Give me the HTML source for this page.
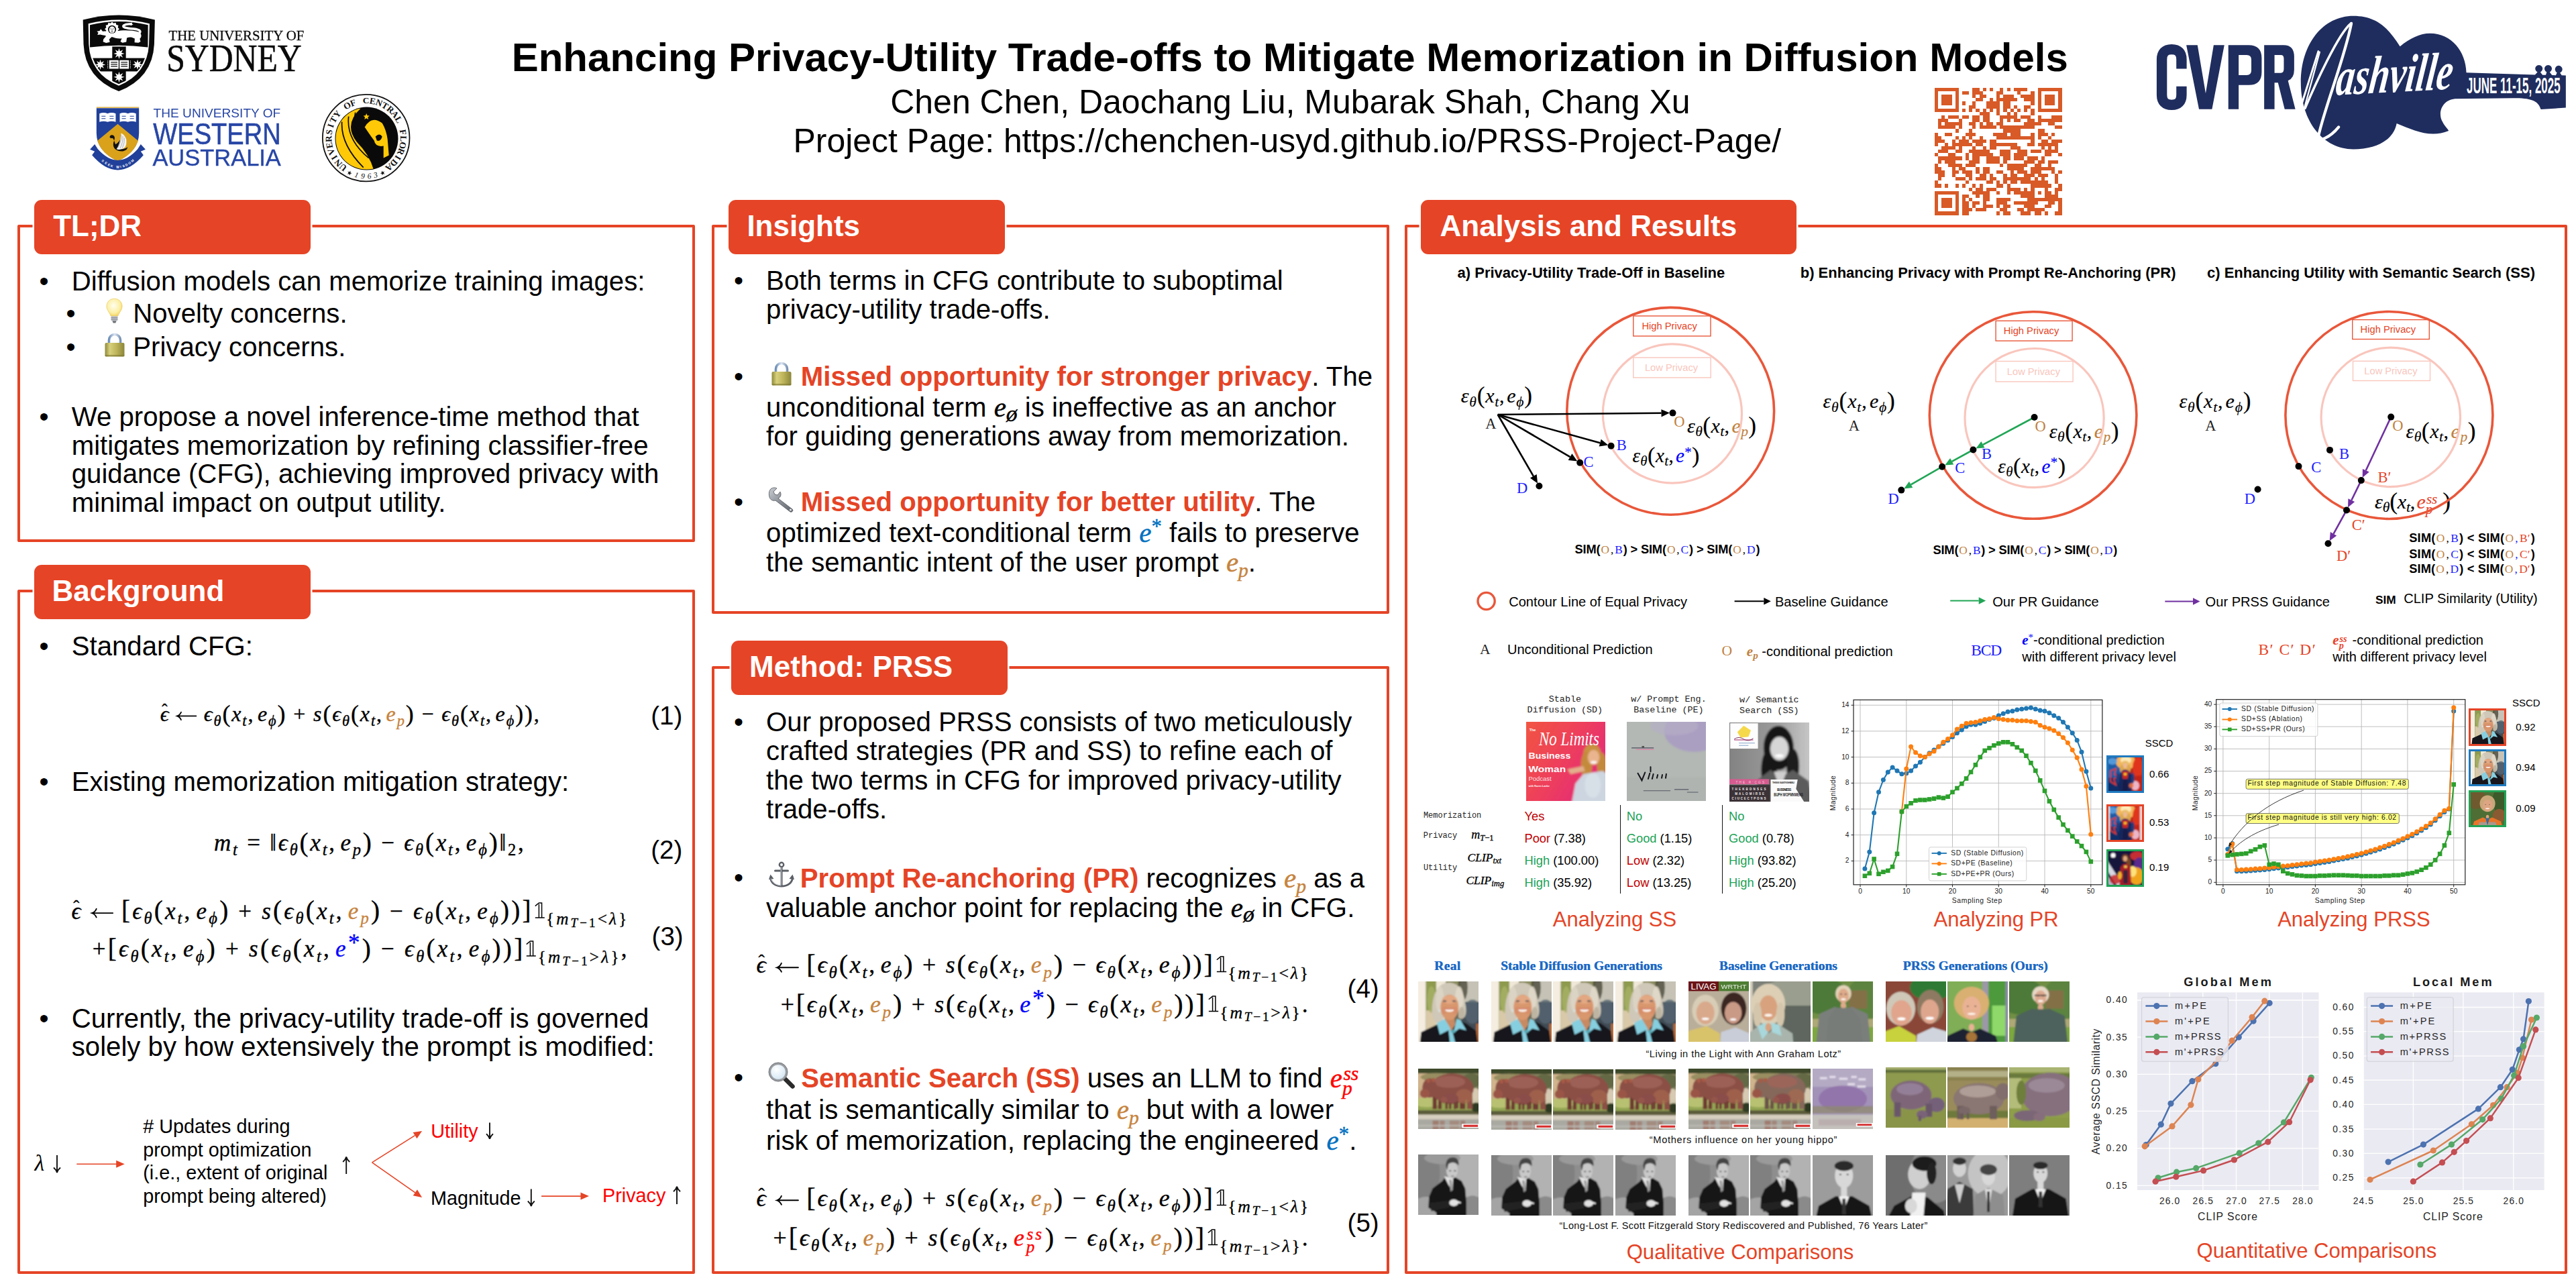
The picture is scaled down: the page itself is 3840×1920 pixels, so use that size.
<!DOCTYPE html>
<html><head><meta charset="utf-8"><title>PRSS Poster</title>
<style>
html,body{margin:0;padding:0;background:#fff;font-family:"Liberation Sans",sans-serif;}
body{width:3840px;height:1920px;position:relative;overflow:hidden;font-family:"Liberation Sans",sans-serif;color:#000;}
.t{position:absolute;white-space:nowrap;line-height:1;}
.box{position:absolute;border:4px solid #E54426;box-sizing:border-box;border-radius:2px;}
.pill{position:absolute;background:#E54426;border-radius:11px;box-shadow:0 0 0 2.5px #fff;}
.abs{position:absolute;}
svg{position:absolute;overflow:visible;}
sub,sup{line-height:0;}
</style></head>
<body>
<!-- header -->
<div class="t" style="left:762.7px;top:56.0px;font-size:60.0px;font-weight:bold;">Enhancing Privacy-Utility Trade-offs to Mitigate Memorization in Diffusion Models</div>
<div class="t" style="left:1327.2px;top:126.7px;font-size:50.0px;">Chen Chen, Daochang Liu, Mubarak Shah, Chang Xu</div>
<div class="t" style="left:1182.5px;top:186.3px;font-size:49.9px;">Project Page: https://chenchen-usyd.github.io/PRSS-Project-Page/</div>
<svg style="left:2883.9px;top:131.1px" width="189.5" height="189.5" viewBox="0 0 37 37" shape-rendering="crispEdges"><path d="M0 0h7v1h-7zM11 0h2v1h-2zM14 0h1v1h-1zM16 0h1v1h-1zM19 0h1v1h-1zM21 0h1v1h-1zM23 0h4v1h-4zM30 0h7v1h-7zM0 1h1v1h-1zM6 1h1v1h-1zM8 1h2v1h-2zM11 1h3v1h-3zM18 1h2v1h-2zM24 1h1v1h-1zM28 1h1v1h-1zM30 1h1v1h-1zM36 1h1v1h-1zM0 2h1v1h-1zM2 2h3v1h-3zM6 2h1v1h-1zM11 2h1v1h-1zM13 2h2v1h-2zM18 2h1v1h-1zM20 2h3v1h-3zM25 2h4v1h-4zM30 2h1v1h-1zM32 2h3v1h-3zM36 2h1v1h-1zM0 3h1v1h-1zM2 3h3v1h-3zM6 3h1v1h-1zM12 3h2v1h-2zM16 3h1v1h-1zM18 3h6v1h-6zM26 3h3v1h-3zM30 3h1v1h-1zM32 3h3v1h-3zM36 3h1v1h-1zM0 4h1v1h-1zM2 4h3v1h-3zM6 4h1v1h-1zM8 4h1v1h-1zM11 4h1v1h-1zM15 4h4v1h-4zM20 4h2v1h-2zM28 4h1v1h-1zM30 4h1v1h-1zM32 4h3v1h-3zM36 4h1v1h-1zM0 5h1v1h-1zM6 5h1v1h-1zM10 5h2v1h-2zM15 5h4v1h-4zM20 5h2v1h-2zM23 5h1v1h-1zM26 5h2v1h-2zM30 5h1v1h-1zM36 5h1v1h-1zM0 6h7v1h-7zM8 6h1v1h-1zM10 6h1v1h-1zM12 6h1v1h-1zM14 6h1v1h-1zM16 6h1v1h-1zM18 6h1v1h-1zM20 6h1v1h-1zM22 6h1v1h-1zM24 6h1v1h-1zM26 6h1v1h-1zM28 6h1v1h-1zM30 6h7v1h-7zM13 7h3v1h-3zM18 7h1v1h-1zM21 7h1v1h-1zM23 7h1v1h-1zM28 7h1v1h-1zM2 8h1v1h-1zM4 8h3v1h-3zM8 8h2v1h-2zM11 8h2v1h-2zM14 8h2v1h-2zM19 8h5v1h-5zM25 8h3v1h-3zM30 8h1v1h-1zM34 8h3v1h-3zM1 9h3v1h-3zM7 9h1v1h-1zM11 9h2v1h-2zM14 9h2v1h-2zM19 9h1v1h-1zM21 9h1v1h-1zM23 9h2v1h-2zM27 9h2v1h-2zM30 9h7v1h-7zM1 10h1v1h-1zM3 10h5v1h-5zM10 10h2v1h-2zM13 10h1v1h-1zM15 10h2v1h-2zM18 10h2v1h-2zM26 10h5v1h-5zM33 10h2v1h-2zM1 11h5v1h-5zM7 11h1v1h-1zM11 11h1v1h-1zM13 11h5v1h-5zM19 11h10v1h-10zM35 11h2v1h-2zM6 12h1v1h-1zM10 12h1v1h-1zM20 12h5v1h-5zM30 12h2v1h-2zM0 13h1v1h-1zM3 13h2v1h-2zM9 13h3v1h-3zM17 13h4v1h-4zM22 13h3v1h-3zM28 13h1v1h-1zM30 13h3v1h-3zM34 13h1v1h-1zM0 14h2v1h-2zM6 14h1v1h-1zM8 14h1v1h-1zM10 14h1v1h-1zM13 14h1v1h-1zM18 14h11v1h-11zM30 14h1v1h-1zM33 14h1v1h-1zM0 15h3v1h-3zM5 15h1v1h-1zM7 15h3v1h-3zM11 15h4v1h-4zM16 15h2v1h-2zM28 15h1v1h-1zM31 15h2v1h-2zM34 15h3v1h-3zM0 16h1v1h-1zM3 16h1v1h-1zM5 16h6v1h-6zM12 16h2v1h-2zM16 16h8v1h-8zM27 16h2v1h-2zM30 16h6v1h-6zM2 17h4v1h-4zM7 17h1v1h-1zM11 17h1v1h-1zM14 17h1v1h-1zM16 17h2v1h-2zM22 17h3v1h-3zM31 17h1v1h-1zM33 17h1v1h-1zM35 17h1v1h-1zM1 18h3v1h-3zM6 18h2v1h-2zM10 18h6v1h-6zM19 18h3v1h-3zM24 18h3v1h-3zM28 18h3v1h-3zM32 18h4v1h-4zM0 19h1v1h-1zM4 19h2v1h-2zM9 19h1v1h-1zM11 19h6v1h-6zM19 19h3v1h-3zM23 19h4v1h-4zM32 19h2v1h-2zM36 19h1v1h-1zM1 20h7v1h-7zM9 20h1v1h-1zM11 20h2v1h-2zM15 20h4v1h-4zM20 20h2v1h-2zM23 20h3v1h-3zM27 20h3v1h-3zM31 20h1v1h-1zM1 21h1v1h-1zM3 21h3v1h-3zM10 21h3v1h-3zM15 21h4v1h-4zM20 21h1v1h-1zM26 21h3v1h-3zM30 21h2v1h-2zM33 21h3v1h-3zM0 22h1v1h-1zM4 22h4v1h-4zM9 22h3v1h-3zM19 22h1v1h-1zM21 22h6v1h-6zM29 22h2v1h-2zM33 22h1v1h-1zM0 23h2v1h-2zM5 23h1v1h-1zM7 23h2v1h-2zM12 23h1v1h-1zM14 23h2v1h-2zM21 23h5v1h-5zM28 23h7v1h-7zM0 24h3v1h-3zM5 24h2v1h-2zM8 24h3v1h-3zM12 24h1v1h-1zM14 24h2v1h-2zM18 24h2v1h-2zM22 24h1v1h-1zM24 24h3v1h-3zM28 24h3v1h-3zM34 24h1v1h-1zM36 24h1v1h-1zM1 25h2v1h-2zM5 25h1v1h-1zM9 25h2v1h-2zM13 25h2v1h-2zM16 25h1v1h-1zM20 25h1v1h-1zM22 25h2v1h-2zM26 25h3v1h-3zM30 25h3v1h-3zM35 25h1v1h-1zM1 26h1v1h-1zM6 26h3v1h-3zM10 26h1v1h-1zM12 26h3v1h-3zM16 26h2v1h-2zM20 26h8v1h-8zM29 26h1v1h-1zM31 26h1v1h-1zM35 26h1v1h-1zM0 27h1v1h-1zM9 27h1v1h-1zM15 27h2v1h-2zM18 27h1v1h-1zM20 27h1v1h-1zM22 27h2v1h-2zM25 27h8v1h-8zM35 27h1v1h-1zM0 28h2v1h-2zM3 28h1v1h-1zM6 28h1v1h-1zM8 28h1v1h-1zM11 28h1v1h-1zM13 28h1v1h-1zM18 28h2v1h-2zM21 28h1v1h-1zM28 28h6v1h-6zM36 28h1v1h-1zM10 29h1v1h-1zM12 29h2v1h-2zM15 29h3v1h-3zM21 29h4v1h-4zM26 29h1v1h-1zM28 29h1v1h-1zM32 29h1v1h-1zM35 29h2v1h-2zM0 30h7v1h-7zM11 30h5v1h-5zM18 30h1v1h-1zM21 30h1v1h-1zM23 30h6v1h-6zM30 30h1v1h-1zM32 30h2v1h-2zM35 30h1v1h-1zM0 31h1v1h-1zM6 31h1v1h-1zM8 31h2v1h-2zM12 31h1v1h-1zM14 31h2v1h-2zM25 31h4v1h-4zM32 31h4v1h-4zM0 32h1v1h-1zM2 32h3v1h-3zM6 32h1v1h-1zM8 32h1v1h-1zM10 32h1v1h-1zM14 32h2v1h-2zM18 32h4v1h-4zM27 32h10v1h-10zM0 33h1v1h-1zM2 33h3v1h-3zM6 33h1v1h-1zM8 33h2v1h-2zM11 33h2v1h-2zM14 33h1v1h-1zM18 33h3v1h-3zM23 33h7v1h-7zM33 33h2v1h-2zM36 33h1v1h-1zM0 34h1v1h-1zM2 34h3v1h-3zM6 34h1v1h-1zM8 34h2v1h-2zM11 34h1v1h-1zM14 34h3v1h-3zM18 34h1v1h-1zM20 34h2v1h-2zM26 34h3v1h-3zM32 34h2v1h-2zM36 34h1v1h-1zM0 35h1v1h-1zM6 35h1v1h-1zM8 35h3v1h-3zM12 35h3v1h-3zM19 35h2v1h-2zM24 35h2v1h-2zM27 35h5v1h-5zM36 35h1v1h-1zM0 36h7v1h-7zM8 36h2v1h-2zM18 36h1v1h-1zM20 36h2v1h-2zM25 36h3v1h-3zM29 36h2v1h-2zM32 36h1v1h-1zM35 36h2v1h-2z" fill="#D85A27"/></svg>
<svg style="left:110px;top:10px" width="140" height="139.800" viewBox="0 0 1001.800 1000"><path d="M98 140 Q480 40 865 140 L858 400 Q840 760 480 902 Q120 760 104 400 Z" fill="#0A0A0A"/><path d="M155 180 Q480 100 808 180 L802 400 Q785 715 480 842 Q175 715 160 400 Z" fill="#fff"/><path d="M172 195 Q480 120 792 195 L790 432 Q480 395 172 432 Z" fill="#0A0A0A"/><clipPath id="sydc"><path d="M172 195 Q480 120 792 195 L786 400 Q770 705 480 825 Q190 705 176 400 Z"/></clipPath><g clip-path="url(#sydc)"><rect x="410" y="425" width="146" height="420" fill="#0A0A0A"/><rect x="150" y="548" width="660" height="142" fill="#0A0A0A"/></g><polygon points="483.0,442.0 492.9,476.0 524.0,459.0 507.0,490.1 541.0,500.0 507.0,509.9 524.0,541.0 492.9,524.0 483.0,558.0 473.1,524.0 442.0,541.0 459.0,509.9 425.0,500.0 459.0,490.1 442.0,459.0 473.1,476.0" fill="#fff"/><polygon points="283.0,563.0 292.6,594.9 321.9,579.1 306.1,608.4 338.0,618.0 306.1,627.6 321.9,656.9 292.6,641.1 283.0,673.0 273.4,641.1 244.1,656.9 259.9,627.6 228.0,618.0 259.9,608.4 244.1,579.1 273.4,594.9" fill="#fff"/><polygon points="680.0,563.0 689.6,594.9 718.9,579.1 703.1,608.4 735.0,618.0 703.1,627.6 718.9,656.9 689.6,641.1 680.0,673.0 670.4,641.1 641.1,656.9 656.9,627.6 625.0,618.0 656.9,608.4 641.1,579.1 670.4,594.9" fill="#fff"/><polygon points="483.0,692.0 492.9,726.0 524.0,709.0 507.0,740.1 541.0,750.0 507.0,759.9 524.0,791.0 492.9,774.0 483.0,808.0 473.1,774.0 442.0,791.0 459.0,759.9 425.0,750.0 459.0,740.1 442.0,709.0 473.1,726.0" fill="#fff"/><path d="M378 570 H478 V662 H378 Z M488 570 H588 V662 H488 Z" fill="#fff"/><path d="M395 592 H465 M395 614 H465 M395 636 H465 M503 592 H573 M503 614 H573 M503 636 H573" stroke="#0A0A0A" stroke-width="9"/><path d="M362 575 v90 M604 575 v90" stroke="#fff" stroke-width="8" stroke-dasharray="10 8"/><path d="M455 262 C520 246 620 250 690 268 C728 285 726 325 704 342 L712 372 L690 384 L648 380 L650 340 C620 322 590 322 566 332 L560 376 L520 384 L498 372 L512 338 C480 346 432 332 405 322 L378 346 L384 378 L345 386 L312 374 L316 346 L344 312 C328 300 300 304 282 296 L252 300 L262 278 L246 262 L276 258 L288 238 L308 262 C352 260 402 262 455 262 Z" fill="#fff"/><path d="M690 290 Q744 250 640 236 Q505 226 532 200 Q560 180 612 186" fill="none" stroke="#fff" stroke-width="24" stroke-linecap="round"/><path d="M596 176 l30 -10 l-12 18 l22 4 l-26 12 z" fill="#fff"/><polygon points="486.0,238.0 469.8,254.6 475.5,277.0 453.3,283.3 447.0,305.5 424.6,299.8 408.0,316.0 391.4,299.8 369.0,305.5 362.7,283.3 340.5,277.0 346.2,254.6 330.0,238.0 346.2,221.4 340.5,199.0 362.7,192.7 369.0,170.5 391.4,176.2 408.0,160.0 424.6,176.2 447.0,170.5 453.3,192.7 475.5,199.0 469.8,221.4" fill="#fff"/><circle cx="408" cy="242" r="44" fill="#0A0A0A"/><ellipse cx="408" cy="246" rx="31" ry="37" fill="#fff"/><path d="M390 236 h12 M414 236 h12 M408 244 v14 M398 266 q10 8 20 0" stroke="#0A0A0A" stroke-width="6" fill="none"/></svg>
<div class="t" style="left:251.4px;top:43.1px;font-size:20.86px;font-family:'Liberation Serif',serif;color:#0A0A0A;transform:scaleY(1.025);transform-origin:0 17.5px;-webkit-text-stroke:0.25px;">THE UNIVERSITY OF</div>
<div class="t" style="left:248.2px;top:64.8px;font-size:49.68px;font-family:'Liberation Serif',serif;color:#0A0A0A;transform:scaleY(1.137);transform-origin:0 41.6px;-webkit-text-stroke:0.5px;">SYDNEY</div>
<svg style="left:120px;top:140px" width="105" height="125" viewBox="0 0 520.200 619.300"><path d="M118 97 H432 V103 H118 Z" fill="#DAA21B"/><path d="M118 105 H432 V290 Q432 420 275 497 Q118 420 118 290 Z" fill="#21409A"/><path d="M275 222 L425 345 Q395 440 275 497 Q155 440 125 345 Z" fill="#DAA21B"/><g fill="#fff"><path d="M140 145 q30 -12 60 0 q30 -12 60 0 v62 q-30 -10 -60 0 q-30 -10 -60 0 z"/><path d="M290 145 q30 -12 60 0 q30 -12 60 0 v62 q-30 -10 -60 0 q-30 -10 -60 0 z"/></g><g stroke="#21409A" stroke-width="5"><path d="M155 165 h30 M155 182 h30 M215 165 h30 M215 182 h30 M305 165 h30 M305 182 h30 M365 165 h30 M365 182 h30"/></g><path d="M215 320 q5 -22 25 -15 q20 10 8 40 q-15 35 5 60 q20 20 60 18 q30 -4 35 -30 q-30 25 -70 5 q15 -30 20 -70 q-15 30 -40 45 q-5 -20 -15 -40 q-8 -10 -18 -5 z" fill="#111"/><path d="M300 290 q25 10 38 45 q5 40 -10 60 q-30 25 -62 12 q25 -30 34 -117 z" fill="#F4F4F4"/><path d="M300 300 q5 50 -25 100 M312 310 q5 45 -20 92 M324 325 q3 35 -15 75" stroke="#888" stroke-width="3" fill="none"/><path d="M105 372 L70 410 L105 425 L85 452 Q275 672 465 452 L445 425 L480 410 L445 372 L422 408 Q275 572 128 408 Z" fill="#21409A"/><text transform="translate(160.3,500.5) rotate(39.6)" text-anchor="middle" font-family="'Liberation Sans',sans-serif" font-size="24" font-weight="bold" fill="#fff">S</text><text transform="translate(183.3,517.6) rotate(33.5)" text-anchor="middle" font-family="'Liberation Sans',sans-serif" font-size="24" font-weight="bold" fill="#fff">E</text><text transform="translate(206.2,530.9) rotate(26.4)" text-anchor="middle" font-family="'Liberation Sans',sans-serif" font-size="24" font-weight="bold" fill="#fff">E</text><text transform="translate(229.1,540.4) rotate(18.3)" text-anchor="middle" font-family="'Liberation Sans',sans-serif" font-size="24" font-weight="bold" fill="#fff">K</text><text transform="translate(275.0,548.0) rotate(0.0)" text-anchor="middle" font-family="'Liberation Sans',sans-serif" font-size="24" font-weight="bold" fill="#fff">W</text><text transform="translate(297.9,546.1) rotate(-9.4)" text-anchor="middle" font-family="'Liberation Sans',sans-serif" font-size="24" font-weight="bold" fill="#fff">I</text><text transform="translate(320.9,540.4) rotate(-18.3)" text-anchor="middle" font-family="'Liberation Sans',sans-serif" font-size="24" font-weight="bold" fill="#fff">S</text><text transform="translate(343.8,530.9) rotate(-26.4)" text-anchor="middle" font-family="'Liberation Sans',sans-serif" font-size="24" font-weight="bold" fill="#fff">D</text><text transform="translate(366.7,517.6) rotate(-33.5)" text-anchor="middle" font-family="'Liberation Sans',sans-serif" font-size="24" font-weight="bold" fill="#fff">O</text><text transform="translate(389.7,500.5) rotate(-39.6)" text-anchor="middle" font-family="'Liberation Sans',sans-serif" font-size="24" font-weight="bold" fill="#fff">M</text></svg>
<div class="t" style="left:228.6px;top:159.1px;font-size:19.11px;color:#2746A6;transform:scaleY(0.996);transform-origin:0 16.2px;">THE UNIVERSITY OF</div>
<div class="t" style="left:228.3px;top:182.9px;font-size:38.08px;color:#2746A6;transform:scaleY(1.187);transform-origin:0 32.2px;-webkit-text-stroke:0.5px #2746A6;">WESTERN</div>
<div class="t" style="left:227.4px;top:217.8px;font-size:34.46px;color:#2746A6;transform:scaleY(1.038);transform-origin:0 29.2px;-webkit-text-stroke:0.4px #2746A6;">AUSTRALIA</div>
<svg style="left:0;top:0" width="700" height="300"><circle cx="545.7" cy="205.6" r="64.800" fill="#fff" stroke="#111" stroke-width="1.800"/><circle cx="546.5" cy="206.6" r="47" fill="#0A0A0A"/><clipPath id="ucfc"><circle cx="546.5" cy="206.6" r="46"/></clipPath><g clip-path="url(#ucfc)"><path d="M499.70000000000005 197.6 Q505.70000000000005 163.6 537.7 161.6 Q511.70000000000005 185.6 531.7 211.6 Q551.7 231.6 557.7 255.6 L525.7 257.6 Q495.70000000000005 235.6 499.70000000000005 197.6 Z" fill="#FFC907"/><path d="M543.7 189.6 Q553.7 171.6 569.7 183.6 Q575.7 193.6 577.7 207.6 L579.7 231.6 L571.7 235.6 L571.7 217.6 Q559.7 219.6 557.7 209.6 Q551.7 201.6 543.7 189.6 Z" fill="#FFC907"/><path d="M509.70000000000005 181.6 Q507.70000000000005 215.6 541.7 249.6 M519.7 173.6 Q515.7 207.6 549.7 235.6 M529.7 167.6 Q523.7 199.6 553.7 221.6" fill="none" stroke="#0A0A0A" stroke-width="1.700"/><path d="M559.7 203.6 q6 -6 10 0 q-2 8 -8 6 z" fill="#0A0A0A"/></g><path d="M546.2 169.1 l1.300 3.200 l3.300 0.300 l-2.500 2.200 l0.800 3.300 l-2.900 -1.800 l-2.900 1.800 l0.800 -3.300 l-2.500 -2.200 l3.300 -0.300 z" fill="#FFC907"/><text transform="translate(514.1,246.0) rotate(-142.0)" text-anchor="middle" font-family="'Liberation Serif',serif" font-size="13.400" font-weight="bold" fill="#111">U</text><text transform="translate(507.5,239.8) rotate(-131.9)" text-anchor="middle" font-family="'Liberation Serif',serif" font-size="13.400" font-weight="bold" fill="#111">N</text><text transform="translate(502.1,232.6) rotate(-121.7)" text-anchor="middle" font-family="'Liberation Serif',serif" font-size="13.400" font-weight="bold" fill="#111">I</text><text transform="translate(498.0,224.5) rotate(-111.6)" text-anchor="middle" font-family="'Liberation Serif',serif" font-size="13.400" font-weight="bold" fill="#111">V</text><text transform="translate(495.4,215.8) rotate(-101.4)" text-anchor="middle" font-family="'Liberation Serif',serif" font-size="13.400" font-weight="bold" fill="#111">E</text><text transform="translate(494.4,206.8) rotate(-91.3)" text-anchor="middle" font-family="'Liberation Serif',serif" font-size="13.400" font-weight="bold" fill="#111">R</text><text transform="translate(495.0,197.7) rotate(-81.1)" text-anchor="middle" font-family="'Liberation Serif',serif" font-size="13.400" font-weight="bold" fill="#111">S</text><text transform="translate(497.2,188.9) rotate(-71.0)" text-anchor="middle" font-family="'Liberation Serif',serif" font-size="13.400" font-weight="bold" fill="#111">I</text><text transform="translate(500.9,180.6) rotate(-60.9)" text-anchor="middle" font-family="'Liberation Serif',serif" font-size="13.400" font-weight="bold" fill="#111">T</text><text transform="translate(506.0,173.1) rotate(-50.7)" text-anchor="middle" font-family="'Liberation Serif',serif" font-size="13.400" font-weight="bold" fill="#111">Y</text><text transform="translate(519.7,161.4) rotate(-30.4)" text-anchor="middle" font-family="'Liberation Serif',serif" font-size="13.400" font-weight="bold" fill="#111">O</text><text transform="translate(527.9,157.5) rotate(-20.3)" text-anchor="middle" font-family="'Liberation Serif',serif" font-size="13.400" font-weight="bold" fill="#111">F</text><text transform="translate(545.7,154.3) rotate(0.0)" text-anchor="middle" font-family="'Liberation Serif',serif" font-size="13.400" font-weight="bold" fill="#111">C</text><text transform="translate(554.7,155.1) rotate(10.1)" text-anchor="middle" font-family="'Liberation Serif',serif" font-size="13.400" font-weight="bold" fill="#111">E</text><text transform="translate(563.5,157.5) rotate(20.3)" text-anchor="middle" font-family="'Liberation Serif',serif" font-size="13.400" font-weight="bold" fill="#111">N</text><text transform="translate(571.7,161.4) rotate(30.4)" text-anchor="middle" font-family="'Liberation Serif',serif" font-size="13.400" font-weight="bold" fill="#111">T</text><text transform="translate(579.1,166.6) rotate(40.6)" text-anchor="middle" font-family="'Liberation Serif',serif" font-size="13.400" font-weight="bold" fill="#111">R</text><text transform="translate(585.4,173.1) rotate(50.7)" text-anchor="middle" font-family="'Liberation Serif',serif" font-size="13.400" font-weight="bold" fill="#111">A</text><text transform="translate(590.5,180.6) rotate(60.9)" text-anchor="middle" font-family="'Liberation Serif',serif" font-size="13.400" font-weight="bold" fill="#111">L</text><text transform="translate(596.4,197.7) rotate(81.1)" text-anchor="middle" font-family="'Liberation Serif',serif" font-size="13.400" font-weight="bold" fill="#111">F</text><text transform="translate(597.0,206.8) rotate(91.3)" text-anchor="middle" font-family="'Liberation Serif',serif" font-size="13.400" font-weight="bold" fill="#111">L</text><text transform="translate(596.0,215.8) rotate(101.4)" text-anchor="middle" font-family="'Liberation Serif',serif" font-size="13.400" font-weight="bold" fill="#111">O</text><text transform="translate(593.4,224.5) rotate(111.6)" text-anchor="middle" font-family="'Liberation Serif',serif" font-size="13.400" font-weight="bold" fill="#111">R</text><text transform="translate(589.3,232.6) rotate(121.7)" text-anchor="middle" font-family="'Liberation Serif',serif" font-size="13.400" font-weight="bold" fill="#111">I</text><text transform="translate(583.9,239.8) rotate(131.9)" text-anchor="middle" font-family="'Liberation Serif',serif" font-size="13.400" font-weight="bold" fill="#111">D</text><text transform="translate(577.3,246.0) rotate(142.0)" text-anchor="middle" font-family="'Liberation Serif',serif" font-size="13.400" font-weight="bold" fill="#111">A</text><polygon transform="translate(521.0,257.9) rotate(24.0)" points="0.00,-3.60 0.88,-1.21 3.42,-1.11 1.43,0.46 2.12,2.91 0.00,1.50 -2.12,2.91 -1.43,0.46 -3.42,-1.11 -0.88,-1.21" fill="#111"/><text transform="translate(530.6,264.5) rotate(14.4)" text-anchor="middle" font-family="'Liberation Serif',serif" font-size="11.500" font-style="italic" fill="#111">1</text><text transform="translate(540.6,266.2) rotate(4.8)" text-anchor="middle" font-family="'Liberation Serif',serif" font-size="11.500" font-style="italic" fill="#111">9</text><text transform="translate(550.8,266.2) rotate(-4.8)" text-anchor="middle" font-family="'Liberation Serif',serif" font-size="11.500" font-style="italic" fill="#111">6</text><text transform="translate(560.8,264.5) rotate(-14.4)" text-anchor="middle" font-family="'Liberation Serif',serif" font-size="11.500" font-style="italic" fill="#111">3</text><polygon transform="translate(570.4,257.9) rotate(-24.0)" points="0.00,-3.60 0.88,-1.21 3.42,-1.11 1.43,0.46 2.12,2.91 0.00,1.50 -2.12,2.91 -1.43,0.46 -3.42,-1.11 -0.88,-1.21" fill="#111"/></svg>
<svg style="left:3200px;top:10px" width="640" height="230.100" viewBox="0 0 2576 926"><path d="M209 372 V316 Q209 256 150 256 Q91 256 91 316 V529 Q91 589 150 589 Q209 589 209 529 V478" fill="none" stroke="#1F2D5E" stroke-width="62"/><path d="M238 230 H305 L354 520 L402 230 H466 L392 615 H314 Z" fill="#1F2D5E"/><path fill-rule="evenodd" d="M490 230 H612 Q690 230 690 308 V392 Q690 470 612 470 H552 V615 H490 Z M552 290 H600 Q628 290 628 318 V382 Q628 410 600 410 H552 Z" fill="#1F2D5E"/><path fill-rule="evenodd" d="M705 230 H822 Q885 230 885 300 V378 Q885 428 848 444 L892 615 H828 L788 456 H767 V615 H705 Z M767 290 H805 Q823 290 823 312 V372 Q823 397 805 397 H767 Z" fill="#1F2D5E"/><path d="M1240 55 C1400 55 1460 150 1520 238 C1580 190 1640 160 1700 160 C1830 160 1915 270 1918 395 L2330 408 L2345 392 A22 22 0 1 1 2362 392 L2375 409 L2395 409 L2400 392 A22 22 0 1 1 2418 392 L2432 410 L2455 411 L2462 395 A22 22 0 1 1 2480 396 L2490 411 L2515 412 L2515 606 L2365 616 C2350 560 2300 548 2200 548 L1850 552 C1770 560 1745 640 1775 690 C1790 720 1810 735 1812 745 C1700 790 1600 740 1500 700 C1480 800 1380 855 1240 855 C1060 855 925 690 925 455 C925 220 1060 55 1240 55 Z" fill="#1F2D5E"/><g fill="none" stroke="#fff" stroke-linecap="round"><path d="M925 600 L1030 268" stroke-width="12"/><path d="M1038 272 L945 612" stroke-width="9"/><path d="M950 610 C1010 470 1150 160 1226 100" stroke-width="14"/><path d="M1228 100 C1190 300 1070 600 1032 770 C1022 822 1100 785 1152 722" stroke-width="17"/></g><text transform="translate(1128,530) rotate(-3) skewX(-10) scale(1,1.22)" font-family="'Liberation Serif',serif" font-style="italic" font-weight="bold" font-size="262" fill="#fff" textLength="700" lengthAdjust="spacingAndGlyphs">ashville</text><text x="1920" y="521" font-family="'Liberation Sans',sans-serif" font-weight="bold" font-size="132" fill="#fff" textLength="562" lengthAdjust="spacingAndGlyphs">JUNE 11-15, 2025</text></svg>
<!-- left column -->
<div class="box" style="left:26px;top:335px;width:1010px;height:473px"></div>
<div class="pill" style="left:51px;top:298px;width:412px;height:81px"></div>
<div class="t" style="left:79.2px;top:315.0px;font-size:44px;font-weight:bold;color:#fff;">TL;DR</div>
<div class="box" style="left:26px;top:879px;width:1010px;height:1020px"></div>
<div class="pill" style="left:51px;top:842px;width:412px;height:81px"></div>
<div class="t" style="left:77.6px;top:858.8px;font-size:44px;font-weight:bold;color:#fff;">Background</div>
<div class="t" style="left:58.6px;top:400.0px;font-size:40.2px;">&bull;</div>
<div class="t" style="left:106.7px;top:400.0px;font-size:40.2px;">Diffusion models can memorize training images:</div>
<div class="t" style="left:98.6px;top:448.2px;font-size:40.2px;">&bull;</div>
<div class="t" style="left:198.2px;top:448.2px;font-size:40.2px;">Novelty concerns.</div>
<div class="t" style="left:98.6px;top:498.2px;font-size:40.2px;">&bull;</div>
<div class="t" style="left:198.2px;top:498.2px;font-size:40.2px;">Privacy concerns.</div>
<div class="t" style="left:58.6px;top:601.7px;font-size:40.2px;">&bull;</div>
<div class="t" style="left:106.7px;top:601.7px;font-size:40.2px;">We propose a novel inference-time method that</div>
<div class="t" style="left:106.7px;top:644.5px;font-size:40.2px;">mitigates memorization by refining classifier-free</div>
<div class="t" style="left:106.7px;top:687.3px;font-size:40.2px;">guidance (CFG), achieving improved privacy with</div>
<div class="t" style="left:106.7px;top:730.1px;font-size:40.2px;">minimal impact on output utility.</div>
<div class="t" style="left:58.6px;top:943.8px;font-size:40.2px;">&bull;</div>
<div class="t" style="left:106.7px;top:943.8px;font-size:40.2px;">Standard CFG:</div>
<div class="t" style="left:58.6px;top:1146.0px;font-size:40.2px;">&bull;</div>
<div class="t" style="left:106.7px;top:1146.0px;font-size:40.2px;">Existing memorization mitigation strategy:</div>
<div class="t" style="left:58.6px;top:1498.7px;font-size:40.2px;">&bull;</div>
<div class="t" style="left:106.7px;top:1498.7px;font-size:40.2px;">Currently, the privacy-utility trade-off is governed</div>
<div class="t" style="left:106.7px;top:1541.2px;font-size:40.2px;">solely by how extensively the prompt is modified:</div>
<div class="t" style="left:238.7px;top:1048.1px;font-size:32px;font-family:'Liberation Serif',serif;letter-spacing:1.896px;-webkit-text-stroke:0.35px;"><span style="position:relative"><i>ϵ</i><span style="position:absolute;left:0.1em;top:0.02em;font-size:0.78em;letter-spacing:0">ˆ</span></span>&#8197;<svg style="position:static;display:inline-block;vertical-align:baseline;overflow:visible" width="0.95em" height="0.5em" viewBox="0 0 95 50"><path d="M4 26 H92 M22 8 Q16 22 3 26 Q16 30 22 44" fill="none" stroke="currentColor" stroke-width="5.4" stroke-linecap="round"/></svg>&#8197;<i>ϵ</i><span style="font-size:0.7em;position:relative;top:0.31em"><i>θ</i></span><span style="font-size:1.12em;position:relative;top:0.02em;line-height:0">(</span><i>x</i><span style="font-size:0.7em;position:relative;top:0.31em"><i>t</i></span>,&#8202;<i>e</i><span style="font-size:0.7em;position:relative;top:0.31em"><i>ϕ</i></span><span style="font-size:1.12em;position:relative;top:0.02em;line-height:0">)</span>&#8197;+&#8197;<i>s</i><span style="font-size:1.12em;position:relative;top:0.02em;line-height:0">(</span><i>ϵ</i><span style="font-size:0.7em;position:relative;top:0.31em"><i>θ</i></span><span style="font-size:1.12em;position:relative;top:0.02em;line-height:0">(</span><i>x</i><span style="font-size:0.7em;position:relative;top:0.31em"><i>t</i></span>,&#8202;<span style="color:#C6833D"><i>e</i><span style="font-size:0.7em;position:relative;top:0.31em"><i>p</i></span></span><span style="font-size:1.12em;position:relative;top:0.02em;line-height:0">)</span>&#8197;−&#8197;<i>ϵ</i><span style="font-size:0.7em;position:relative;top:0.31em"><i>θ</i></span><span style="font-size:1.12em;position:relative;top:0.02em;line-height:0">(</span><i>x</i><span style="font-size:0.7em;position:relative;top:0.31em"><i>t</i></span>,&#8202;<i>e</i><span style="font-size:0.7em;position:relative;top:0.31em"><i>ϕ</i></span><span style="font-size:1.12em;position:relative;top:0.02em;line-height:0">)</span><span style="font-size:1.12em;position:relative;top:0.02em;line-height:0">)</span>,</div>
<div class="t" style="left:970.2px;top:1048.3px;font-size:38.5px;">(1)</div>
<div class="t" style="left:319.0px;top:1238.9px;font-size:35px;font-family:'Liberation Serif',serif;letter-spacing:2.773px;-webkit-text-stroke:0.35px;"><i>m</i><span style="font-size:0.7em;position:relative;top:0.31em"><i>t</i></span>&#8197;=&#8197;‖<i>ϵ</i><span style="font-size:0.7em;position:relative;top:0.31em"><i>θ</i></span><span style="font-size:1.12em;position:relative;top:0.02em;line-height:0">(</span><i>x</i><span style="font-size:0.7em;position:relative;top:0.31em"><i>t</i></span>,&#8202;<i>e</i><span style="font-size:0.7em;position:relative;top:0.31em"><i>p</i></span><span style="font-size:1.12em;position:relative;top:0.02em;line-height:0">)</span>&#8197;−&#8197;<i>ϵ</i><span style="font-size:0.7em;position:relative;top:0.31em"><i>θ</i></span><span style="font-size:1.12em;position:relative;top:0.02em;line-height:0">(</span><i>x</i><span style="font-size:0.7em;position:relative;top:0.31em"><i>t</i></span>,&#8202;<i>e</i><span style="font-size:0.7em;position:relative;top:0.31em"><i>ϕ</i></span><span style="font-size:1.12em;position:relative;top:0.02em;line-height:0">)</span>‖<span style="font-size:0.7em;position:relative;top:0.31em">2</span>,</div>
<div class="t" style="left:970.2px;top:1248.4px;font-size:38.5px;">(2)</div>
<div class="t" style="left:106.5px;top:1340.5px;font-size:35px;font-family:'Liberation Serif',serif;letter-spacing:3.177px;-webkit-text-stroke:0.35px;"><span style="position:relative"><i>ϵ</i><span style="position:absolute;left:0.1em;top:0.02em;font-size:0.78em;letter-spacing:0">ˆ</span></span>&#8197;<svg style="position:static;display:inline-block;vertical-align:baseline;overflow:visible" width="0.95em" height="0.5em" viewBox="0 0 95 50"><path d="M4 26 H92 M22 8 Q16 22 3 26 Q16 30 22 44" fill="none" stroke="currentColor" stroke-width="5.4" stroke-linecap="round"/></svg>&#8197;<span style="font-size:1.12em;position:relative;top:0.02em;line-height:0">[</span><i>ϵ</i><span style="font-size:0.7em;position:relative;top:0.31em"><i>θ</i></span><span style="font-size:1.12em;position:relative;top:0.02em;line-height:0">(</span><i>x</i><span style="font-size:0.7em;position:relative;top:0.31em"><i>t</i></span>,&#8202;<i>e</i><span style="font-size:0.7em;position:relative;top:0.31em"><i>ϕ</i></span><span style="font-size:1.12em;position:relative;top:0.02em;line-height:0">)</span>&#8197;+&#8197;<i>s</i><span style="font-size:1.12em;position:relative;top:0.02em;line-height:0">(</span><i>ϵ</i><span style="font-size:0.7em;position:relative;top:0.31em"><i>θ</i></span><span style="font-size:1.12em;position:relative;top:0.02em;line-height:0">(</span><i>x</i><span style="font-size:0.7em;position:relative;top:0.31em"><i>t</i></span>,&#8202;<span style="color:#C6833D"><i>e</i><span style="font-size:0.7em;position:relative;top:0.31em"><i>p</i></span></span><span style="font-size:1.12em;position:relative;top:0.02em;line-height:0">)</span>&#8197;−&#8197;<i>ϵ</i><span style="font-size:0.7em;position:relative;top:0.31em"><i>θ</i></span><span style="font-size:1.12em;position:relative;top:0.02em;line-height:0">(</span><i>x</i><span style="font-size:0.7em;position:relative;top:0.31em"><i>t</i></span>,&#8202;<i>e</i><span style="font-size:0.7em;position:relative;top:0.31em"><i>ϕ</i></span><span style="font-size:1.12em;position:relative;top:0.02em;line-height:0">)</span><span style="font-size:1.12em;position:relative;top:0.02em;line-height:0">)</span><span style="font-size:1.12em;position:relative;top:0.02em;line-height:0">]</span><svg style="position:static;display:inline-block;vertical-align:baseline;overflow:visible" width="0.55em" height="0.7em" viewBox="0 0 55 70"><path d="M8 16 L24 3 L36 3 L36 66 L48 66 M8 66 L36 66 M24 66 L24 8" fill="none" stroke="currentColor" stroke-width="4.2"/></svg><span style="font-size:0.72em;position:relative;top:0.35em">{<i>m</i><span style="font-size:0.75em;position:relative;top:0.20em"><i>T</i>−1</span>&lt;<i>λ</i>}</span></div>
<div class="t" style="left:137.8px;top:1397.2px;font-size:35px;font-family:'Liberation Serif',serif;letter-spacing:3.243px;-webkit-text-stroke:0.35px;">+<span style="font-size:1.12em;position:relative;top:0.02em;line-height:0">[</span><i>ϵ</i><span style="font-size:0.7em;position:relative;top:0.31em"><i>θ</i></span><span style="font-size:1.12em;position:relative;top:0.02em;line-height:0">(</span><i>x</i><span style="font-size:0.7em;position:relative;top:0.31em"><i>t</i></span>,&#8202;<i>e</i><span style="font-size:0.7em;position:relative;top:0.31em"><i>ϕ</i></span><span style="font-size:1.12em;position:relative;top:0.02em;line-height:0">)</span>&#8197;+&#8197;<i>s</i><span style="font-size:1.12em;position:relative;top:0.02em;line-height:0">(</span><i>ϵ</i><span style="font-size:0.7em;position:relative;top:0.31em"><i>θ</i></span><span style="font-size:1.12em;position:relative;top:0.02em;line-height:0">(</span><i>x</i><span style="font-size:0.7em;position:relative;top:0.31em"><i>t</i></span>,&#8202;<span style="color:#0000FF"><i>e</i><span style="font-size:1.0em;position:relative;top:-0.25em">*</span></span><span style="font-size:1.12em;position:relative;top:0.02em;line-height:0">)</span>&#8197;−&#8197;<i>ϵ</i><span style="font-size:0.7em;position:relative;top:0.31em"><i>θ</i></span><span style="font-size:1.12em;position:relative;top:0.02em;line-height:0">(</span><i>x</i><span style="font-size:0.7em;position:relative;top:0.31em"><i>t</i></span>,&#8202;<i>e</i><span style="font-size:0.7em;position:relative;top:0.31em"><i>ϕ</i></span><span style="font-size:1.12em;position:relative;top:0.02em;line-height:0">)</span><span style="font-size:1.12em;position:relative;top:0.02em;line-height:0">)</span><span style="font-size:1.12em;position:relative;top:0.02em;line-height:0">]</span><svg style="position:static;display:inline-block;vertical-align:baseline;overflow:visible" width="0.55em" height="0.7em" viewBox="0 0 55 70"><path d="M8 16 L24 3 L36 3 L36 66 L48 66 M8 66 L36 66 M24 66 L24 8" fill="none" stroke="currentColor" stroke-width="4.2"/></svg><span style="font-size:0.72em;position:relative;top:0.35em">{<i>m</i><span style="font-size:0.75em;position:relative;top:0.20em"><i>T</i>−1</span>&gt;<i>λ</i>}</span>,</div>
<div class="t" style="left:971.6px;top:1377.2px;font-size:38.5px;">(3)</div>
<div class="t" style="left:51.6px;top:1717.4px;font-size:34px;font-family:'Liberation Serif',serif;"><i>λ</i></div>
<svg style="left:0;top:0" width="1060" height="1920"><path d="M85 1722 V1748 M80 1740.5 Q84 1744 85 1748 Q86 1744 90 1740.5" fill="none" stroke="#111" stroke-width="1.9"/><path d="M114.3 1735.3 H175.7" stroke="#E54426" stroke-width="1.6" fill="none"/><path d="M185.7 1735.3 L173.2 1729.8 L173.2 1740.8 Z" fill="#E54426"/><path d="M516.2 1724.5 V1750 M511.20000000000005 1732.0 Q515.2 1728.5 516.2 1724.5 Q517.2 1728.5 521.2 1732.0" fill="none" stroke="#111" stroke-width="1.9"/><path d="M554.6 1732.9 L618.5 1692.6" stroke="#E54426" stroke-width="1.6" fill="none"/><path d="M629.1 1685.9 L621.5 1697.2 L615.6 1687.9 Z" fill="#E54426"/><path d="M554.6 1732.9 L618.9 1777.8" stroke="#E54426" stroke-width="1.6" fill="none"/><path d="M629.1 1785 L615.7 1782.3 L622.0 1773.3 Z" fill="#E54426"/><path d="M730 1673.5 V1697.8 M725 1690.3 Q729 1693.8 730 1697.8 Q731 1693.8 735 1690.3" fill="none" stroke="#111" stroke-width="1.9"/><path d="M791.8 1772.5 V1798 M786.8 1790.5 Q790.8 1794 791.8 1798 Q792.8 1794 796.8 1790.5" fill="none" stroke="#111" stroke-width="1.9"/><path d="M807.1 1783.1 H868" stroke="#E54426" stroke-width="1.6" fill="none"/><path d="M878 1783.1 L865.5 1777.6 L865.5 1788.6 Z" fill="#E54426"/><path d="M1009 1768.8 V1795 M1004 1776.3 Q1008 1772.8 1009 1768.8 Q1010 1772.8 1014 1776.3" fill="none" stroke="#111" stroke-width="1.9"/></svg>
<div class="t" style="left:213.2px;top:1665.4px;font-size:28.8px;"># Updates during</div>
<div class="t" style="left:213.2px;top:1699.8px;font-size:28.8px;">prompt optimization</div>
<div class="t" style="left:213.2px;top:1734.2px;font-size:28.8px;">(i.e., extent of original</div>
<div class="t" style="left:213.2px;top:1768.6px;font-size:28.8px;">prompt being altered)</div>
<div class="t" style="left:642.2px;top:1671.6px;font-size:28.8px;color:#FF0000;">Utility</div>
<div class="t" style="left:642.0px;top:1771.6px;font-size:28.8px;">Magnitude</div>
<div class="t" style="left:898.0px;top:1767.7px;font-size:28.8px;color:#FF0000;">Privacy</div>
<svg style="left:157.5px;top:443.5px" width="25" height="40" viewBox="0 0 28 44"><defs><radialGradient id="blg" cx="0.45" cy="0.4" r="0.6"><stop offset="0" stop-color="#FFFEF0"/><stop offset="0.7" stop-color="#FCEFA4"/><stop offset="1" stop-color="#F3D565"/></radialGradient></defs><path d="M14 1 C5 1 1 8 1 13.5 C1 20 6 24 8 30 L20 30 C22 24 27 20 27 13.5 C27 8 23 1 14 1 Z" fill="url(#blg)" stroke="#EBCB62" stroke-width="0.8"/><rect x="8.5" y="30" width="11" height="8" rx="1.5" fill="#B9BCC2"/><rect x="8.5" y="32.2" width="11" height="1.2" fill="#8E9298"/><rect x="8.5" y="35" width="11" height="1.2" fill="#8E9298"/><path d="M10.5 38 h7 l-1.5 3.5 h-4 z" fill="#6E7278"/></svg>
<svg style="left:155.5px;top:496px" width="30" height="36" viewBox="0 0 30 36"><defs><linearGradient id="lkg" x1="0" x2="1"><stop offset="0" stop-color="#8E8A3A"/><stop offset="0.25" stop-color="#D8D07C"/><stop offset="0.6" stop-color="#BDB35A"/><stop offset="1" stop-color="#8C863A"/></linearGradient><linearGradient id="lks" x1="0" x2="1"><stop offset="0" stop-color="#6F8FB8"/><stop offset="0.5" stop-color="#DCE6F2"/><stop offset="1" stop-color="#7A93B5"/></linearGradient></defs><path d="M6.5 17 V11 A8.5 8.5 0 0 1 23.5 11 V17" fill="none" stroke="url(#lks)" stroke-width="3.6"/><rect x="0.5" y="15" width="29" height="20.5" rx="2" fill="url(#lkg)"/><rect x="0.5" y="33" width="29" height="2.5" rx="1" fill="#7C7630" opacity="0.6"/></svg>
<!-- middle column -->
<div class="box" style="left:1061px;top:335px;width:1010px;height:580px"></div>
<div class="pill" style="left:1086px;top:298px;width:412px;height:81px"></div>
<div class="t" style="left:1113.4px;top:315.0px;font-size:44px;font-weight:bold;color:#fff;">Insights</div>
<div class="box" style="left:1061px;top:993px;width:1010px;height:906px"></div>
<div class="pill" style="left:1090px;top:955px;width:412px;height:81px"></div>
<div class="t" style="left:1117.1px;top:972.4px;font-size:44px;font-weight:bold;color:#fff;">Method: PRSS</div>
<div class="t" style="left:1093.9px;top:399.4px;font-size:40.2px;">&bull;</div>
<div class="t" style="left:1142.1px;top:399.4px;font-size:40.2px;">Both terms in CFG contribute to suboptimal</div>
<div class="t" style="left:1142.1px;top:442.2px;font-size:40.2px;">privacy-utility trade-offs.</div>
<div class="t" style="left:1093.9px;top:541.6px;font-size:40.2px;">&bull;</div>
<svg style="left:1149.5px;top:538.5px" width="30" height="36" viewBox="0 0 30 36"><defs><linearGradient id="lkg" x1="0" x2="1"><stop offset="0" stop-color="#8E8A3A"/><stop offset="0.25" stop-color="#D8D07C"/><stop offset="0.6" stop-color="#BDB35A"/><stop offset="1" stop-color="#8C863A"/></linearGradient><linearGradient id="lks" x1="0" x2="1"><stop offset="0" stop-color="#6F8FB8"/><stop offset="0.5" stop-color="#DCE6F2"/><stop offset="1" stop-color="#7A93B5"/></linearGradient></defs><path d="M6.5 17 V11 A8.5 8.5 0 0 1 23.5 11 V17" fill="none" stroke="url(#lks)" stroke-width="3.6"/><rect x="0.5" y="15" width="29" height="20.5" rx="2" fill="url(#lkg)"/><rect x="0.5" y="33" width="29" height="2.5" rx="1" fill="#7C7630" opacity="0.6"/></svg>
<div class="t" style="left:1193.8px;top:541.6px;font-size:40.2px;"><b style="color:#E54426">Missed opportunity for stronger privacy</b>. The</div>
<div class="t" style="left:1142.1px;top:586.6px;font-size:40.2px;">unconditional term <span style="font-family:'Liberation Serif',serif;font-size:41px;letter-spacing:0;-webkit-text-stroke:0.45px"><i>e</i><span style="font-size:0.82em;position:relative;top:0.21em"><i>ø</i></span></span> is ineffective as an anchor</div>
<div class="t" style="left:1142.1px;top:631.1px;font-size:40.2px;">for guiding generations away from memorization.</div>
<div class="t" style="left:1093.9px;top:729.1px;font-size:40.2px;">&bull;</div>
<svg style="left:1144px;top:726px" width="42" height="38" viewBox="0 0 40 38"><defs><linearGradient id="wrg" x1="0" y1="0" x2="1" y2="1"><stop offset="0" stop-color="#C9CDD3"/><stop offset="0.5" stop-color="#8D9299"/><stop offset="1" stop-color="#5E636A"/></linearGradient></defs><path d="M3 4 C5 1 10 0 13 2 L8 7 L10 11 L14 12 L18 7 C20 11 19 15 15 17 L36 33 C38 35 36 38 33 37 L11 20 C7 21 3 19 2 15 C1 11 1 7 3 4 Z" fill="url(#wrg)" stroke="#50545A" stroke-width="0.8"/><circle cx="33.5" cy="34" r="1.6" fill="#E8EAED"/></svg>
<div class="t" style="left:1193.8px;top:729.1px;font-size:40.2px;"><b style="color:#E54426">Missed opportunity for better utility</b>. The</div>
<div class="t" style="left:1142.1px;top:773.7px;font-size:40.2px;">optimized text-conditional term <span style="font-family:'Liberation Serif',serif;font-size:41px;letter-spacing:0;-webkit-text-stroke:0.45px"><span style="color:#0070C0"><i>e</i><span style="font-size:0.75em;position:relative;top:-0.40em">*</span></span></span> fails to preserve</div>
<div class="t" style="left:1142.1px;top:817.6px;font-size:40.2px;">the semantic intent of the user prompt <span style="font-family:'Liberation Serif',serif;font-size:41px;letter-spacing:0;-webkit-text-stroke:0.45px"><span style="color:#C6833D"><i>e</i><span style="font-size:0.72em;position:relative;top:0.28em"><i>p</i></span></span></span>.</div>
<div class="t" style="left:1093.9px;top:1057.3px;font-size:40.2px;">&bull;</div>
<div class="t" style="left:1142.1px;top:1057.3px;font-size:40.2px;">Our proposed PRSS consists of two meticulously</div>
<div class="t" style="left:1142.1px;top:1100.4px;font-size:40.2px;">crafted strategies (PR and SS) to refine each of</div>
<div class="t" style="left:1142.1px;top:1143.5px;font-size:40.2px;">the two terms in CFG for improved privacy-utility</div>
<div class="t" style="left:1142.1px;top:1186.6px;font-size:40.2px;">trade-offs.</div>
<div class="t" style="left:1093.9px;top:1288.6px;font-size:40.2px;">&bull;</div>
<svg style="left:1145.5px;top:1283.5px" width="38" height="40" viewBox="0 0 38 40"><g fill="none" stroke="#5B5F66" stroke-width="3" stroke-linecap="round"><circle cx="19" cy="5" r="3.2" stroke-width="2.4"/><path d="M19 8.5 V36"/><path d="M9.5 14 H28.5"/><path d="M2.5 24 C3 33 11 37 19 37 C27 37 35 33 35.500 24"/></g><path d="M0 27 L2.5 19.500 L7.5 26 Z M38 27 L35.500 19.500 L30.500 26 Z" fill="#5B5F66"/><g fill="none" stroke="#C9CCD1" stroke-width="1" stroke-linecap="round"><path d="M18.300 9 V35"/><path d="M3.500 26 C5 32 11 35.500 18 36"/></g></svg>
<div class="t" style="left:1192.8px;top:1288.6px;font-size:40.2px;"><b style="color:#E54426">Prompt Re-anchoring (PR)</b> recognizes <span style="font-family:'Liberation Serif',serif;font-size:41px;letter-spacing:0;-webkit-text-stroke:0.45px"><span style="color:#C6833D"><i>e</i><span style="font-size:0.72em;position:relative;top:0.28em"><i>p</i></span></span></span> as a</div>
<div class="t" style="left:1142.1px;top:1332.9px;font-size:40.2px;">valuable anchor point for replacing the <span style="font-family:'Liberation Serif',serif;font-size:41px;letter-spacing:0;-webkit-text-stroke:0.45px"><i>e</i><span style="font-size:0.82em;position:relative;top:0.21em"><i>ø</i></span></span> in CFG.</div>
<div class="t" style="left:1093.9px;top:1587.0px;font-size:40.2px;">&bull;</div>
<svg style="left:1145px;top:1583px" width="40" height="40" viewBox="0 0 40 40"><defs><radialGradient id="mgg" cx="0.4" cy="0.35" r="0.7"><stop offset="0" stop-color="#FFFFFF"/><stop offset="1" stop-color="#CFE3F2"/></radialGradient></defs><path d="M24 24 L36.500 36.500" stroke="#2B2B2B" stroke-width="6.5" stroke-linecap="round"/><circle cx="15" cy="15" r="12.500" fill="url(#mgg)" stroke="#9A9DA2" stroke-width="3.4"/><circle cx="15" cy="15" r="14" fill="none" stroke="#6B6E73" stroke-width="0.8"/></svg>
<div class="t" style="left:1194.2px;top:1587.0px;font-size:40.2px;"><b style="color:#E54426">Semantic Search (SS)</b> uses an LLM to find <span style="font-family:'Liberation Serif',serif;font-size:41px;letter-spacing:0;-webkit-text-stroke:0.45px"><span style="color:#FF0000"><i>e</i><span style="display:inline-block;position:relative;width:0.92em;height:0.1em"><span style="position:absolute;left:0.05em;top:-1.05em;font-size:0.72em"><i>ss</i></span><span style="position:absolute;left:0;top:-0.3em;font-size:0.72em"><i>p</i></span></span></span></span></div>
<div class="t" style="left:1142.1px;top:1633.5px;font-size:40.2px;">that is semantically similar to <span style="font-family:'Liberation Serif',serif;font-size:41px;letter-spacing:0;-webkit-text-stroke:0.45px"><span style="color:#C6833D"><i>e</i><span style="font-size:0.72em;position:relative;top:0.28em"><i>p</i></span></span></span> but with a lower</div>
<div class="t" style="left:1142.1px;top:1679.6px;font-size:40.2px;">risk of memorization, replacing the engineered <span style="font-family:'Liberation Serif',serif;font-size:41px;letter-spacing:0;-webkit-text-stroke:0.45px"><span style="color:#0070C0"><i>e</i><span style="font-size:0.75em;position:relative;top:-0.40em">*</span></span></span>.</div>
<div class="t" style="left:1127.6px;top:1421.4px;font-size:35.8px;font-family:'Liberation Serif',serif;letter-spacing:2.775px;-webkit-text-stroke:0.35px;"><span style="position:relative"><i>ϵ</i><span style="position:absolute;left:0.1em;top:0.02em;font-size:0.78em;letter-spacing:0">ˆ</span></span>&#8197;<svg style="position:static;display:inline-block;vertical-align:baseline;overflow:visible" width="0.95em" height="0.5em" viewBox="0 0 95 50"><path d="M4 26 H92 M22 8 Q16 22 3 26 Q16 30 22 44" fill="none" stroke="currentColor" stroke-width="5.4" stroke-linecap="round"/></svg>&#8197;<span style="font-size:1.12em;position:relative;top:0.02em;line-height:0">[</span><i>ϵ</i><span style="font-size:0.7em;position:relative;top:0.31em"><i>θ</i></span><span style="font-size:1.12em;position:relative;top:0.02em;line-height:0">(</span><i>x</i><span style="font-size:0.7em;position:relative;top:0.31em"><i>t</i></span>,&#8202;<i>e</i><span style="font-size:0.7em;position:relative;top:0.31em"><i>ϕ</i></span><span style="font-size:1.12em;position:relative;top:0.02em;line-height:0">)</span>&#8197;+&#8197;<i>s</i><span style="font-size:1.12em;position:relative;top:0.02em;line-height:0">(</span><i>ϵ</i><span style="font-size:0.7em;position:relative;top:0.31em"><i>θ</i></span><span style="font-size:1.12em;position:relative;top:0.02em;line-height:0">(</span><i>x</i><span style="font-size:0.7em;position:relative;top:0.31em"><i>t</i></span>,&#8202;<span style="color:#C6833D"><i>e</i><span style="font-size:0.7em;position:relative;top:0.31em"><i>p</i></span></span><span style="font-size:1.12em;position:relative;top:0.02em;line-height:0">)</span>&#8197;−&#8197;<i>ϵ</i><span style="font-size:0.7em;position:relative;top:0.31em"><i>θ</i></span><span style="font-size:1.12em;position:relative;top:0.02em;line-height:0">(</span><i>x</i><span style="font-size:0.7em;position:relative;top:0.31em"><i>t</i></span>,&#8202;<i>e</i><span style="font-size:0.7em;position:relative;top:0.31em"><i>ϕ</i></span><span style="font-size:1.12em;position:relative;top:0.02em;line-height:0">)</span><span style="font-size:1.12em;position:relative;top:0.02em;line-height:0">)</span><span style="font-size:1.12em;position:relative;top:0.02em;line-height:0">]</span><svg style="position:static;display:inline-block;vertical-align:baseline;overflow:visible" width="0.55em" height="0.7em" viewBox="0 0 55 70"><path d="M8 16 L24 3 L36 3 L36 66 L48 66 M8 66 L36 66 M24 66 L24 8" fill="none" stroke="currentColor" stroke-width="4.2"/></svg><span style="font-size:0.72em;position:relative;top:0.35em">{<i>m</i><span style="font-size:0.75em;position:relative;top:0.20em"><i>T</i>−1</span>&lt;<i>λ</i>}</span></div>
<div class="t" style="left:1163.7px;top:1480.3px;font-size:35.8px;font-family:'Liberation Serif',serif;letter-spacing:2.754px;-webkit-text-stroke:0.35px;">+<span style="font-size:1.12em;position:relative;top:0.02em;line-height:0">[</span><i>ϵ</i><span style="font-size:0.7em;position:relative;top:0.31em"><i>θ</i></span><span style="font-size:1.12em;position:relative;top:0.02em;line-height:0">(</span><i>x</i><span style="font-size:0.7em;position:relative;top:0.31em"><i>t</i></span>,&#8202;<span style="color:#C6833D"><i>e</i><span style="font-size:0.7em;position:relative;top:0.31em"><i>p</i></span></span><span style="font-size:1.12em;position:relative;top:0.02em;line-height:0">)</span>&#8197;+&#8197;<i>s</i><span style="font-size:1.12em;position:relative;top:0.02em;line-height:0">(</span><i>ϵ</i><span style="font-size:0.7em;position:relative;top:0.31em"><i>θ</i></span><span style="font-size:1.12em;position:relative;top:0.02em;line-height:0">(</span><i>x</i><span style="font-size:0.7em;position:relative;top:0.31em"><i>t</i></span>,&#8202;<span style="color:#0000FF"><i>e</i><span style="font-size:1.0em;position:relative;top:-0.25em">*</span></span><span style="font-size:1.12em;position:relative;top:0.02em;line-height:0">)</span>&#8197;−&#8197;<i>ϵ</i><span style="font-size:0.7em;position:relative;top:0.31em"><i>θ</i></span><span style="font-size:1.12em;position:relative;top:0.02em;line-height:0">(</span><i>x</i><span style="font-size:0.7em;position:relative;top:0.31em"><i>t</i></span>,&#8202;<span style="color:#C6833D"><i>e</i><span style="font-size:0.7em;position:relative;top:0.31em"><i>p</i></span></span><span style="font-size:1.12em;position:relative;top:0.02em;line-height:0">)</span><span style="font-size:1.12em;position:relative;top:0.02em;line-height:0">)</span><span style="font-size:1.12em;position:relative;top:0.02em;line-height:0">]</span><svg style="position:static;display:inline-block;vertical-align:baseline;overflow:visible" width="0.55em" height="0.7em" viewBox="0 0 55 70"><path d="M8 16 L24 3 L36 3 L36 66 L48 66 M8 66 L36 66 M24 66 L24 8" fill="none" stroke="currentColor" stroke-width="4.2"/></svg><span style="font-size:0.72em;position:relative;top:0.35em">{<i>m</i><span style="font-size:0.75em;position:relative;top:0.20em"><i>T</i>−1</span>&gt;<i>λ</i>}</span>.</div>
<div class="t" style="left:2008.6px;top:1454.6px;font-size:38.5px;">(4)</div>
<div class="t" style="left:1127.6px;top:1769.1px;font-size:35.8px;font-family:'Liberation Serif',serif;letter-spacing:2.775px;-webkit-text-stroke:0.35px;"><span style="position:relative"><i>ϵ</i><span style="position:absolute;left:0.1em;top:0.02em;font-size:0.78em;letter-spacing:0">ˆ</span></span>&#8197;<svg style="position:static;display:inline-block;vertical-align:baseline;overflow:visible" width="0.95em" height="0.5em" viewBox="0 0 95 50"><path d="M4 26 H92 M22 8 Q16 22 3 26 Q16 30 22 44" fill="none" stroke="currentColor" stroke-width="5.4" stroke-linecap="round"/></svg>&#8197;<span style="font-size:1.12em;position:relative;top:0.02em;line-height:0">[</span><i>ϵ</i><span style="font-size:0.7em;position:relative;top:0.31em"><i>θ</i></span><span style="font-size:1.12em;position:relative;top:0.02em;line-height:0">(</span><i>x</i><span style="font-size:0.7em;position:relative;top:0.31em"><i>t</i></span>,&#8202;<i>e</i><span style="font-size:0.7em;position:relative;top:0.31em"><i>ϕ</i></span><span style="font-size:1.12em;position:relative;top:0.02em;line-height:0">)</span>&#8197;+&#8197;<i>s</i><span style="font-size:1.12em;position:relative;top:0.02em;line-height:0">(</span><i>ϵ</i><span style="font-size:0.7em;position:relative;top:0.31em"><i>θ</i></span><span style="font-size:1.12em;position:relative;top:0.02em;line-height:0">(</span><i>x</i><span style="font-size:0.7em;position:relative;top:0.31em"><i>t</i></span>,&#8202;<span style="color:#C6833D"><i>e</i><span style="font-size:0.7em;position:relative;top:0.31em"><i>p</i></span></span><span style="font-size:1.12em;position:relative;top:0.02em;line-height:0">)</span>&#8197;−&#8197;<i>ϵ</i><span style="font-size:0.7em;position:relative;top:0.31em"><i>θ</i></span><span style="font-size:1.12em;position:relative;top:0.02em;line-height:0">(</span><i>x</i><span style="font-size:0.7em;position:relative;top:0.31em"><i>t</i></span>,&#8202;<i>e</i><span style="font-size:0.7em;position:relative;top:0.31em"><i>ϕ</i></span><span style="font-size:1.12em;position:relative;top:0.02em;line-height:0">)</span><span style="font-size:1.12em;position:relative;top:0.02em;line-height:0">)</span><span style="font-size:1.12em;position:relative;top:0.02em;line-height:0">]</span><svg style="position:static;display:inline-block;vertical-align:baseline;overflow:visible" width="0.55em" height="0.7em" viewBox="0 0 55 70"><path d="M8 16 L24 3 L36 3 L36 66 L48 66 M8 66 L36 66 M24 66 L24 8" fill="none" stroke="currentColor" stroke-width="4.2"/></svg><span style="font-size:0.72em;position:relative;top:0.35em">{<i>m</i><span style="font-size:0.75em;position:relative;top:0.20em"><i>T</i>−1</span>&lt;<i>λ</i>}</span></div>
<div class="t" style="left:1152.6px;top:1828.0px;font-size:35.8px;font-family:'Liberation Serif',serif;letter-spacing:2.831px;-webkit-text-stroke:0.35px;">+<span style="font-size:1.12em;position:relative;top:0.02em;line-height:0">[</span><i>ϵ</i><span style="font-size:0.7em;position:relative;top:0.31em"><i>θ</i></span><span style="font-size:1.12em;position:relative;top:0.02em;line-height:0">(</span><i>x</i><span style="font-size:0.7em;position:relative;top:0.31em"><i>t</i></span>,&#8202;<span style="color:#C6833D"><i>e</i><span style="font-size:0.7em;position:relative;top:0.31em"><i>p</i></span></span><span style="font-size:1.12em;position:relative;top:0.02em;line-height:0">)</span>&#8197;+&#8197;<i>s</i><span style="font-size:1.12em;position:relative;top:0.02em;line-height:0">(</span><i>ϵ</i><span style="font-size:0.7em;position:relative;top:0.31em"><i>θ</i></span><span style="font-size:1.12em;position:relative;top:0.02em;line-height:0">(</span><i>x</i><span style="font-size:0.7em;position:relative;top:0.31em"><i>t</i></span>,&#8202;<span style="color:#FF0000"><i>e</i><span style="display:inline-block;position:relative;width:0.78em;height:0.1em"><span style="position:absolute;left:0.03em;top:-1.05em;font-size:0.7em"><i>ss</i></span><span style="position:absolute;left:0;top:-0.28em;font-size:0.7em"><i>p</i></span></span></span><span style="font-size:1.12em;position:relative;top:0.02em;line-height:0">)</span>&#8197;−&#8197;<i>ϵ</i><span style="font-size:0.7em;position:relative;top:0.31em"><i>θ</i></span><span style="font-size:1.12em;position:relative;top:0.02em;line-height:0">(</span><i>x</i><span style="font-size:0.7em;position:relative;top:0.31em"><i>t</i></span>,&#8202;<span style="color:#C6833D"><i>e</i><span style="font-size:0.7em;position:relative;top:0.31em"><i>p</i></span></span><span style="font-size:1.12em;position:relative;top:0.02em;line-height:0">)</span><span style="font-size:1.12em;position:relative;top:0.02em;line-height:0">)</span><span style="font-size:1.12em;position:relative;top:0.02em;line-height:0">]</span><svg style="position:static;display:inline-block;vertical-align:baseline;overflow:visible" width="0.55em" height="0.7em" viewBox="0 0 55 70"><path d="M8 16 L24 3 L36 3 L36 66 L48 66 M8 66 L36 66 M24 66 L24 8" fill="none" stroke="currentColor" stroke-width="4.2"/></svg><span style="font-size:0.72em;position:relative;top:0.35em">{<i>m</i><span style="font-size:0.75em;position:relative;top:0.20em"><i>T</i>−1</span>&gt;<i>λ</i>}</span>.</div>
<div class="t" style="left:2008.6px;top:1803.6px;font-size:38.5px;">(5)</div>
<!-- right column -->
<div class="box" style="left:2094px;top:335px;width:1733px;height:1564px"></div>
<div class="pill" style="left:2118px;top:298px;width:560px;height:81px"></div>
<div class="t" style="left:2146.5px;top:315.0px;font-size:44px;font-weight:bold;color:#fff;">Analysis and Results</div>
<div class="t" style="left:2172.6px;top:395.6px;font-size:22px;font-weight:bold;">a) Privacy-Utility Trade-Off in Baseline</div>
<div class="t" style="left:2447.5px;top:478.5px;font-size:14.7px;color:#E54426;">High Privacy</div>
<div class="t" style="left:2451.9px;top:540.6px;font-size:14.7px;color:#F9C6BD;">Low Privacy</div>
<div class="t" style="left:2177.8px;top:571.3px;font-size:30px;font-family:'Liberation Serif',serif;letter-spacing:0.705px;-webkit-text-stroke:0.15px;"><i>ε</i><span style="font-size:0.72em;position:relative;top:0.25em"><i>θ</i></span><span style="font-size:1.18em;position:relative;top:0.03em">(</span><i>x</i><span style="font-size:0.72em;position:relative;top:0.25em"><i>t</i></span>,&#8202;<i>e</i><span style="font-size:0.72em;position:relative;top:0.25em"><i>ϕ</i></span><span style="font-size:1.18em;position:relative;top:0.03em">)</span></div>
<div class="t" style="left:2214.3px;top:620.6px;font-size:22.5px;font-family:'Liberation Serif',serif;color:#222;">A</div>
<div class="t" style="left:2495.3px;top:618.0px;font-size:22.5px;font-family:'Liberation Serif',serif;color:#C0813F;">O</div>
<div class="t" style="left:2409.7px;top:653.3px;font-size:22.5px;font-family:'Liberation Serif',serif;color:#1B1BFF;">B</div>
<div class="t" style="left:2360.6px;top:678.0px;font-size:22.5px;font-family:'Liberation Serif',serif;color:#1B1BFF;">C</div>
<div class="t" style="left:2260.9px;top:717.0px;font-size:22.5px;font-family:'Liberation Serif',serif;color:#1B1BFF;">D</div>
<div class="t" style="left:2514.9px;top:615.8px;font-size:30px;font-family:'Liberation Serif',serif;letter-spacing:0.418px;-webkit-text-stroke:0.15px;"><i>ε</i><span style="font-size:0.72em;position:relative;top:0.25em"><i>θ</i></span><span style="font-size:1.18em;position:relative;top:0.03em">(</span><i>x</i><span style="font-size:0.72em;position:relative;top:0.25em"><i>t</i></span>,&#8202;<span style="color:#C0813F"><i>e</i><span style="font-size:0.72em;position:relative;top:0.25em"><i>p</i></span></span><span style="font-size:1.18em;position:relative;top:0.03em">)</span></div>
<div class="t" style="left:2433.5px;top:661.0px;font-size:29px;font-family:'Liberation Serif',serif;letter-spacing:0.419px;-webkit-text-stroke:0.15px;"><i>ε</i><span style="font-size:0.72em;position:relative;top:0.25em"><i>θ</i></span><span style="font-size:1.18em;position:relative;top:0.03em">(</span><i>x</i><span style="font-size:0.72em;position:relative;top:0.25em"><i>t</i></span>,&#8202;<span style="color:#0000FF"><i>e</i><span style="font-size:0.72em;position:relative;top:-0.39em">*</span></span><span style="font-size:1.18em;position:relative;top:0.03em">)</span></div>
<div class="t" style="left:2347.5px;top:810.3px;font-size:18.3px;font-weight:bold;letter-spacing:-0.164px;">SIM(<span style="font-family:'Liberation Serif',serif;font-weight:normal;color:#C0813F;font-size:0.95em;padding:0 0.06em">O</span><span style="font-family:'Liberation Serif',serif;font-weight:normal;color:#000;font-size:0.95em;padding:0 0.06em">,</span><span style="font-family:'Liberation Serif',serif;font-weight:normal;color:#1B1BFF;font-size:0.95em;padding:0 0.06em">B</span>) &gt; SIM(<span style="font-family:'Liberation Serif',serif;font-weight:normal;color:#C0813F;font-size:0.95em;padding:0 0.06em">O</span><span style="font-family:'Liberation Serif',serif;font-weight:normal;color:#000;font-size:0.95em;padding:0 0.06em">,</span><span style="font-family:'Liberation Serif',serif;font-weight:normal;color:#1B1BFF;font-size:0.95em;padding:0 0.06em">C</span>) &gt; SIM(<span style="font-family:'Liberation Serif',serif;font-weight:normal;color:#C0813F;font-size:0.95em;padding:0 0.06em">O</span><span style="font-family:'Liberation Serif',serif;font-weight:normal;color:#000;font-size:0.95em;padding:0 0.06em">,</span><span style="font-family:'Liberation Serif',serif;font-weight:normal;color:#1B1BFF;font-size:0.95em;padding:0 0.06em">D</span>)</div>
<div class="t" style="left:2683.7px;top:395.6px;font-size:22px;font-weight:bold;">b) Enhancing Privacy with Prompt Re-Anchoring (PR)</div>
<div class="t" style="left:2986.8px;top:486.2px;font-size:14.7px;color:#E54426;">High Privacy</div>
<div class="t" style="left:2991.8px;top:546.7px;font-size:14.7px;color:#F9C6BD;">Low Privacy</div>
<div class="t" style="left:2717.4px;top:579.4px;font-size:30px;font-family:'Liberation Serif',serif;letter-spacing:0.848px;-webkit-text-stroke:0.15px;"><i>ε</i><span style="font-size:0.72em;position:relative;top:0.25em"><i>θ</i></span><span style="font-size:1.18em;position:relative;top:0.03em">(</span><i>x</i><span style="font-size:0.72em;position:relative;top:0.25em"><i>t</i></span>,&#8202;<i>e</i><span style="font-size:0.72em;position:relative;top:0.25em"><i>ϕ</i></span><span style="font-size:1.18em;position:relative;top:0.03em">)</span></div>
<div class="t" style="left:2755.8px;top:623.7px;font-size:22.5px;font-family:'Liberation Serif',serif;color:#222;">A</div>
<div class="t" style="left:3033.6px;top:624.5px;font-size:22.5px;font-family:'Liberation Serif',serif;color:#C0813F;">O</div>
<div class="t" style="left:2954.1px;top:666.4px;font-size:22.5px;font-family:'Liberation Serif',serif;color:#1B1BFF;">B</div>
<div class="t" style="left:2914.3px;top:686.6px;font-size:22.5px;font-family:'Liberation Serif',serif;color:#1B1BFF;">C</div>
<div class="t" style="left:2814.4px;top:733.2px;font-size:22.5px;font-family:'Liberation Serif',serif;color:#1B1BFF;">D</div>
<div class="t" style="left:3054.7px;top:624.0px;font-size:30px;font-family:'Liberation Serif',serif;letter-spacing:0.495px;-webkit-text-stroke:0.15px;"><i>ε</i><span style="font-size:0.72em;position:relative;top:0.25em"><i>θ</i></span><span style="font-size:1.18em;position:relative;top:0.03em">(</span><i>x</i><span style="font-size:0.72em;position:relative;top:0.25em"><i>t</i></span>,&#8202;<span style="color:#C0813F"><i>e</i><span style="font-size:0.72em;position:relative;top:0.25em"><i>p</i></span></span><span style="font-size:1.18em;position:relative;top:0.03em">)</span></div>
<div class="t" style="left:2978.2px;top:676.5px;font-size:29px;font-family:'Liberation Serif',serif;letter-spacing:0.529px;-webkit-text-stroke:0.15px;"><i>ε</i><span style="font-size:0.72em;position:relative;top:0.25em"><i>θ</i></span><span style="font-size:1.18em;position:relative;top:0.03em">(</span><i>x</i><span style="font-size:0.72em;position:relative;top:0.25em"><i>t</i></span>,&#8202;<span style="color:#0000FF"><i>e</i><span style="font-size:0.72em;position:relative;top:-0.39em">*</span></span><span style="font-size:1.18em;position:relative;top:0.03em">)</span></div>
<div class="t" style="left:2881.5px;top:811.4px;font-size:18.3px;font-weight:bold;letter-spacing:-0.205px;">SIM(<span style="font-family:'Liberation Serif',serif;font-weight:normal;color:#C0813F;font-size:0.95em;padding:0 0.06em">O</span><span style="font-family:'Liberation Serif',serif;font-weight:normal;color:#000;font-size:0.95em;padding:0 0.06em">,</span><span style="font-family:'Liberation Serif',serif;font-weight:normal;color:#1B1BFF;font-size:0.95em;padding:0 0.06em">B</span>) &gt; SIM(<span style="font-family:'Liberation Serif',serif;font-weight:normal;color:#C0813F;font-size:0.95em;padding:0 0.06em">O</span><span style="font-family:'Liberation Serif',serif;font-weight:normal;color:#000;font-size:0.95em;padding:0 0.06em">,</span><span style="font-family:'Liberation Serif',serif;font-weight:normal;color:#1B1BFF;font-size:0.95em;padding:0 0.06em">C</span>) &gt; SIM(<span style="font-family:'Liberation Serif',serif;font-weight:normal;color:#C0813F;font-size:0.95em;padding:0 0.06em">O</span><span style="font-family:'Liberation Serif',serif;font-weight:normal;color:#000;font-size:0.95em;padding:0 0.06em">,</span><span style="font-family:'Liberation Serif',serif;font-weight:normal;color:#1B1BFF;font-size:0.95em;padding:0 0.06em">D</span>)</div>
<div class="t" style="left:3290.0px;top:395.6px;font-size:22px;font-weight:bold;">c) Enhancing Utility with Semantic Search (SS)</div>
<div class="t" style="left:3518.6px;top:483.6px;font-size:14.7px;color:#E54426;">High Privacy</div>
<div class="t" style="left:3524.3px;top:545.5px;font-size:14.7px;color:#F9C6BD;">Low Privacy</div>
<div class="t" style="left:3248.5px;top:579.2px;font-size:30px;font-family:'Liberation Serif',serif;letter-spacing:0.782px;-webkit-text-stroke:0.15px;"><i>ε</i><span style="font-size:0.72em;position:relative;top:0.25em"><i>θ</i></span><span style="font-size:1.18em;position:relative;top:0.03em">(</span><i>x</i><span style="font-size:0.72em;position:relative;top:0.25em"><i>t</i></span>,&#8202;<i>e</i><span style="font-size:0.72em;position:relative;top:0.25em"><i>ϕ</i></span><span style="font-size:1.18em;position:relative;top:0.03em">)</span></div>
<div class="t" style="left:3287.3px;top:623.8px;font-size:22.5px;font-family:'Liberation Serif',serif;color:#222;">A</div>
<div class="t" style="left:3566.3px;top:623.8px;font-size:22.5px;font-family:'Liberation Serif',serif;color:#C0813F;">O</div>
<div class="t" style="left:3487.1px;top:666.2px;font-size:22.5px;font-family:'Liberation Serif',serif;color:#1B1BFF;">B</div>
<div class="t" style="left:3445.2px;top:686.4px;font-size:22.5px;font-family:'Liberation Serif',serif;color:#1B1BFF;">C</div>
<div class="t" style="left:3345.8px;top:732.9px;font-size:22.5px;font-family:'Liberation Serif',serif;color:#1B1BFF;">D</div>
<div class="t" style="left:3544.4px;top:700.6px;font-size:22.5px;font-family:'Liberation Serif',serif;color:#E54426;">B′</div>
<div class="t" style="left:3505.8px;top:772.4px;font-size:22.5px;font-family:'Liberation Serif',serif;color:#E54426;">C′</div>
<div class="t" style="left:3483.1px;top:817.7px;font-size:22.5px;font-family:'Liberation Serif',serif;color:#E54426;">D′</div>
<div class="t" style="left:3586.4px;top:623.6px;font-size:30px;font-family:'Liberation Serif',serif;letter-spacing:0.517px;-webkit-text-stroke:0.15px;"><i>ε</i><span style="font-size:0.72em;position:relative;top:0.25em"><i>θ</i></span><span style="font-size:1.18em;position:relative;top:0.03em">(</span><i>x</i><span style="font-size:0.72em;position:relative;top:0.25em"><i>t</i></span>,&#8202;<span style="color:#C0813F"><i>e</i><span style="font-size:0.72em;position:relative;top:0.25em"><i>p</i></span></span><span style="font-size:1.18em;position:relative;top:0.03em">)</span></div>
<div class="t" style="left:3540.0px;top:728.6px;font-size:30px;font-family:'Liberation Serif',serif;letter-spacing:-0.149px;-webkit-text-stroke:0.15px;"><i>ε</i><span style="font-size:0.72em;position:relative;top:0.25em"><i>θ</i></span><span style="font-size:1.18em;position:relative;top:0.03em">(</span><i>x</i><span style="font-size:0.72em;position:relative;top:0.25em"><i>t</i></span>,&#8202;<span style="color:#E8432A"><i>e</i><span style="display:inline-block;position:relative;width:0.85em;height:0.1em"><span style="position:absolute;left:0.06em;top:-1.0em;font-size:0.7em"><i>ss</i></span><span style="position:absolute;left:0;top:-0.25em;font-size:0.7em"><i>p</i></span></span></span><span style="font-size:1.18em;position:relative;top:0.03em">)</span></div>
<div class="t" style="left:3591.2px;top:792.7px;font-size:18.3px;font-weight:bold;letter-spacing:0.227px;">SIM(<span style="font-family:'Liberation Serif',serif;font-weight:normal;color:#C0813F;font-size:0.95em;padding:0 0.06em">O</span><span style="font-family:'Liberation Serif',serif;font-weight:normal;color:#000;font-size:0.95em;padding:0 0.06em">,</span><span style="font-family:'Liberation Serif',serif;font-weight:normal;color:#1B1BFF;font-size:0.95em;padding:0 0.06em">B</span>) &lt; SIM(<span style="font-family:'Liberation Serif',serif;font-weight:normal;color:#C0813F;font-size:0.95em;padding:0 0.06em">O</span><span style="font-family:'Liberation Serif',serif;font-weight:normal;color:#1B1BFF;font-size:0.95em;padding:0 0.06em">,</span><span style="font-family:'Liberation Serif',serif;font-weight:normal;color:#E54426;font-size:0.95em;padding:0 0.06em">B′</span>)</div>
<div class="t" style="left:3591.2px;top:816.9px;font-size:18.3px;font-weight:bold;letter-spacing:0.227px;">SIM(<span style="font-family:'Liberation Serif',serif;font-weight:normal;color:#C0813F;font-size:0.95em;padding:0 0.06em">O</span><span style="font-family:'Liberation Serif',serif;font-weight:normal;color:#000;font-size:0.95em;padding:0 0.06em">,</span><span style="font-family:'Liberation Serif',serif;font-weight:normal;color:#1B1BFF;font-size:0.95em;padding:0 0.06em">C</span>) &lt; SIM(<span style="font-family:'Liberation Serif',serif;font-weight:normal;color:#C0813F;font-size:0.95em;padding:0 0.06em">O</span><span style="font-family:'Liberation Serif',serif;font-weight:normal;color:#1B1BFF;font-size:0.95em;padding:0 0.06em">,</span><span style="font-family:'Liberation Serif',serif;font-weight:normal;color:#E54426;font-size:0.95em;padding:0 0.06em">C′</span>)</div>
<div class="t" style="left:3591.2px;top:839.1px;font-size:18.3px;font-weight:bold;letter-spacing:0.125px;">SIM(<span style="font-family:'Liberation Serif',serif;font-weight:normal;color:#C0813F;font-size:0.95em;padding:0 0.06em">O</span><span style="font-family:'Liberation Serif',serif;font-weight:normal;color:#000;font-size:0.95em;padding:0 0.06em">,</span><span style="font-family:'Liberation Serif',serif;font-weight:normal;color:#1B1BFF;font-size:0.95em;padding:0 0.06em">D</span>) &lt; SIM(<span style="font-family:'Liberation Serif',serif;font-weight:normal;color:#C0813F;font-size:0.95em;padding:0 0.06em">O</span><span style="font-family:'Liberation Serif',serif;font-weight:normal;color:#1B1BFF;font-size:0.95em;padding:0 0.06em">,</span><span style="font-family:'Liberation Serif',serif;font-weight:normal;color:#E54426;font-size:0.95em;padding:0 0.06em">D′</span>)</div>
<div class="t" style="left:2249.2px;top:887.4px;font-size:20.1px;">Contour Line of Equal Privacy</div>
<div class="t" style="left:2645.9px;top:886.8px;font-size:20.1px;">Baseline Guidance</div>
<div class="t" style="left:2970.2px;top:886.8px;font-size:20.1px;">Our PR Guidance</div>
<div class="t" style="left:3287.6px;top:886.8px;font-size:20.1px;">Our PRSS Guidance</div>
<div class="t" style="left:3541.0px;top:885.6px;font-size:17.3px;font-weight:bold;">SIM</div>
<div class="t" style="left:3583.2px;top:882.2px;font-size:20.1px;">CLIP Similarity (Utility)</div>
<div class="t" style="left:2206.0px;top:957.9px;font-size:21.6px;font-family:'Liberation Serif',serif;color:#222;">A</div>
<div class="t" style="left:2246.9px;top:958.3px;font-size:20.1px;">Unconditional Prediction</div>
<div class="t" style="left:2566.6px;top:959.6px;font-size:21.6px;font-family:'Liberation Serif',serif;color:#C0813F;">O</div>
<div class="t" style="left:2603.8px;top:960.5px;font-size:20.1px;"><span style="font-family:'Liberation Serif',serif;font-size:21px"><span style="color:#C0813F"><b><i>e</i><span style="font-size:0.72em;position:relative;top:0.28em"><i>p</i></span></b></span></span>&nbsp;-conditional prediction</div>
<div class="t" style="left:2938.3px;top:957.8px;font-size:23.5px;font-family:'Liberation Serif',serif;color:#1B1BFF;letter-spacing:-1.168px;">BCD</div>
<div class="t" style="left:3014.2px;top:944.4px;font-size:20.1px;"><span style="font-family:'Liberation Serif',serif;font-size:21px"><span style="color:#0000FF"><b><i>e</i></b><span style="font-size:0.72em;position:relative;top:-0.42em">*</span></span></span>-conditional prediction</div>
<div class="t" style="left:3014.2px;top:968.9px;font-size:20.1px;">with different privacy level</div>
<div class="t" style="left:3366.4px;top:957.1px;font-size:23.5px;font-family:'Liberation Serif',serif;color:#E54426;letter-spacing:1.434px;">B′ C′ D′</div>
<div class="t" style="left:3477.3px;top:944.4px;font-size:20.1px;"><span style="font-family:'Liberation Serif',serif;font-size:21px"><span style="color:#E8432A"><b><i>e</i></b><span style="display:inline-block;position:relative;width:0.95em;height:0.1em"><span style="position:absolute;left:0.06em;top:-1.02em;font-size:0.68em"><b><i>ss</i></b></span><span style="position:absolute;left:0;top:-0.3em;font-size:0.68em"><b><i>p</i></b></span></span></span></span>-conditional prediction</div>
<div class="t" style="left:3477.3px;top:968.9px;font-size:20.1px;">with different privacy level</div>
<svg style="left:0;top:0" width="3840" height="1920"><circle cx="2490.2" cy="612.8" r="154.4" fill="none" stroke="#E9573A" stroke-width="3.6"/><circle cx="2492.9" cy="616.5" r="103.6" fill="none" stroke="#F9C6BD" stroke-width="3.2"/><rect x="2434.8" y="471" width="115.2" height="30" fill="none" stroke="#E9573A" stroke-width="1.4"/><rect x="2434.8" y="533.1" width="115.4" height="29.8" fill="none" stroke="#F9C6BD" stroke-width="1.4"/><path d="M2232.7 618.0 L2476.5 615.8" stroke="#000" stroke-width="2.6" fill="none"/><path d="M2489.0 615.6 L2476.6 621.4 L2476.4 610.2 Z" fill="#000"/><circle cx="2493.5" cy="615.6" r="5" fill="#000"/><path d="M2232.7 618.0 L2385.2 660.2" stroke="#000" stroke-width="2.6" fill="none"/><path d="M2397.3 663.5 L2383.7 665.6 L2386.7 654.8 Z" fill="#000"/><circle cx="2401.6" cy="664.7" r="5" fill="#000"/><path d="M2232.7 618.0 L2340.5 681.1" stroke="#000" stroke-width="2.6" fill="none"/><path d="M2351.3 687.4 L2337.7 685.9 L2343.4 676.3 Z" fill="#000"/><circle cx="2355.2" cy="689.7" r="5" fill="#000"/><path d="M2232.7 618.0 L2285.9 709.8" stroke="#000" stroke-width="2.6" fill="none"/><path d="M2292.1 720.6 L2281.0 712.6 L2290.7 707.0 Z" fill="#000"/><circle cx="2294.4" cy="724.5" r="5" fill="#000"/><circle cx="3030.6" cy="619" r="154.3" fill="none" stroke="#E9573A" stroke-width="3.6"/><circle cx="3032.6" cy="623.1" r="103.6" fill="none" stroke="#F9C6BD" stroke-width="3.2"/><rect x="2975.1" y="478.3" width="114" height="29.8" fill="none" stroke="#E9573A" stroke-width="1.4"/><rect x="2975.1" y="538.5" width="115" height="30.4" fill="none" stroke="#F9C6BD" stroke-width="1.4"/><path d="M3032.6 622.0 L2956.0 662.8" stroke="#21A556" stroke-width="2.6" fill="none"/><path d="M2945.4 668.4 L2953.4 658.0 L2958.5 667.5 Z" fill="#21A556"/><path d="M2941.4 670.5 L2909.7 687.8" stroke="#21A556" stroke-width="2.6" fill="none"/><path d="M2899.2 693.5 L2907.1 683.1 L2912.3 692.5 Z" fill="#21A556"/><path d="M2895.2 695.7 L2848.6 722.4" stroke="#21A556" stroke-width="2.6" fill="none"/><path d="M2838.2 728.4 L2845.9 717.7 L2851.3 727.1 Z" fill="#21A556"/><circle cx="3032.6" cy="622" r="5" fill="#000"/><circle cx="2941.4" cy="670.5" r="5" fill="#000"/><circle cx="2895.2" cy="695.7" r="5" fill="#000"/><circle cx="2834.3" cy="730.6" r="5" fill="#000"/><circle cx="3561.4" cy="619" r="154.5" fill="none" stroke="#E9573A" stroke-width="3.6"/><circle cx="3563.8" cy="621.9" r="103.7" fill="none" stroke="#F9C6BD" stroke-width="3.2"/><rect x="3506.7" y="476.6" width="114.6" height="29" fill="none" stroke="#E9573A" stroke-width="1.4"/><rect x="3507.5" y="538.3" width="115" height="29.2" fill="none" stroke="#F9C6BD" stroke-width="1.4"/><path d="M3564.2 621.6 L3526.8 701.2" stroke="#7030A0" stroke-width="2.6" fill="none"/><path d="M3521.7 712.0 L3521.9 698.9 L3531.7 703.5 Z" fill="#7030A0"/><path d="M3519.8 716.1 L3505.3 745.7" stroke="#7030A0" stroke-width="2.6" fill="none"/><path d="M3500.0 756.5 L3500.4 743.3 L3510.1 748.1 Z" fill="#7030A0"/><path d="M3498.0 760.5 L3478.5 795.8" stroke="#7030A0" stroke-width="2.6" fill="none"/><path d="M3472.7 806.3 L3473.8 793.1 L3483.2 798.4 Z" fill="#7030A0"/><circle cx="3564.2" cy="621.6" r="5" fill="#000"/><circle cx="3519.8" cy="716.1" r="5" fill="#000"/><circle cx="3498" cy="760.5" r="5" fill="#000"/><circle cx="3470.5" cy="810.2" r="5" fill="#000"/><circle cx="3473" cy="670.9" r="5" fill="#000"/><circle cx="3426.5" cy="695.1" r="5" fill="#000"/><circle cx="3365.6" cy="729.5" r="5" fill="#000"/><circle cx="2215.6" cy="896" r="12.6" fill="none" stroke="#E9573A" stroke-width="3.4"/><path d="M2585.6 896.3 L2629.3 896.3" stroke="#000" stroke-width="2.0" fill="none"/><path d="M2639.8 896.3 L2629.3 901.5 L2629.3 891.1 Z" fill="#000"/><path d="M2907.2 895.5 L2949.7 895.5" stroke="#21A556" stroke-width="1.8" fill="none"/><path d="M2960.2 895.5 L2949.7 900.7 L2949.7 890.3 Z" fill="#21A556"/><path d="M3227.3 896.5 L3269.0 896.5" stroke="#7030A0" stroke-width="1.8" fill="none"/><path d="M3279.5 896.5 L3269.0 901.7 L3269.0 891.3 Z" fill="#7030A0"/></svg>
<div class="t" style="left:2308.8px;top:1036.1px;font-size:13.4px;font-family:'Liberation Mono',monospace;color:#222;">Stable</div>
<div class="t" style="left:2276.6px;top:1052.3px;font-size:13.4px;font-family:'Liberation Mono',monospace;color:#222;">Diffusion (SD)</div>
<div class="t" style="left:2431.2px;top:1036.1px;font-size:13.4px;font-family:'Liberation Mono',monospace;color:#222;">w/ Prompt Eng.</div>
<div class="t" style="left:2435.2px;top:1052.3px;font-size:13.4px;font-family:'Liberation Mono',monospace;color:#222;">Baseline (PE)</div>
<div class="t" style="left:2593.1px;top:1036.5px;font-size:13.4px;font-family:'Liberation Mono',monospace;color:#222;">w/ Semantic</div>
<div class="t" style="left:2593.1px;top:1052.7px;font-size:13.4px;font-family:'Liberation Mono',monospace;color:#222;">Search (SS)</div>
<svg style="left:2274.5px;top:1075.9px;overflow:hidden;" width="118.4" height="118.0" viewBox="0 0 100 100" preserveAspectRatio="none"><g filter="url(#pb)"><defs><linearGradient id="pc1" x1="0" y1="0" x2="1" y2="0.6"><stop offset="0" stop-color="#F25A3C"/><stop offset="0.55" stop-color="#EE3F5C"/><stop offset="1" stop-color="#E0267E"/></linearGradient></defs><rect x="-10" y="-10" width="120" height="120" fill="url(#pc1)"/><ellipse cx="83" cy="40" rx="11" ry="12" fill="#C8913F"/><ellipse cx="76" cy="55" rx="7" ry="18" fill="#C48A3A"/><ellipse cx="95" cy="55" rx="6" ry="16" fill="#C48A3A"/><ellipse cx="85" cy="45" rx="7.5" ry="9.5" fill="#E9B48E"/><ellipse cx="85" cy="51" rx="4" ry="1.5" fill="#FFF"/><path d="M56 110 L62 78 L72 66 L96 62 L110 70 L110 110 Z" fill="#CDD5E0"/><path d="M52 60 L72 56 L74 62 L56 66 Z" fill="#E2B08C"/><ellipse cx="84" cy="80" rx="10" ry="16" fill="#DCE2EA" opacity="0.7"/></g><g fill="#fff" font-family="'Liberation Serif',serif" font-style="italic"><text x="16" y="30" font-size="25" textLength="76" lengthAdjust="spacingAndGlyphs">No Limits</text></g><g fill="#fff" font-family="'Liberation Sans',sans-serif"><text x="4" y="12" font-size="4.500" font-weight="bold">The</text><text x="3" y="47" font-size="11.500" font-weight="bold" textLength="53" lengthAdjust="spacingAndGlyphs">Business</text><text x="3" y="63.500" font-size="11.500" font-weight="bold" textLength="47" lengthAdjust="spacingAndGlyphs">Woman</text><text x="3" y="75" font-size="8" opacity="0.85">Podcast</text><text x="3" y="82" font-size="3.200" font-weight="bold">with Karen Lanke</text></g></svg>
<svg style="left:2425.2px;top:1075.9px;overflow:hidden;" width="118.3" height="118.0" viewBox="0 0 100 100" preserveAspectRatio="none"><g filter="url(#pb)"><rect x="-10" y="-10" width="120" height="120" fill="#B3B8B4"/><ellipse cx="85" cy="12" rx="38" ry="26" fill="#A99CC2" opacity="0.9"/><ellipse cx="60" cy="5" rx="30" ry="12" fill="#B5AEC6" opacity="0.7"/><rect x="-10" y="70" width="120" height="50" fill="#ABB0AE" opacity="0.6"/></g><g filter="url(#pb0)"><path d="M6 33 H34" stroke="#6A6E78" stroke-width="1.400"/><path d="M12 35 H34" stroke="#D78AA8" stroke-width="1.200"/><rect x="19" y="30.500" width="3" height="2.500" fill="#555"/><path d="M14 65 L19 74 L23 64 M27 72 l2 -7 M32 72 l1.500 -6 M38 71 l1 -4 M44 71 l0.800 -4 M49 71 l0.800 -5 M30 57 v6" stroke="#15151A" stroke-width="1.700" fill="none" stroke-linecap="round"/><path d="M21 87 H55 M60 85.500 H78 M76 89 H90" stroke="#555A66" stroke-width="0.900"/></g></svg>
<svg style="left:2578.3px;top:1076.5px;overflow:hidden;" width="118.3" height="118.0" viewBox="0 0 100 100" preserveAspectRatio="none"><g filter="url(#pb)"><defs><linearGradient id="pc3" x1="0" y1="0" x2="1" y2="0"><stop offset="0" stop-color="#7E7E7E"/><stop offset="0.55" stop-color="#9A9A9A"/><stop offset="1" stop-color="#CFCFCF"/></linearGradient></defs><rect x="-10" y="-10" width="120" height="120" fill="url(#pc3)"/><ellipse cx="62" cy="32" rx="19" ry="28" fill="#131313"/><ellipse cx="50" cy="60" rx="10" ry="26" fill="#161616"/><ellipse cx="80" cy="55" rx="8" ry="22" fill="#1A1A1A"/><ellipse cx="63" cy="33" rx="11.5" ry="15" fill="#D6D6D6"/><ellipse cx="63" cy="42" rx="5.5" ry="2" fill="#FFF"/><path d="M30 110 L36 72 L52 60 L64 70 L80 60 L100 74 L106 110 Z" fill="#5C5C5C"/><path d="M56 62 L64 84 L72 62 Z" fill="#CFCFCF"/></g><rect x="1" y="1" width="35" height="32" fill="#FDFDFD"/><path d="M10 12 L18 4 L27 10 L24 18 L14 19 Z" fill="#F6D94A"/><path d="M6 22 H30" stroke="#B0467A" stroke-width="1"/><path d="M6 21 q6 -4 12 0 t12 -1" stroke="#7A2A5A" stroke-width="0.800" fill="none"/><path d="M12 26 H32 M12 29 H24" stroke="#6A8FC0" stroke-width="0.700"/><rect x="0" y="71.500" width="50" height="6.500" fill="#D65C90"/><rect x="0" y="79" width="51" height="21" fill="#3B3236"/><g fill="#F2EEF0" font-family="'Liberation Sans',sans-serif" font-weight="bold" font-size="3.800"><text x="3" y="85.500" textLength="43">THEKBDNSES</text><text x="7" y="91.500" textLength="37">MALOMIRSE</text><text x="3" y="97.800" textLength="43">CIUCECTPONS</text></g><text x="8" y="76.800" font-family="'Liberation Sans',sans-serif" font-size="4" fill="#F7C6DA" textLength="36">THE  R'CGS</text><path d="M52 72 H86 L84 84 L94 100 H52 Z" fill="#FAFAFA"/><g fill="#222" font-family="'Liberation Sans',sans-serif" font-weight="bold"><text x="54" y="77" font-size="2.800" textLength="28">THSSS SASTKSHBBU</text><text x="60" y="86.500" font-size="4.200" textLength="18">BUSSNIESS</text><text x="56" y="93.500" font-size="5.400" textLength="37" lengthAdjust="spacingAndGlyphs">BUPH WOPMNWENS</text></g></svg>
<div class="t" style="left:2121.9px;top:1209.6px;font-size:12px;font-family:'Liberation Mono',monospace;color:#222;">Memorization</div>
<div class="t" style="left:2121.8px;top:1240.0px;font-size:12px;font-family:'Liberation Mono',monospace;color:#222;">Privacy</div>
<div class="t" style="left:2121.9px;top:1288.2px;font-size:12px;font-family:'Liberation Mono',monospace;color:#222;">Utility</div>
<div class="t" style="left:2193.2px;top:1234.7px;font-size:18px;font-family:'Liberation Serif',serif;"><span style="-webkit-text-stroke:0.3px #000"><i>m</i><span style="font-size:0.7em;position:relative;top:0.23em"><i>T</i>−1</span></span></div>
<div class="t" style="left:2187.6px;top:1270.2px;font-size:17.5px;font-family:'Liberation Serif',serif;"><span style="-webkit-text-stroke:0.3px #000"><i>CLIP</i><span style="font-size:0.72em;position:relative;top:0.25em"><i>txt</i></span></span></div>
<div class="t" style="left:2185.4px;top:1303.5px;font-size:17.5px;font-family:'Liberation Serif',serif;"><span style="-webkit-text-stroke:0.3px #000"><i>CLIP</i><span style="font-size:0.72em;position:relative;top:0.25em"><i>img</i></span></span></div>
<div class="t" style="left:2272.5px;top:1207.9px;font-size:18.3px;"><span style="color:#C00000">Yes</span></div>
<div class="t" style="left:2424.8px;top:1207.9px;font-size:18.3px;"><span style="color:#21A356">No</span></div>
<div class="t" style="left:2577.0px;top:1207.9px;font-size:18.3px;"><span style="color:#21A356">No</span></div>
<div class="t" style="left:2272.5px;top:1241.2px;font-size:18.3px;"><span style="color:#C00000">Poor</span> (7.38)</div>
<div class="t" style="left:2424.8px;top:1241.2px;font-size:18.3px;"><span style="color:#21A356">Good</span> (1.15)</div>
<div class="t" style="left:2577.0px;top:1241.2px;font-size:18.3px;"><span style="color:#21A356">Good</span> (0.78)</div>
<div class="t" style="left:2272.5px;top:1274.1px;font-size:18.3px;"><span style="color:#21A356">High</span> (100.00)</div>
<div class="t" style="left:2424.8px;top:1274.1px;font-size:18.3px;"><span style="color:#C00000">Low</span> (2.32)</div>
<div class="t" style="left:2577.0px;top:1274.1px;font-size:18.3px;"><span style="color:#21A356">High</span> (93.82)</div>
<div class="t" style="left:2272.5px;top:1307.3px;font-size:18.3px;"><span style="color:#21A356">High</span> (35.92)</div>
<div class="t" style="left:2424.8px;top:1307.3px;font-size:18.3px;"><span style="color:#C00000">Low</span> (13.25)</div>
<div class="t" style="left:2577.0px;top:1307.3px;font-size:18.3px;"><span style="color:#21A356">High</span> (25.20)</div>
<div class="abs" style="left:2414.5px;top:1200px;width:1.6px;height:132px;background:#111"></div>
<div class="abs" style="left:2566.7px;top:1200px;width:1.6px;height:132px;background:#111"></div>
<div class="t" style="left:2314.8px;top:1355.0px;font-size:31px;color:#E54426;">Analyzing SS</div>
<div class="t" style="left:2882.5px;top:1355.0px;font-size:31px;color:#E54426;">Analyzing PR</div>
<div class="t" style="left:3395.2px;top:1355.0px;font-size:31px;color:#E54426;">Analyzing PRSS</div>
<div class="t" style="left:2770.2px;top:1324.4px;font-size:10.2px;color:#222;">0</div>
<div class="t" style="left:2836.1px;top:1324.4px;font-size:10.2px;color:#222;">10</div>
<div class="t" style="left:2904.8px;top:1324.4px;font-size:10.2px;color:#222;">20</div>
<div class="t" style="left:2973.6px;top:1324.4px;font-size:10.2px;color:#222;">30</div>
<div class="t" style="left:3042.4px;top:1324.4px;font-size:10.2px;color:#222;">40</div>
<div class="t" style="left:3111.1px;top:1324.4px;font-size:10.2px;color:#222;">50</div>
<div class="t" style="left:2750.8px;top:1278.3px;font-size:10.2px;color:#222;">2</div>
<div class="t" style="left:2750.8px;top:1239.6px;font-size:10.2px;color:#222;">4</div>
<div class="t" style="left:2750.8px;top:1200.9px;font-size:10.2px;color:#222;">6</div>
<div class="t" style="left:2750.8px;top:1162.2px;font-size:10.2px;color:#222;">8</div>
<div class="t" style="left:2745.2px;top:1123.5px;font-size:10.2px;color:#222;">10</div>
<div class="t" style="left:2745.2px;top:1084.8px;font-size:10.2px;color:#222;">12</div>
<div class="t" style="left:2745.2px;top:1046.1px;font-size:10.2px;color:#222;">14</div>
<div class="t" style="left:2909.8px;top:1338.2px;font-size:10.4px;color:#222;letter-spacing:0.572px;">Sampling Step</div>
<div class="t" style="left:2732.6px;top:1181.5px;font-size:10.4px;color:#222;letter-spacing:0.45px;transform:translate(-50%,-50%) rotate(-90deg)">Magnitude</div>
<svg style="left:0;top:0" width="3840" height="1920"><rect x="2763" y="1043.3" width="370.9000000000001" height="275.5" fill="#fff" stroke="none"/><path d="M2773.0 1043.3 V1318.8" stroke="#B8B8B8" stroke-width="0.9"/><path d="M2841.8 1043.3 V1318.8" stroke="#B8B8B8" stroke-width="0.9"/><path d="M2910.5 1043.3 V1318.8" stroke="#B8B8B8" stroke-width="0.9"/><path d="M2979.3 1043.3 V1318.8" stroke="#B8B8B8" stroke-width="0.9"/><path d="M3048.0 1043.3 V1318.8" stroke="#B8B8B8" stroke-width="0.9"/><path d="M3116.8 1043.3 V1318.8" stroke="#B8B8B8" stroke-width="0.9"/><path d="M2763 1283.4 H3133.9" stroke="#B8B8B8" stroke-width="0.9"/><path d="M2763 1244.7 H3133.9" stroke="#B8B8B8" stroke-width="0.9"/><path d="M2763 1206.0 H3133.9" stroke="#B8B8B8" stroke-width="0.9"/><path d="M2763 1167.3 H3133.9" stroke="#B8B8B8" stroke-width="0.9"/><path d="M2763 1128.6 H3133.9" stroke="#B8B8B8" stroke-width="0.9"/><path d="M2763 1089.9 H3133.9" stroke="#B8B8B8" stroke-width="0.9"/><path d="M2763 1051.2 H3133.9" stroke="#B8B8B8" stroke-width="0.9"/><polyline points="2779.9,1295.0 2786.8,1269.9 2793.6,1211.8 2800.5,1180.8 2807.4,1162.5 2814.3,1150.9 2821.1,1144.1 2828.0,1148.9 2834.9,1153.8 2841.8,1152.8 2848.6,1148.9 2855.5,1142.1 2862.4,1136.3 2869.3,1128.6 2876.1,1122.8 2883.0,1118.0 2889.9,1113.1 2896.8,1108.3 2903.6,1103.4 2910.5,1098.6 2917.4,1092.8 2924.3,1088.0 2931.1,1083.1 2938.0,1080.2 2944.9,1080.2 2951.8,1078.3 2958.7,1075.4 2965.5,1072.5 2972.4,1070.6 2979.3,1066.7 2986.2,1063.8 2993.0,1060.9 2999.9,1059.9 3006.8,1058.0 3013.7,1057.0 3020.5,1056.0 3027.4,1055.1 3034.3,1057.0 3041.2,1058.9 3048.0,1059.9 3054.9,1062.8 3061.8,1066.7 3068.7,1070.6 3075.5,1076.4 3082.4,1084.1 3089.3,1092.8 3096.2,1103.4 3103.0,1120.9 3109.9,1149.9 3116.8,1175.0" fill="none" stroke="#1F77B4" stroke-width="2.1" stroke-linejoin="round"/><g fill="#1F77B4"><circle cx="2779.9" cy="1295.0" r="3.5"/><circle cx="2786.8" cy="1269.9" r="3.5"/><circle cx="2793.6" cy="1211.8" r="3.5"/><circle cx="2800.5" cy="1180.8" r="3.5"/><circle cx="2807.4" cy="1162.5" r="3.5"/><circle cx="2814.3" cy="1150.9" r="3.5"/><circle cx="2821.1" cy="1144.1" r="3.5"/><circle cx="2828.0" cy="1148.9" r="3.5"/><circle cx="2834.9" cy="1153.8" r="3.5"/><circle cx="2841.8" cy="1152.8" r="3.5"/><circle cx="2848.6" cy="1148.9" r="3.5"/><circle cx="2855.5" cy="1142.1" r="3.5"/><circle cx="2862.4" cy="1136.3" r="3.5"/><circle cx="2869.3" cy="1128.6" r="3.5"/><circle cx="2876.1" cy="1122.8" r="3.5"/><circle cx="2883.0" cy="1118.0" r="3.5"/><circle cx="2889.9" cy="1113.1" r="3.5"/><circle cx="2896.8" cy="1108.3" r="3.5"/><circle cx="2903.6" cy="1103.4" r="3.5"/><circle cx="2910.5" cy="1098.6" r="3.5"/><circle cx="2917.4" cy="1092.8" r="3.5"/><circle cx="2924.3" cy="1088.0" r="3.5"/><circle cx="2931.1" cy="1083.1" r="3.5"/><circle cx="2938.0" cy="1080.2" r="3.5"/><circle cx="2944.9" cy="1080.2" r="3.5"/><circle cx="2951.8" cy="1078.3" r="3.5"/><circle cx="2958.7" cy="1075.4" r="3.5"/><circle cx="2965.5" cy="1072.5" r="3.5"/><circle cx="2972.4" cy="1070.6" r="3.5"/><circle cx="2979.3" cy="1066.7" r="3.5"/><circle cx="2986.2" cy="1063.8" r="3.5"/><circle cx="2993.0" cy="1060.9" r="3.5"/><circle cx="2999.9" cy="1059.9" r="3.5"/><circle cx="3006.8" cy="1058.0" r="3.5"/><circle cx="3013.7" cy="1057.0" r="3.5"/><circle cx="3020.5" cy="1056.0" r="3.5"/><circle cx="3027.4" cy="1055.1" r="3.5"/><circle cx="3034.3" cy="1057.0" r="3.5"/><circle cx="3041.2" cy="1058.9" r="3.5"/><circle cx="3048.0" cy="1059.9" r="3.5"/><circle cx="3054.9" cy="1062.8" r="3.5"/><circle cx="3061.8" cy="1066.7" r="3.5"/><circle cx="3068.7" cy="1070.6" r="3.5"/><circle cx="3075.5" cy="1076.4" r="3.5"/><circle cx="3082.4" cy="1084.1" r="3.5"/><circle cx="3089.3" cy="1092.8" r="3.5"/><circle cx="3096.2" cy="1103.4" r="3.5"/><circle cx="3103.0" cy="1120.9" r="3.5"/><circle cx="3109.9" cy="1149.9" r="3.5"/><circle cx="3116.8" cy="1175.0" r="3.5"/></g><polyline points="2834.9,1209.9 2841.8,1146.0 2848.6,1113.1 2855.5,1121.8 2862.4,1126.7 2869.3,1128.6 2876.1,1123.8 2883.0,1119.9 2889.9,1113.1 2896.8,1106.3 2903.6,1101.5 2910.5,1095.7 2917.4,1087.0 2924.3,1082.2 2931.1,1078.3 2938.0,1077.3 2944.9,1076.4 2951.8,1074.4 2958.7,1072.5 2965.5,1071.5 2972.4,1069.6 2979.3,1071.5 2986.2,1072.5 2993.0,1073.5 2999.9,1073.5 3006.8,1074.4 3013.7,1074.4 3020.5,1074.4 3027.4,1075.4 3034.3,1076.4 3041.2,1081.2 3048.0,1084.1 3054.9,1086.0 3061.8,1088.9 3068.7,1093.8 3075.5,1099.6 3082.4,1107.3 3089.3,1118.0 3096.2,1129.6 3103.0,1147.0 3109.9,1172.1 3116.8,1243.7" fill="none" stroke="#FF7F0E" stroke-width="2.1" stroke-linejoin="round"/><g fill="#FF7F0E"><circle cx="2834.9" cy="1209.9" r="3.5"/><circle cx="2841.8" cy="1146.0" r="3.5"/><circle cx="2848.6" cy="1113.1" r="3.5"/><circle cx="2855.5" cy="1121.8" r="3.5"/><circle cx="2862.4" cy="1126.7" r="3.5"/><circle cx="2869.3" cy="1128.6" r="3.5"/><circle cx="2876.1" cy="1123.8" r="3.5"/><circle cx="2883.0" cy="1119.9" r="3.5"/><circle cx="2889.9" cy="1113.1" r="3.5"/><circle cx="2896.8" cy="1106.3" r="3.5"/><circle cx="2903.6" cy="1101.5" r="3.5"/><circle cx="2910.5" cy="1095.7" r="3.5"/><circle cx="2917.4" cy="1087.0" r="3.5"/><circle cx="2924.3" cy="1082.2" r="3.5"/><circle cx="2931.1" cy="1078.3" r="3.5"/><circle cx="2938.0" cy="1077.3" r="3.5"/><circle cx="2944.9" cy="1076.4" r="3.5"/><circle cx="2951.8" cy="1074.4" r="3.5"/><circle cx="2958.7" cy="1072.5" r="3.5"/><circle cx="2965.5" cy="1071.5" r="3.5"/><circle cx="2972.4" cy="1069.6" r="3.5"/><circle cx="2979.3" cy="1071.5" r="3.5"/><circle cx="2986.2" cy="1072.5" r="3.5"/><circle cx="2993.0" cy="1073.5" r="3.5"/><circle cx="2999.9" cy="1073.5" r="3.5"/><circle cx="3006.8" cy="1074.4" r="3.5"/><circle cx="3013.7" cy="1074.4" r="3.5"/><circle cx="3020.5" cy="1074.4" r="3.5"/><circle cx="3027.4" cy="1075.4" r="3.5"/><circle cx="3034.3" cy="1076.4" r="3.5"/><circle cx="3041.2" cy="1081.2" r="3.5"/><circle cx="3048.0" cy="1084.1" r="3.5"/><circle cx="3054.9" cy="1086.0" r="3.5"/><circle cx="3061.8" cy="1088.9" r="3.5"/><circle cx="3068.7" cy="1093.8" r="3.5"/><circle cx="3075.5" cy="1099.6" r="3.5"/><circle cx="3082.4" cy="1107.3" r="3.5"/><circle cx="3089.3" cy="1118.0" r="3.5"/><circle cx="3096.2" cy="1129.6" r="3.5"/><circle cx="3103.0" cy="1147.0" r="3.5"/><circle cx="3109.9" cy="1172.1" r="3.5"/><circle cx="3116.8" cy="1243.7" r="3.5"/></g><polyline points="2779.9,1305.7 2786.8,1301.8 2793.6,1280.5 2800.5,1302.8 2807.4,1299.8 2814.3,1297.9 2821.1,1292.1 2828.0,1272.8 2834.9,1209.9 2841.8,1202.1 2848.6,1197.3 2855.5,1193.4 2862.4,1192.5 2869.3,1192.5 2876.1,1191.5 2883.0,1190.5 2889.9,1188.6 2896.8,1189.6 2903.6,1187.6 2910.5,1180.8 2917.4,1175.0 2924.3,1168.3 2931.1,1160.5 2938.0,1150.9 2944.9,1140.2 2951.8,1128.6 2958.7,1118.9 2965.5,1115.1 2972.4,1111.2 2979.3,1108.3 2986.2,1106.3 2993.0,1106.3 2999.9,1109.2 3006.8,1114.1 3013.7,1118.9 3020.5,1126.7 3027.4,1137.3 3034.3,1148.9 3041.2,1163.4 3048.0,1178.9 3054.9,1194.4 3061.8,1207.0 3068.7,1218.6 3075.5,1229.2 3082.4,1237.9 3089.3,1246.6 3096.2,1254.4 3103.0,1261.1 3109.9,1269.9 3116.8,1284.4" fill="none" stroke="#2CA02C" stroke-width="2.1" stroke-linejoin="round"/><g fill="#2CA02C"><rect x="2776.6" y="1302.4" width="6.6" height="6.6"/><rect x="2783.5" y="1298.5" width="6.6" height="6.6"/><rect x="2790.3" y="1277.2" width="6.6" height="6.6"/><rect x="2797.2" y="1299.5" width="6.6" height="6.6"/><rect x="2804.1" y="1296.5" width="6.6" height="6.6"/><rect x="2811.0" y="1294.6" width="6.6" height="6.6"/><rect x="2817.8" y="1288.8" width="6.6" height="6.6"/><rect x="2824.7" y="1269.5" width="6.6" height="6.6"/><rect x="2831.6" y="1206.6" width="6.6" height="6.6"/><rect x="2838.5" y="1198.8" width="6.6" height="6.6"/><rect x="2845.3" y="1194.0" width="6.6" height="6.6"/><rect x="2852.2" y="1190.1" width="6.6" height="6.6"/><rect x="2859.1" y="1189.2" width="6.6" height="6.6"/><rect x="2866.0" y="1189.2" width="6.6" height="6.6"/><rect x="2872.8" y="1188.2" width="6.6" height="6.6"/><rect x="2879.7" y="1187.2" width="6.6" height="6.6"/><rect x="2886.6" y="1185.3" width="6.6" height="6.6"/><rect x="2893.5" y="1186.3" width="6.6" height="6.6"/><rect x="2900.3" y="1184.3" width="6.6" height="6.6"/><rect x="2907.2" y="1177.5" width="6.6" height="6.6"/><rect x="2914.1" y="1171.7" width="6.6" height="6.6"/><rect x="2921.0" y="1165.0" width="6.6" height="6.6"/><rect x="2927.8" y="1157.2" width="6.6" height="6.6"/><rect x="2934.7" y="1147.6" width="6.6" height="6.6"/><rect x="2941.6" y="1136.9" width="6.6" height="6.6"/><rect x="2948.5" y="1125.3" width="6.6" height="6.6"/><rect x="2955.4" y="1115.6" width="6.6" height="6.6"/><rect x="2962.2" y="1111.8" width="6.6" height="6.6"/><rect x="2969.1" y="1107.9" width="6.6" height="6.6"/><rect x="2976.0" y="1105.0" width="6.6" height="6.6"/><rect x="2982.9" y="1103.0" width="6.6" height="6.6"/><rect x="2989.7" y="1103.0" width="6.6" height="6.6"/><rect x="2996.6" y="1106.0" width="6.6" height="6.6"/><rect x="3003.5" y="1110.8" width="6.6" height="6.6"/><rect x="3010.4" y="1115.6" width="6.6" height="6.6"/><rect x="3017.2" y="1123.4" width="6.6" height="6.6"/><rect x="3024.1" y="1134.0" width="6.6" height="6.6"/><rect x="3031.0" y="1145.6" width="6.6" height="6.6"/><rect x="3037.9" y="1160.1" width="6.6" height="6.6"/><rect x="3044.7" y="1175.6" width="6.6" height="6.6"/><rect x="3051.6" y="1191.1" width="6.6" height="6.6"/><rect x="3058.5" y="1203.7" width="6.6" height="6.6"/><rect x="3065.4" y="1215.3" width="6.6" height="6.6"/><rect x="3072.2" y="1225.9" width="6.6" height="6.6"/><rect x="3079.1" y="1234.6" width="6.6" height="6.6"/><rect x="3086.0" y="1243.3" width="6.6" height="6.6"/><rect x="3092.9" y="1251.1" width="6.6" height="6.6"/><rect x="3099.7" y="1257.8" width="6.6" height="6.6"/><rect x="3106.6" y="1266.6" width="6.6" height="6.6"/><rect x="3113.5" y="1281.1" width="6.6" height="6.6"/></g><rect x="2763" y="1043.3" width="370.9000000000001" height="275.5" fill="none" stroke="#222" stroke-width="1.2"/><path d="M2773.0 1318.8 v3.5" stroke="#222" stroke-width="1"/><path d="M2841.8 1318.8 v3.5" stroke="#222" stroke-width="1"/><path d="M2910.5 1318.8 v3.5" stroke="#222" stroke-width="1"/><path d="M2979.3 1318.8 v3.5" stroke="#222" stroke-width="1"/><path d="M3048.0 1318.8 v3.5" stroke="#222" stroke-width="1"/><path d="M3116.8 1318.8 v3.5" stroke="#222" stroke-width="1"/><path d="M2763 1283.4 h-3.500" stroke="#222" stroke-width="1"/><path d="M2763 1244.7 h-3.500" stroke="#222" stroke-width="1"/><path d="M2763 1206.0 h-3.500" stroke="#222" stroke-width="1"/><path d="M2763 1167.3 h-3.500" stroke="#222" stroke-width="1"/><path d="M2763 1128.6 h-3.500" stroke="#222" stroke-width="1"/><path d="M2763 1089.9 h-3.500" stroke="#222" stroke-width="1"/><path d="M2763 1051.2 h-3.500" stroke="#222" stroke-width="1"/><rect x="2875.5" y="1262.9" width="145.30000000000018" height="50.0" rx="2.500" fill="#fff" fill-opacity="0.8" stroke="#CCC" stroke-width="0.9"/><path d="M2879.5 1271.8999999999999 H2901.9" stroke="#1F77B4" stroke-width="1.9"/><circle cx="2890.7" cy="1271.8999999999999" r="3" fill="#1F77B4"/><path d="M2879.5 1287.3999999999999 H2901.9" stroke="#FF7F0E" stroke-width="1.9"/><circle cx="2890.7" cy="1287.3999999999999" r="3" fill="#FF7F0E"/><path d="M2879.5 1302.8999999999999 H2901.9" stroke="#2CA02C" stroke-width="1.9"/><rect x="2887.8999999999996" y="1300.1" width="5.6" height="5.6" fill="#2CA02C"/><rect x="3303.7" y="1042.7" width="371.10000000000036" height="276.0999999999999" fill="#fff" stroke="none"/><path d="M3313.9 1042.7 V1318.8" stroke="#B8B8B8" stroke-width="0.9"/><path d="M3382.7 1042.7 V1318.8" stroke="#B8B8B8" stroke-width="0.9"/><path d="M3451.4 1042.7 V1318.8" stroke="#B8B8B8" stroke-width="0.9"/><path d="M3520.2 1042.7 V1318.8" stroke="#B8B8B8" stroke-width="0.9"/><path d="M3588.9 1042.7 V1318.8" stroke="#B8B8B8" stroke-width="0.9"/><path d="M3657.7 1042.7 V1318.8" stroke="#B8B8B8" stroke-width="0.9"/><path d="M3303.7 1315.3 H3674.8" stroke="#B8B8B8" stroke-width="0.9"/><path d="M3303.7 1282.1 H3674.8" stroke="#B8B8B8" stroke-width="0.9"/><path d="M3303.7 1249.0 H3674.8" stroke="#B8B8B8" stroke-width="0.9"/><path d="M3303.7 1215.8 H3674.8" stroke="#B8B8B8" stroke-width="0.9"/><path d="M3303.7 1182.7 H3674.8" stroke="#B8B8B8" stroke-width="0.9"/><path d="M3303.7 1149.5 H3674.8" stroke="#B8B8B8" stroke-width="0.9"/><path d="M3303.7 1116.4 H3674.8" stroke="#B8B8B8" stroke-width="0.9"/><path d="M3303.7 1083.2 H3674.8" stroke="#B8B8B8" stroke-width="0.9"/><path d="M3303.7 1050.1 H3674.8" stroke="#B8B8B8" stroke-width="0.9"/><polyline points="3320.8,1265.7 3327.7,1257.6 3334.5,1298.7 3341.4,1298.7 3348.3,1298.4 3355.2,1298.1 3362.0,1297.4 3368.9,1297.1 3375.8,1296.4 3382.7,1295.7 3389.5,1294.7 3396.4,1294.1 3403.3,1293.4 3410.2,1292.8 3417.0,1291.8 3423.9,1291.1 3430.8,1290.1 3437.7,1289.4 3444.5,1288.8 3451.4,1287.5 3458.3,1286.5 3465.2,1285.5 3472.0,1284.5 3478.9,1283.1 3485.8,1281.8 3492.7,1280.5 3499.6,1279.2 3506.4,1277.5 3513.3,1275.9 3520.2,1274.2 3527.1,1272.2 3533.9,1270.2 3540.8,1268.2 3547.7,1265.9 3554.6,1263.6 3561.4,1260.9 3568.3,1258.3 3575.2,1255.3 3582.1,1252.3 3588.9,1249.0 3595.8,1245.7 3602.7,1242.0 3609.6,1238.1 3616.4,1233.8 3623.3,1229.1 3630.2,1223.1 3637.1,1216.5 3643.9,1210.5 3650.8,1205.9 3657.7,1060.0" fill="none" stroke="#1F77B4" stroke-width="2.1" stroke-linejoin="round"/><g fill="#1F77B4"><circle cx="3320.8" cy="1265.7" r="3.5"/><circle cx="3327.7" cy="1257.6" r="3.5"/><circle cx="3334.5" cy="1298.7" r="3.5"/><circle cx="3341.4" cy="1298.7" r="3.5"/><circle cx="3348.3" cy="1298.4" r="3.5"/><circle cx="3355.2" cy="1298.1" r="3.5"/><circle cx="3362.0" cy="1297.4" r="3.5"/><circle cx="3368.9" cy="1297.1" r="3.5"/><circle cx="3375.8" cy="1296.4" r="3.5"/><circle cx="3382.7" cy="1295.7" r="3.5"/><circle cx="3389.5" cy="1294.7" r="3.5"/><circle cx="3396.4" cy="1294.1" r="3.5"/><circle cx="3403.3" cy="1293.4" r="3.5"/><circle cx="3410.2" cy="1292.8" r="3.5"/><circle cx="3417.0" cy="1291.8" r="3.5"/><circle cx="3423.9" cy="1291.1" r="3.5"/><circle cx="3430.8" cy="1290.1" r="3.5"/><circle cx="3437.7" cy="1289.4" r="3.5"/><circle cx="3444.5" cy="1288.8" r="3.5"/><circle cx="3451.4" cy="1287.5" r="3.5"/><circle cx="3458.3" cy="1286.5" r="3.5"/><circle cx="3465.2" cy="1285.5" r="3.5"/><circle cx="3472.0" cy="1284.5" r="3.5"/><circle cx="3478.9" cy="1283.1" r="3.5"/><circle cx="3485.8" cy="1281.8" r="3.5"/><circle cx="3492.7" cy="1280.5" r="3.5"/><circle cx="3499.6" cy="1279.2" r="3.5"/><circle cx="3506.4" cy="1277.5" r="3.5"/><circle cx="3513.3" cy="1275.9" r="3.5"/><circle cx="3520.2" cy="1274.2" r="3.5"/><circle cx="3527.1" cy="1272.2" r="3.5"/><circle cx="3533.9" cy="1270.2" r="3.5"/><circle cx="3540.8" cy="1268.2" r="3.5"/><circle cx="3547.7" cy="1265.9" r="3.5"/><circle cx="3554.6" cy="1263.6" r="3.5"/><circle cx="3561.4" cy="1260.9" r="3.5"/><circle cx="3568.3" cy="1258.3" r="3.5"/><circle cx="3575.2" cy="1255.3" r="3.5"/><circle cx="3582.1" cy="1252.3" r="3.5"/><circle cx="3588.9" cy="1249.0" r="3.5"/><circle cx="3595.8" cy="1245.7" r="3.5"/><circle cx="3602.7" cy="1242.0" r="3.5"/><circle cx="3609.6" cy="1238.1" r="3.5"/><circle cx="3616.4" cy="1233.8" r="3.5"/><circle cx="3623.3" cy="1229.1" r="3.5"/><circle cx="3630.2" cy="1223.1" r="3.5"/><circle cx="3637.1" cy="1216.5" r="3.5"/><circle cx="3643.9" cy="1210.5" r="3.5"/><circle cx="3650.8" cy="1205.9" r="3.5"/><circle cx="3657.7" cy="1060.0" r="3.5"/></g><polyline points="3320.8,1273.5 3327.7,1258.3 3334.5,1296.4 3341.4,1296.4 3348.3,1296.1 3355.2,1295.7 3362.0,1295.1 3368.9,1294.7 3375.8,1294.1 3382.7,1293.4 3389.5,1292.4 3396.4,1291.8 3403.3,1291.1 3410.2,1290.4 3417.0,1289.4 3423.9,1288.8 3430.8,1287.8 3437.7,1287.1 3444.5,1286.5 3451.4,1285.1 3458.3,1284.1 3465.2,1283.1 3472.0,1282.1 3478.9,1280.8 3485.8,1279.5 3492.7,1278.2 3499.6,1276.8 3506.4,1275.2 3513.3,1273.5 3520.2,1271.9 3527.1,1269.9 3533.9,1267.9 3540.8,1265.9 3547.7,1263.6 3554.6,1261.3 3561.4,1258.6 3568.3,1256.0 3575.2,1253.0 3582.1,1250.0 3588.9,1246.7 3595.8,1243.4 3602.7,1239.7 3609.6,1235.7 3616.4,1231.4 3623.3,1226.8 3630.2,1220.8 3637.1,1214.2 3643.9,1208.2 3650.8,1205.2 3657.7,1054.7" fill="none" stroke="#FF7F0E" stroke-width="2.1" stroke-linejoin="round"/><g fill="#FF7F0E"><circle cx="3320.8" cy="1273.5" r="3.5"/><circle cx="3327.7" cy="1258.3" r="3.5"/><circle cx="3334.5" cy="1296.4" r="3.5"/><circle cx="3341.4" cy="1296.4" r="3.5"/><circle cx="3348.3" cy="1296.1" r="3.5"/><circle cx="3355.2" cy="1295.7" r="3.5"/><circle cx="3362.0" cy="1295.1" r="3.5"/><circle cx="3368.9" cy="1294.7" r="3.5"/><circle cx="3375.8" cy="1294.1" r="3.5"/><circle cx="3382.7" cy="1293.4" r="3.5"/><circle cx="3389.5" cy="1292.4" r="3.5"/><circle cx="3396.4" cy="1291.8" r="3.5"/><circle cx="3403.3" cy="1291.1" r="3.5"/><circle cx="3410.2" cy="1290.4" r="3.5"/><circle cx="3417.0" cy="1289.4" r="3.5"/><circle cx="3423.9" cy="1288.8" r="3.5"/><circle cx="3430.8" cy="1287.8" r="3.5"/><circle cx="3437.7" cy="1287.1" r="3.5"/><circle cx="3444.5" cy="1286.5" r="3.5"/><circle cx="3451.4" cy="1285.1" r="3.5"/><circle cx="3458.3" cy="1284.1" r="3.5"/><circle cx="3465.2" cy="1283.1" r="3.5"/><circle cx="3472.0" cy="1282.1" r="3.5"/><circle cx="3478.9" cy="1280.8" r="3.5"/><circle cx="3485.8" cy="1279.5" r="3.5"/><circle cx="3492.7" cy="1278.2" r="3.5"/><circle cx="3499.6" cy="1276.8" r="3.5"/><circle cx="3506.4" cy="1275.2" r="3.5"/><circle cx="3513.3" cy="1273.5" r="3.5"/><circle cx="3520.2" cy="1271.9" r="3.5"/><circle cx="3527.1" cy="1269.9" r="3.5"/><circle cx="3533.9" cy="1267.9" r="3.5"/><circle cx="3540.8" cy="1265.9" r="3.5"/><circle cx="3547.7" cy="1263.6" r="3.5"/><circle cx="3554.6" cy="1261.3" r="3.5"/><circle cx="3561.4" cy="1258.6" r="3.5"/><circle cx="3568.3" cy="1256.0" r="3.5"/><circle cx="3575.2" cy="1253.0" r="3.5"/><circle cx="3582.1" cy="1250.0" r="3.5"/><circle cx="3588.9" cy="1246.7" r="3.5"/><circle cx="3595.8" cy="1243.4" r="3.5"/><circle cx="3602.7" cy="1239.7" r="3.5"/><circle cx="3609.6" cy="1235.7" r="3.5"/><circle cx="3616.4" cy="1231.4" r="3.5"/><circle cx="3623.3" cy="1226.8" r="3.5"/><circle cx="3630.2" cy="1220.8" r="3.5"/><circle cx="3637.1" cy="1214.2" r="3.5"/><circle cx="3643.9" cy="1208.2" r="3.5"/><circle cx="3650.8" cy="1205.2" r="3.5"/><circle cx="3657.7" cy="1054.7" r="3.5"/></g><polyline points="3320.8,1275.4 3327.7,1274.2 3334.5,1273.5 3341.4,1272.9 3348.3,1272.2 3355.2,1268.9 3362.0,1266.2 3368.9,1262.3 3375.8,1260.3 3382.7,1288.8 3389.5,1287.5 3396.4,1288.8 3403.3,1298.7 3410.2,1302.0 3417.0,1303.4 3423.9,1305.0 3430.8,1305.4 3437.7,1306.0 3444.5,1306.0 3451.4,1306.0 3458.3,1305.4 3465.2,1305.4 3472.0,1305.0 3478.9,1304.7 3485.8,1304.7 3492.7,1304.7 3499.6,1305.0 3506.4,1305.4 3513.3,1305.4 3520.2,1306.0 3527.1,1306.0 3533.9,1306.0 3540.8,1306.0 3547.7,1306.0 3554.6,1305.4 3561.4,1305.4 3568.3,1304.7 3575.2,1304.7 3582.1,1303.7 3588.9,1302.4 3595.8,1301.4 3602.7,1299.4 3609.6,1296.7 3616.4,1293.4 3623.3,1288.8 3630.2,1282.1 3637.1,1272.9 3643.9,1260.3 3650.8,1241.7 3657.7,1169.4" fill="none" stroke="#2CA02C" stroke-width="2.1" stroke-linejoin="round"/><g fill="#2CA02C"><rect x="3317.5" y="1272.1" width="6.6" height="6.6"/><rect x="3324.4" y="1270.9" width="6.6" height="6.6"/><rect x="3331.2" y="1270.2" width="6.6" height="6.6"/><rect x="3338.1" y="1269.6" width="6.6" height="6.6"/><rect x="3345.0" y="1268.9" width="6.6" height="6.6"/><rect x="3351.9" y="1265.6" width="6.6" height="6.6"/><rect x="3358.7" y="1262.9" width="6.6" height="6.6"/><rect x="3365.6" y="1259.0" width="6.6" height="6.6"/><rect x="3372.5" y="1257.0" width="6.6" height="6.6"/><rect x="3379.4" y="1285.5" width="6.6" height="6.6"/><rect x="3386.2" y="1284.2" width="6.6" height="6.6"/><rect x="3393.1" y="1285.5" width="6.6" height="6.6"/><rect x="3400.0" y="1295.4" width="6.6" height="6.6"/><rect x="3406.9" y="1298.7" width="6.6" height="6.6"/><rect x="3413.7" y="1300.1" width="6.6" height="6.6"/><rect x="3420.6" y="1301.7" width="6.6" height="6.6"/><rect x="3427.5" y="1302.1" width="6.6" height="6.6"/><rect x="3434.4" y="1302.7" width="6.6" height="6.6"/><rect x="3441.2" y="1302.7" width="6.6" height="6.6"/><rect x="3448.1" y="1302.7" width="6.6" height="6.6"/><rect x="3455.0" y="1302.1" width="6.6" height="6.6"/><rect x="3461.9" y="1302.1" width="6.6" height="6.6"/><rect x="3468.7" y="1301.7" width="6.6" height="6.6"/><rect x="3475.6" y="1301.4" width="6.6" height="6.6"/><rect x="3482.5" y="1301.4" width="6.6" height="6.6"/><rect x="3489.4" y="1301.4" width="6.6" height="6.6"/><rect x="3496.3" y="1301.7" width="6.6" height="6.6"/><rect x="3503.1" y="1302.1" width="6.6" height="6.6"/><rect x="3510.0" y="1302.1" width="6.6" height="6.6"/><rect x="3516.9" y="1302.7" width="6.6" height="6.6"/><rect x="3523.8" y="1302.7" width="6.6" height="6.6"/><rect x="3530.6" y="1302.7" width="6.6" height="6.6"/><rect x="3537.5" y="1302.7" width="6.6" height="6.6"/><rect x="3544.4" y="1302.7" width="6.6" height="6.6"/><rect x="3551.3" y="1302.1" width="6.6" height="6.6"/><rect x="3558.1" y="1302.1" width="6.6" height="6.6"/><rect x="3565.0" y="1301.4" width="6.6" height="6.6"/><rect x="3571.9" y="1301.4" width="6.6" height="6.6"/><rect x="3578.8" y="1300.4" width="6.6" height="6.6"/><rect x="3585.6" y="1299.1" width="6.6" height="6.6"/><rect x="3592.5" y="1298.1" width="6.6" height="6.6"/><rect x="3599.4" y="1296.1" width="6.6" height="6.6"/><rect x="3606.3" y="1293.4" width="6.6" height="6.6"/><rect x="3613.1" y="1290.1" width="6.6" height="6.6"/><rect x="3620.0" y="1285.5" width="6.6" height="6.6"/><rect x="3626.9" y="1278.8" width="6.6" height="6.6"/><rect x="3633.8" y="1269.6" width="6.6" height="6.6"/><rect x="3640.6" y="1257.0" width="6.6" height="6.6"/><rect x="3647.5" y="1238.4" width="6.6" height="6.6"/><rect x="3654.4" y="1166.1" width="6.6" height="6.6"/></g><rect x="3303.7" y="1042.7" width="371.10000000000036" height="276.0999999999999" fill="none" stroke="#222" stroke-width="1.2"/><path d="M3313.9 1318.8 v3.5" stroke="#222" stroke-width="1"/><path d="M3382.7 1318.8 v3.5" stroke="#222" stroke-width="1"/><path d="M3451.4 1318.8 v3.5" stroke="#222" stroke-width="1"/><path d="M3520.2 1318.8 v3.5" stroke="#222" stroke-width="1"/><path d="M3588.9 1318.8 v3.5" stroke="#222" stroke-width="1"/><path d="M3657.7 1318.8 v3.5" stroke="#222" stroke-width="1"/><path d="M3303.7 1315.3 h-3.500" stroke="#222" stroke-width="1"/><path d="M3303.7 1282.1 h-3.500" stroke="#222" stroke-width="1"/><path d="M3303.7 1249.0 h-3.500" stroke="#222" stroke-width="1"/><path d="M3303.7 1215.8 h-3.500" stroke="#222" stroke-width="1"/><path d="M3303.7 1182.7 h-3.500" stroke="#222" stroke-width="1"/><path d="M3303.7 1149.5 h-3.500" stroke="#222" stroke-width="1"/><path d="M3303.7 1116.4 h-3.500" stroke="#222" stroke-width="1"/><path d="M3303.7 1083.2 h-3.500" stroke="#222" stroke-width="1"/><path d="M3303.7 1050.1 h-3.500" stroke="#222" stroke-width="1"/><rect x="3308.9" y="1048" width="146.0" height="49.59999999999991" rx="2.500" fill="#fff" fill-opacity="0.8" stroke="#CCC" stroke-width="0.9"/><path d="M3312.5 1057.0 H3335" stroke="#1F77B4" stroke-width="1.9"/><circle cx="3323.75" cy="1057.0" r="3" fill="#1F77B4"/><path d="M3312.5 1072.5 H3335" stroke="#FF7F0E" stroke-width="1.9"/><circle cx="3323.75" cy="1072.5" r="3" fill="#FF7F0E"/><path d="M3312.5 1087.3999999999999 H3335" stroke="#2CA02C" stroke-width="1.9"/><rect x="3320.95" y="1084.6" width="5.6" height="5.6" fill="#2CA02C"/><rect x="3348.1" y="1161.3" width="242.2" height="15" rx="2.500" fill="#FFFF70" fill-opacity="0.85" stroke="#555" stroke-width="0.8"/><rect x="3348.1" y="1212.5" width="228.2" height="15" rx="2.500" fill="#FFFF70" fill-opacity="0.85" stroke="#555" stroke-width="0.8"/><path d="M3434 1178 C3380 1196 3345 1225 3322.500 1261" fill="none" stroke="#222" stroke-width="0.9"/><path d="M3322 1262.500 l1.200 -6.500 l3.800 2.600 z" fill="#222"/><path d="M3397 1229 C3360 1240 3338 1255 3323 1272" fill="none" stroke="#222" stroke-width="0.9"/><path d="M3322.300 1273 l2.200 -6.300 l3.500 3.100 z" fill="#222"/></svg>
<div class="t" style="left:2908.2px;top:1266.5px;font-size:10.4px;color:#222;letter-spacing:0.562px;">SD (Stable Diffusion)</div>
<div class="t" style="left:2908.2px;top:1282.0px;font-size:10.4px;color:#222;letter-spacing:0.503px;">SD+PE (Baseline)</div>
<div class="t" style="left:2908.2px;top:1297.5px;font-size:10.4px;color:#222;letter-spacing:0.490px;">SD+PE+PR (Ours)</div>
<div class="t" style="left:3341.1px;top:1051.6px;font-size:10.4px;color:#222;letter-spacing:0.577px;">SD (Stable Diffusion)</div>
<div class="t" style="left:3341.1px;top:1067.1px;font-size:10.4px;color:#222;letter-spacing:0.615px;">SD+SS (Ablation)</div>
<div class="t" style="left:3341.1px;top:1082.0px;font-size:10.4px;color:#222;letter-spacing:0.533px;">SD+SS+PR (Ours)</div>
<div class="t" style="left:3350.4px;top:1162.5px;font-size:10.3px;color:#111;letter-spacing:0.682px;">First step magnitude of Stable Diffusion: 7.48</div>
<div class="t" style="left:3350.4px;top:1213.7px;font-size:10.3px;color:#111;letter-spacing:0.681px;">First step magnitude is still very high: 6.02</div>
<div class="t" style="left:3311.1px;top:1324.4px;font-size:10.2px;color:#222;">0</div>
<div class="t" style="left:3377.0px;top:1324.4px;font-size:10.2px;color:#222;">10</div>
<div class="t" style="left:3445.7px;top:1324.4px;font-size:10.2px;color:#222;">20</div>
<div class="t" style="left:3514.5px;top:1324.4px;font-size:10.2px;color:#222;">30</div>
<div class="t" style="left:3583.3px;top:1324.4px;font-size:10.2px;color:#222;">40</div>
<div class="t" style="left:3652.0px;top:1324.4px;font-size:10.2px;color:#222;">50</div>
<div class="t" style="left:3291.5px;top:1310.2px;font-size:10.2px;color:#222;">0</div>
<div class="t" style="left:3291.5px;top:1277.0px;font-size:10.2px;color:#222;">5</div>
<div class="t" style="left:3285.9px;top:1243.9px;font-size:10.2px;color:#222;">10</div>
<div class="t" style="left:3285.9px;top:1210.7px;font-size:10.2px;color:#222;">15</div>
<div class="t" style="left:3285.9px;top:1177.6px;font-size:10.2px;color:#222;">20</div>
<div class="t" style="left:3285.9px;top:1144.4px;font-size:10.2px;color:#222;">25</div>
<div class="t" style="left:3285.9px;top:1111.3px;font-size:10.2px;color:#222;">30</div>
<div class="t" style="left:3285.9px;top:1078.1px;font-size:10.2px;color:#222;">35</div>
<div class="t" style="left:3285.9px;top:1045.0px;font-size:10.2px;color:#222;">40</div>
<div class="t" style="left:3450.7px;top:1338.2px;font-size:10.4px;color:#222;letter-spacing:0.572px;">Sampling Step</div>
<div class="t" style="left:3273px;top:1181.5px;font-size:10.4px;color:#222;letter-spacing:0.45px;transform:translate(-50%,-50%) rotate(-90deg)">Magnitude</div>
<svg style="left:3140.4px;top:1126.2px;overflow:hidden;border:3px solid #1F7ABF;box-sizing:border-box" width="56.0" height="56.0" viewBox="0 0 100 100" preserveAspectRatio="none"><g filter="url(#pb2)"><rect x="-10" y="-10" width="120" height="120" fill="#B8281C"/><rect x="-10" y="-10" width="58" height="120" fill="#1C5CA6"/><rect x="-10" y="60" width="50" height="60" fill="#102E68"/><ellipse cx="52" cy="14" rx="30" ry="22" fill="#F6B45A"/><ellipse cx="52" cy="8" rx="16" ry="12" fill="#FFE9B8"/><ellipse cx="88" cy="30" rx="16" ry="30" fill="#E0341E"/><ellipse cx="90" cy="80" rx="18" ry="26" fill="#C22418"/><ellipse cx="80" cy="84" rx="12" ry="14" fill="#F2C6DC" opacity="0.9"/><ellipse cx="12" cy="12" rx="14" ry="10" fill="#5AA0E0" opacity="0.9"/><path d="M6 40 L22 34 L18 50 L30 58 L16 64 L22 82 L6 72 Z" fill="none" stroke="#E23A28" stroke-width="3.500"/><ellipse cx="50" cy="22" rx="13" ry="12" fill="#E9BC62"/><ellipse cx="40" cy="34" rx="6" ry="12" fill="#DCA850"/><ellipse cx="60" cy="34" rx="6" ry="12" fill="#DCA850"/><ellipse cx="50" cy="24" rx="6" ry="7.5" fill="#EDB896"/><path d="M30 110 L34 50 L42 38 L58 38 L68 50 L70 110 Z" fill="#18285C"/><path d="M40 42 L60 42 L57 64 L43 64 Z" fill="#C8261E"/><ellipse cx="50" cy="50" rx="5" ry="4" fill="#F2C230"/><path d="M44 64 L56 64 L58 100 L42 100 Z" fill="#141E48"/><ellipse cx="28" cy="62" rx="5" ry="16" fill="#1E3A7A"/><ellipse cx="72" cy="62" rx="5" ry="16" fill="#1E3A7A"/><ellipse cx="68" cy="84" rx="7" ry="7" fill="#F07038" opacity="0.9"/></g></svg>
<svg style="left:3140.4px;top:1198.9px;overflow:hidden;border:3px solid #E54426;box-sizing:border-box" width="56.0" height="56.0" viewBox="0 0 100 100" preserveAspectRatio="none"><g filter="url(#pb2)"><rect x="-10" y="-10" width="120" height="120" fill="#B8281C"/><rect x="-10" y="-10" width="58" height="120" fill="#1C5CA6"/><rect x="-10" y="60" width="50" height="60" fill="#102E68"/><ellipse cx="52" cy="14" rx="30" ry="22" fill="#F6B45A"/><ellipse cx="52" cy="8" rx="16" ry="12" fill="#FFE9B8"/><ellipse cx="88" cy="30" rx="16" ry="30" fill="#E0341E"/><ellipse cx="90" cy="80" rx="18" ry="26" fill="#C22418"/><ellipse cx="80" cy="84" rx="12" ry="14" fill="#F2C6DC" opacity="0.9"/><ellipse cx="12" cy="12" rx="14" ry="10" fill="#5AA0E0" opacity="0.9"/><path d="M6 40 L22 34 L18 50 L30 58 L16 64 L22 82 L6 72 Z" fill="none" stroke="#E23A28" stroke-width="3.500"/><ellipse cx="50" cy="22" rx="13" ry="12" fill="#E9BC62"/><ellipse cx="40" cy="34" rx="6" ry="12" fill="#DCA850"/><ellipse cx="60" cy="34" rx="6" ry="12" fill="#DCA850"/><ellipse cx="50" cy="24" rx="6" ry="7.5" fill="#EDB896"/><path d="M30 110 L34 50 L42 38 L58 38 L68 50 L70 110 Z" fill="#18285C"/><path d="M40 42 L60 42 L57 64 L43 64 Z" fill="#C8261E"/><ellipse cx="50" cy="50" rx="5" ry="4" fill="#F2C230"/><path d="M44 64 L56 64 L58 100 L42 100 Z" fill="#141E48"/><ellipse cx="28" cy="62" rx="5" ry="16" fill="#1E3A7A"/><ellipse cx="72" cy="62" rx="5" ry="16" fill="#1E3A7A"/><ellipse cx="68" cy="84" rx="7" ry="7" fill="#F07038" opacity="0.9"/><rect x="-10" y="-10" width="14" height="120" fill="#EDEDF2" opacity="0.9"/><rect x="94" y="-10" width="16" height="120" fill="#EDEDF2" opacity="0.9"/></g></svg>
<svg style="left:3140.4px;top:1266.0px;overflow:hidden;border:3px solid #21A356;box-sizing:border-box" width="56.0" height="56.0" viewBox="0 0 100 100" preserveAspectRatio="none"><g filter="url(#pb2)"><rect x="-10" y="-10" width="120" height="120" fill="#15183C"/><path d="M-10 18 L50 110 L30 110 L-10 48 Z" fill="#EDEDF6" opacity="0.9"/><path d="M-10 62 L22 110 L8 110 L-10 84 Z" fill="#DDDDF0" opacity="0.8"/><ellipse cx="14" cy="12" rx="7" ry="7" fill="#FFFFFF"/><ellipse cx="86" cy="14" rx="22" ry="14" fill="#D83030" opacity="0.9"/><ellipse cx="92" cy="40" rx="16" ry="22" fill="#5A2A8C"/><ellipse cx="84" cy="74" rx="22" ry="26" fill="#F0A41E"/><ellipse cx="72" cy="60" rx="12" ry="16" fill="#FFE27A"/><ellipse cx="20" cy="84" rx="16" ry="14" fill="#C82828" opacity="0.85"/><ellipse cx="50" cy="20" rx="11" ry="12" fill="#6E3A20"/><ellipse cx="60" cy="36" rx="7" ry="16" fill="#7A4424"/><ellipse cx="50" cy="22" rx="6" ry="8" fill="#E0A880"/><path d="M32 110 L36 48 L44 38 L58 38 L66 48 L68 110 Z" fill="#A81C28"/><path d="M44 56 L58 56 L58 96 L44 96 Z" fill="#3A2038"/><ellipse cx="51" cy="46" rx="5" ry="4" fill="#F0C850"/><ellipse cx="34" cy="72" rx="6" ry="12" fill="#F2B428"/></g></svg>
<svg style="left:3679.8px;top:1056.3px;overflow:hidden;border:3px solid #E54426;box-sizing:border-box" width="56.2" height="55.5" viewBox="0 0 100 100" preserveAspectRatio="none"><g filter="url(#pb)"><rect x="-10" y="-10" width="120" height="120" fill="#6A6A58"/><rect x="-10" y="-10" width="23" height="120" fill="#F4EDE0"/><rect x="13" y="-10" width="17" height="120" fill="#8E9B50"/><rect x="13" y="48" width="18" height="70" fill="#D9C9A8"/><ellipse cx="22" cy="30" rx="7" ry="22" fill="#A9B267" opacity="0.8"/><rect x="30" y="-10" width="16" height="90" fill="#F0E8D8"/><rect x="46" y="-10" width="26" height="60" fill="#8C8E62"/><rect x="70" y="-10" width="40" height="46" fill="#C6C3B6"/><ellipse cx="74" cy="10" rx="8" ry="22" fill="#4A4A3A" opacity="0.8"/><rect x="72" y="34" width="40" height="80" fill="#3F4B54"/><ellipse cx="90" cy="50" rx="14" ry="20" fill="#566772" opacity="0.8"/><rect x="96" y="70" width="14" height="40" fill="#B56C3C"/><path d="M51 2 C31 2 24 24 23 46 C22 62 28 72 37 69 L43 60 L42 32 Q52 22 66 32 L67 60 C76 66 81 56 79 42 C77 20 69 2 51 2 Z" fill="#CFC7B7"/><ellipse cx="36" cy="30" rx="7" ry="22" fill="#DDD6C6" opacity="0.8"/><ellipse cx="68" cy="28" rx="7" ry="20" fill="#E2DBCB" opacity="0.8"/><ellipse cx="72" cy="52" rx="5" ry="10" fill="#B9AF9C" opacity="0.8"/><path d="M44 58 L60 58 L62 80 L54 86 L42 78 Z" fill="#C88A62"/><ellipse cx="52" cy="43" rx="15" ry="21" fill="#D9976E"/><ellipse cx="52" cy="30" rx="12" ry="7" fill="#E3AA84" opacity="0.9"/><ellipse cx="43" cy="48" rx="5" ry="6" fill="#D58A66" opacity="0.7"/><ellipse cx="61" cy="48" rx="5" ry="6" fill="#D58A66" opacity="0.7"/><ellipse cx="52" cy="47.5" rx="7" ry="2.8" fill="#FFF9F2"/><ellipse cx="52" cy="45.5" rx="7.5" ry="1.5" fill="#C86A58" opacity="0.7"/><ellipse cx="44" cy="32.5" rx="3.2" ry="1.5" fill="#5E5A5E"/><ellipse cx="59.5" cy="32.5" rx="3.2" ry="1.5" fill="#5E5A5E"/><ellipse cx="35.5" cy="48" rx="1.6" ry="2" fill="#CFE6EA"/><path d="M2 110 L5 84 L30 72 L44 66 L54 84 L66 64 L80 70 L96 82 L100 110 Z" fill="#17171B"/><path d="M31 69 L44 62 L54 79 L36 88 Z" fill="#86CFE0"/><path d="M64 62 L70 64 L80 81 L68 78 L58 86 Z" fill="#86CFE0"/><path d="M50 78 L57 84 L62 104 L53 104 Z" fill="#86CFE0"/><ellipse cx="58" cy="82.5" rx="4" ry="2.8" fill="#5AB0BC" opacity="0.9"/></g></svg>
<svg style="left:3679.8px;top:1116.9px;overflow:hidden;border:3px solid #1F7ABF;box-sizing:border-box" width="56.2" height="55.5" viewBox="0 0 100 100" preserveAspectRatio="none"><g filter="url(#pb)"><rect x="-10" y="-10" width="120" height="120" fill="#6A6A58"/><rect x="-10" y="-10" width="23" height="120" fill="#F4EDE0"/><rect x="13" y="-10" width="17" height="120" fill="#8E9B50"/><rect x="13" y="48" width="18" height="70" fill="#D9C9A8"/><ellipse cx="22" cy="30" rx="7" ry="22" fill="#A9B267" opacity="0.8"/><rect x="30" y="-10" width="16" height="90" fill="#F0E8D8"/><rect x="46" y="-10" width="26" height="60" fill="#8C8E62"/><rect x="70" y="-10" width="40" height="46" fill="#C6C3B6"/><ellipse cx="74" cy="10" rx="8" ry="22" fill="#4A4A3A" opacity="0.8"/><rect x="72" y="34" width="40" height="80" fill="#3F4B54"/><ellipse cx="90" cy="50" rx="14" ry="20" fill="#566772" opacity="0.8"/><rect x="96" y="70" width="14" height="40" fill="#B56C3C"/><path d="M51 2 C31 2 24 24 23 46 C22 62 28 72 37 69 L43 60 L42 32 Q52 22 66 32 L67 60 C76 66 81 56 79 42 C77 20 69 2 51 2 Z" fill="#CFC7B7"/><ellipse cx="36" cy="30" rx="7" ry="22" fill="#DDD6C6" opacity="0.8"/><ellipse cx="68" cy="28" rx="7" ry="20" fill="#E2DBCB" opacity="0.8"/><ellipse cx="72" cy="52" rx="5" ry="10" fill="#B9AF9C" opacity="0.8"/><path d="M44 58 L60 58 L62 80 L54 86 L42 78 Z" fill="#C88A62"/><ellipse cx="52" cy="43" rx="15" ry="21" fill="#D9976E"/><ellipse cx="52" cy="30" rx="12" ry="7" fill="#E3AA84" opacity="0.9"/><ellipse cx="43" cy="48" rx="5" ry="6" fill="#D58A66" opacity="0.7"/><ellipse cx="61" cy="48" rx="5" ry="6" fill="#D58A66" opacity="0.7"/><ellipse cx="52" cy="47.5" rx="7" ry="2.8" fill="#FFF9F2"/><ellipse cx="52" cy="45.5" rx="7.5" ry="1.5" fill="#C86A58" opacity="0.7"/><ellipse cx="44" cy="32.5" rx="3.2" ry="1.5" fill="#5E5A5E"/><ellipse cx="59.5" cy="32.5" rx="3.2" ry="1.5" fill="#5E5A5E"/><ellipse cx="35.5" cy="48" rx="1.6" ry="2" fill="#CFE6EA"/><path d="M2 110 L5 84 L30 72 L44 66 L54 84 L66 64 L80 70 L96 82 L100 110 Z" fill="#17171B"/><path d="M31 69 L44 62 L54 79 L36 88 Z" fill="#86CFE0"/><path d="M64 62 L70 64 L80 81 L68 78 L58 86 Z" fill="#86CFE0"/><path d="M50 78 L57 84 L62 104 L53 104 Z" fill="#86CFE0"/><ellipse cx="58" cy="82.5" rx="4" ry="2.8" fill="#5AB0BC" opacity="0.9"/></g></svg>
<svg style="left:3679.8px;top:1177.8px;overflow:hidden;border:3px solid #21A356;box-sizing:border-box" width="56.2" height="55.5" viewBox="0 0 100 100" preserveAspectRatio="none"><g filter="url(#pb)"><rect x="-10" y="-10" width="120" height="120" fill="#4F6E34"/><ellipse cx="15" cy="20" rx="30" ry="30" fill="#6E5A2E"/><ellipse cx="90" cy="25" rx="25" ry="40" fill="#3E5A2A"/><ellipse cx="85" cy="70" rx="20" ry="20" fill="#8A5A30"/><ellipse cx="50" cy="34" rx="23" ry="25" fill="#C9A77A"/><ellipse cx="50" cy="40" rx="14" ry="18" fill="#DDA582"/><ellipse cx="50" cy="49.16" rx="6.3" ry="1.8" fill="#FFF6EE"/><ellipse cx="44.12" cy="37" rx="1.8" ry="1.1" fill="#5A4A45" opacity="0.8"/><ellipse cx="55.88" cy="37" rx="1.8" ry="1.1" fill="#5A4A45" opacity="0.8"/><path d="M4 110 L10 88 L36 76 L50 82 L64 76 L90 88 L96 110 Z" fill="#E8742C"/><ellipse cx="50" cy="74" rx="4.5" ry="6" fill="#DDA582"/><path d="M20 110 L26 90 L74 90 L80 110 Z" fill="#9AA0A8" opacity="0.8"/><path d="M44 78 L50 100 L56 78 Z" fill="#3A6A9A"/></g></svg>
<div class="t" style="left:3197.7px;top:1099.8px;font-size:15px;">SSCD</div>
<div class="t" style="left:3204.1px;top:1146.1px;font-size:15px;">0.66</div>
<div class="t" style="left:3204.1px;top:1217.9px;font-size:15px;">0.53</div>
<div class="t" style="left:3204.1px;top:1284.6px;font-size:15px;">0.19</div>
<div class="t" style="left:3744.9px;top:1039.9px;font-size:15px;">SSCD</div>
<div class="t" style="left:3750.3px;top:1075.6px;font-size:15px;">0.92</div>
<div class="t" style="left:3750.3px;top:1136.2px;font-size:15px;">0.94</div>
<div class="t" style="left:3750.3px;top:1196.7px;font-size:15px;">0.09</div>
<svg style="left:0;top:0" width="0" height="0"><defs><filter id="pb" x="-10%" y="-10%" width="120%" height="120%"><feGaussianBlur stdDeviation="1.3"/></filter><filter id="pb2" x="-10%" y="-10%" width="120%" height="120%"><feGaussianBlur stdDeviation="2.6"/></filter><filter id="pb0" x="-10%" y="-10%" width="120%" height="120%"><feGaussianBlur stdDeviation="0.6"/></filter></defs></svg>
<div class="t" style="left:2138.1px;top:1430.1px;font-size:19.5px;font-family:'Liberation Serif',serif;font-weight:bold;color:#1C69C4;letter-spacing:0.373px;text-shadow:0.4px 0 0 #1C69C4">Real</div>
<div class="t" style="left:2237.0px;top:1430.1px;font-size:19.5px;font-family:'Liberation Serif',serif;font-weight:bold;color:#1C69C4;letter-spacing:0.007px;text-shadow:0.4px 0 0 #1C69C4">Stable Diffusion Generations</div>
<div class="t" style="left:2562.7px;top:1429.7px;font-size:19.5px;font-family:'Liberation Serif',serif;font-weight:bold;color:#1C69C4;letter-spacing:-0.002px;text-shadow:0.4px 0 0 #1C69C4">Baseline Generations</div>
<div class="t" style="left:2836.5px;top:1429.7px;font-size:19.5px;font-family:'Liberation Serif',serif;font-weight:bold;color:#1C69C4;letter-spacing:0.068px;text-shadow:0.4px 0 0 #1C69C4">PRSS Generations (Ours)</div>
<svg style="left:2113.7px;top:1463.4px;overflow:hidden;" width="90.0" height="90.0" viewBox="0 0 100 100" preserveAspectRatio="none"><g filter="url(#pb)"><rect x="-10" y="-10" width="120" height="120" fill="#6A6A58"/><rect x="-10" y="-10" width="23" height="120" fill="#F4EDE0"/><rect x="13" y="-10" width="17" height="120" fill="#8E9B50"/><rect x="13" y="48" width="18" height="70" fill="#D9C9A8"/><ellipse cx="22" cy="30" rx="7" ry="22" fill="#A9B267" opacity="0.8"/><rect x="30" y="-10" width="16" height="90" fill="#F0E8D8"/><rect x="46" y="-10" width="26" height="60" fill="#8C8E62"/><rect x="70" y="-10" width="40" height="46" fill="#C6C3B6"/><ellipse cx="74" cy="10" rx="8" ry="22" fill="#4A4A3A" opacity="0.8"/><rect x="72" y="34" width="40" height="80" fill="#3F4B54"/><ellipse cx="90" cy="50" rx="14" ry="20" fill="#566772" opacity="0.8"/><rect x="96" y="70" width="14" height="40" fill="#B56C3C"/><path d="M51 2 C31 2 24 24 23 46 C22 62 28 72 37 69 L43 60 L42 32 Q52 22 66 32 L67 60 C76 66 81 56 79 42 C77 20 69 2 51 2 Z" fill="#CFC7B7"/><ellipse cx="36" cy="30" rx="7" ry="22" fill="#DDD6C6" opacity="0.8"/><ellipse cx="68" cy="28" rx="7" ry="20" fill="#E2DBCB" opacity="0.8"/><ellipse cx="72" cy="52" rx="5" ry="10" fill="#B9AF9C" opacity="0.8"/><path d="M44 58 L60 58 L62 80 L54 86 L42 78 Z" fill="#C88A62"/><ellipse cx="52" cy="43" rx="15" ry="21" fill="#D9976E"/><ellipse cx="52" cy="30" rx="12" ry="7" fill="#E3AA84" opacity="0.9"/><ellipse cx="43" cy="48" rx="5" ry="6" fill="#D58A66" opacity="0.7"/><ellipse cx="61" cy="48" rx="5" ry="6" fill="#D58A66" opacity="0.7"/><ellipse cx="52" cy="47.5" rx="7" ry="2.8" fill="#FFF9F2"/><ellipse cx="52" cy="45.5" rx="7.5" ry="1.5" fill="#C86A58" opacity="0.7"/><ellipse cx="44" cy="32.5" rx="3.2" ry="1.5" fill="#5E5A5E"/><ellipse cx="59.5" cy="32.5" rx="3.2" ry="1.5" fill="#5E5A5E"/><ellipse cx="35.5" cy="48" rx="1.6" ry="2" fill="#CFE6EA"/><path d="M2 110 L5 84 L30 72 L44 66 L54 84 L66 64 L80 70 L96 82 L100 110 Z" fill="#17171B"/><path d="M31 69 L44 62 L54 79 L36 88 Z" fill="#86CFE0"/><path d="M64 62 L70 64 L80 81 L68 78 L58 86 Z" fill="#86CFE0"/><path d="M50 78 L57 84 L62 104 L53 104 Z" fill="#86CFE0"/><ellipse cx="58" cy="82.5" rx="4" ry="2.8" fill="#5AB0BC" opacity="0.9"/></g></svg>
<svg style="left:2223.1px;top:1462.6px;overflow:hidden;" width="90.0" height="90.0" viewBox="0 0 100 100" preserveAspectRatio="none"><g filter="url(#pb)"><rect x="-10" y="-10" width="120" height="120" fill="#6A6A58"/><rect x="-10" y="-10" width="23" height="120" fill="#F4EDE0"/><rect x="13" y="-10" width="17" height="120" fill="#8E9B50"/><rect x="13" y="48" width="18" height="70" fill="#D9C9A8"/><ellipse cx="22" cy="30" rx="7" ry="22" fill="#A9B267" opacity="0.8"/><rect x="30" y="-10" width="16" height="90" fill="#F0E8D8"/><rect x="46" y="-10" width="26" height="60" fill="#8C8E62"/><rect x="70" y="-10" width="40" height="46" fill="#C6C3B6"/><ellipse cx="74" cy="10" rx="8" ry="22" fill="#4A4A3A" opacity="0.8"/><rect x="72" y="34" width="40" height="80" fill="#3F4B54"/><ellipse cx="90" cy="50" rx="14" ry="20" fill="#566772" opacity="0.8"/><rect x="96" y="70" width="14" height="40" fill="#B56C3C"/><path d="M51 2 C31 2 24 24 23 46 C22 62 28 72 37 69 L43 60 L42 32 Q52 22 66 32 L67 60 C76 66 81 56 79 42 C77 20 69 2 51 2 Z" fill="#CFC7B7"/><ellipse cx="36" cy="30" rx="7" ry="22" fill="#DDD6C6" opacity="0.8"/><ellipse cx="68" cy="28" rx="7" ry="20" fill="#E2DBCB" opacity="0.8"/><ellipse cx="72" cy="52" rx="5" ry="10" fill="#B9AF9C" opacity="0.8"/><path d="M44 58 L60 58 L62 80 L54 86 L42 78 Z" fill="#C88A62"/><ellipse cx="52" cy="43" rx="15" ry="21" fill="#D9976E"/><ellipse cx="52" cy="30" rx="12" ry="7" fill="#E3AA84" opacity="0.9"/><ellipse cx="43" cy="48" rx="5" ry="6" fill="#D58A66" opacity="0.7"/><ellipse cx="61" cy="48" rx="5" ry="6" fill="#D58A66" opacity="0.7"/><ellipse cx="52" cy="47.5" rx="7" ry="2.8" fill="#FFF9F2"/><ellipse cx="52" cy="45.5" rx="7.5" ry="1.5" fill="#C86A58" opacity="0.7"/><ellipse cx="44" cy="32.5" rx="3.2" ry="1.5" fill="#5E5A5E"/><ellipse cx="59.5" cy="32.5" rx="3.2" ry="1.5" fill="#5E5A5E"/><ellipse cx="35.5" cy="48" rx="1.6" ry="2" fill="#CFE6EA"/><path d="M2 110 L5 84 L30 72 L44 66 L54 84 L66 64 L80 70 L96 82 L100 110 Z" fill="#17171B"/><path d="M31 69 L44 62 L54 79 L36 88 Z" fill="#86CFE0"/><path d="M64 62 L70 64 L80 81 L68 78 L58 86 Z" fill="#86CFE0"/><path d="M50 78 L57 84 L62 104 L53 104 Z" fill="#86CFE0"/><ellipse cx="58" cy="82.5" rx="4" ry="2.8" fill="#5AB0BC" opacity="0.9"/></g></svg>
<svg style="left:2315.2px;top:1462.6px;overflow:hidden;" width="90.0" height="90.0" viewBox="0 0 100 100" preserveAspectRatio="none"><g filter="url(#pb)"><rect x="-10" y="-10" width="120" height="120" fill="#6A6A58"/><rect x="-10" y="-10" width="23" height="120" fill="#F4EDE0"/><rect x="13" y="-10" width="17" height="120" fill="#8E9B50"/><rect x="13" y="48" width="18" height="70" fill="#D9C9A8"/><ellipse cx="22" cy="30" rx="7" ry="22" fill="#A9B267" opacity="0.8"/><rect x="30" y="-10" width="16" height="90" fill="#F0E8D8"/><rect x="46" y="-10" width="26" height="60" fill="#8C8E62"/><rect x="70" y="-10" width="40" height="46" fill="#C6C3B6"/><ellipse cx="74" cy="10" rx="8" ry="22" fill="#4A4A3A" opacity="0.8"/><rect x="72" y="34" width="40" height="80" fill="#3F4B54"/><ellipse cx="90" cy="50" rx="14" ry="20" fill="#566772" opacity="0.8"/><rect x="96" y="70" width="14" height="40" fill="#B56C3C"/><path d="M51 2 C31 2 24 24 23 46 C22 62 28 72 37 69 L43 60 L42 32 Q52 22 66 32 L67 60 C76 66 81 56 79 42 C77 20 69 2 51 2 Z" fill="#CFC7B7"/><ellipse cx="36" cy="30" rx="7" ry="22" fill="#DDD6C6" opacity="0.8"/><ellipse cx="68" cy="28" rx="7" ry="20" fill="#E2DBCB" opacity="0.8"/><ellipse cx="72" cy="52" rx="5" ry="10" fill="#B9AF9C" opacity="0.8"/><path d="M44 58 L60 58 L62 80 L54 86 L42 78 Z" fill="#C88A62"/><ellipse cx="52" cy="43" rx="15" ry="21" fill="#D9976E"/><ellipse cx="52" cy="30" rx="12" ry="7" fill="#E3AA84" opacity="0.9"/><ellipse cx="43" cy="48" rx="5" ry="6" fill="#D58A66" opacity="0.7"/><ellipse cx="61" cy="48" rx="5" ry="6" fill="#D58A66" opacity="0.7"/><ellipse cx="52" cy="47.5" rx="7" ry="2.8" fill="#FFF9F2"/><ellipse cx="52" cy="45.5" rx="7.5" ry="1.5" fill="#C86A58" opacity="0.7"/><ellipse cx="44" cy="32.5" rx="3.2" ry="1.5" fill="#5E5A5E"/><ellipse cx="59.5" cy="32.5" rx="3.2" ry="1.5" fill="#5E5A5E"/><ellipse cx="35.5" cy="48" rx="1.6" ry="2" fill="#CFE6EA"/><path d="M2 110 L5 84 L30 72 L44 66 L54 84 L66 64 L80 70 L96 82 L100 110 Z" fill="#17171B"/><path d="M31 69 L44 62 L54 79 L36 88 Z" fill="#86CFE0"/><path d="M64 62 L70 64 L80 81 L68 78 L58 86 Z" fill="#86CFE0"/><path d="M50 78 L57 84 L62 104 L53 104 Z" fill="#86CFE0"/><ellipse cx="58" cy="82.5" rx="4" ry="2.8" fill="#5AB0BC" opacity="0.9"/></g></svg>
<svg style="left:2407.6px;top:1462.6px;overflow:hidden;" width="90.0" height="90.0" viewBox="0 0 100 100" preserveAspectRatio="none"><g filter="url(#pb)"><rect x="-10" y="-10" width="120" height="120" fill="#6A6A58"/><rect x="-10" y="-10" width="23" height="120" fill="#F4EDE0"/><rect x="13" y="-10" width="17" height="120" fill="#8E9B50"/><rect x="13" y="48" width="18" height="70" fill="#D9C9A8"/><ellipse cx="22" cy="30" rx="7" ry="22" fill="#A9B267" opacity="0.8"/><rect x="30" y="-10" width="16" height="90" fill="#F0E8D8"/><rect x="46" y="-10" width="26" height="60" fill="#8C8E62"/><rect x="70" y="-10" width="40" height="46" fill="#C6C3B6"/><ellipse cx="74" cy="10" rx="8" ry="22" fill="#4A4A3A" opacity="0.8"/><rect x="72" y="34" width="40" height="80" fill="#3F4B54"/><ellipse cx="90" cy="50" rx="14" ry="20" fill="#566772" opacity="0.8"/><rect x="96" y="70" width="14" height="40" fill="#B56C3C"/><path d="M51 2 C31 2 24 24 23 46 C22 62 28 72 37 69 L43 60 L42 32 Q52 22 66 32 L67 60 C76 66 81 56 79 42 C77 20 69 2 51 2 Z" fill="#CFC7B7"/><ellipse cx="36" cy="30" rx="7" ry="22" fill="#DDD6C6" opacity="0.8"/><ellipse cx="68" cy="28" rx="7" ry="20" fill="#E2DBCB" opacity="0.8"/><ellipse cx="72" cy="52" rx="5" ry="10" fill="#B9AF9C" opacity="0.8"/><path d="M44 58 L60 58 L62 80 L54 86 L42 78 Z" fill="#C88A62"/><ellipse cx="52" cy="43" rx="15" ry="21" fill="#D9976E"/><ellipse cx="52" cy="30" rx="12" ry="7" fill="#E3AA84" opacity="0.9"/><ellipse cx="43" cy="48" rx="5" ry="6" fill="#D58A66" opacity="0.7"/><ellipse cx="61" cy="48" rx="5" ry="6" fill="#D58A66" opacity="0.7"/><ellipse cx="52" cy="47.5" rx="7" ry="2.8" fill="#FFF9F2"/><ellipse cx="52" cy="45.5" rx="7.5" ry="1.5" fill="#C86A58" opacity="0.7"/><ellipse cx="44" cy="32.5" rx="3.2" ry="1.5" fill="#5E5A5E"/><ellipse cx="59.5" cy="32.5" rx="3.2" ry="1.5" fill="#5E5A5E"/><ellipse cx="35.5" cy="48" rx="1.6" ry="2" fill="#CFE6EA"/><path d="M2 110 L5 84 L30 72 L44 66 L54 84 L66 64 L80 70 L96 82 L100 110 Z" fill="#17171B"/><path d="M31 69 L44 62 L54 79 L36 88 Z" fill="#86CFE0"/><path d="M64 62 L70 64 L80 81 L68 78 L58 86 Z" fill="#86CFE0"/><path d="M50 78 L57 84 L62 104 L53 104 Z" fill="#86CFE0"/><ellipse cx="58" cy="82.5" rx="4" ry="2.8" fill="#5AB0BC" opacity="0.9"/></g></svg>
<svg style="left:2516.6px;top:1463.4px;overflow:hidden;" width="90.0" height="90.0" viewBox="0 0 100 100" preserveAspectRatio="none"><g filter="url(#pb)"><rect x="-10" y="-10" width="120" height="120" fill="#B9AE9A"/><ellipse cx="28" cy="48" rx="22" ry="26" fill="#D8CDB6"/><ellipse cx="28" cy="52" rx="15" ry="19" fill="#D9A98C"/><ellipse cx="75" cy="45" rx="21" ry="27" fill="#3A2622"/><ellipse cx="74" cy="52" rx="14" ry="18" fill="#C99A86"/><ellipse cx="28" cy="62" rx="6" ry="2" fill="#FFF"/><ellipse cx="74" cy="63" rx="5" ry="1.8" fill="#FFF"/><path d="M-10 110 L0 82 L30 74 L52 86 L52 110 Z" fill="#D9C36A"/><path d="M52 110 L54 84 L78 76 L110 90 L110 110 Z" fill="#C9CDD8"/></g><rect x="0" y="0" width="50" height="16" fill="#6B1418"/><rect x="50" y="0" width="50" height="16" fill="#4E7E34"/><g fill="#fff" font-family="'Liberation Sans',sans-serif"><text x="4" y="13" font-size="13.500" textLength="42" lengthAdjust="spacingAndGlyphs">LIVAG</text><text x="54" y="12.500" font-size="11" textLength="42" lengthAdjust="spacingAndGlyphs" opacity="0.9">WRTHT</text></g></svg>
<svg style="left:2608.7px;top:1463.4px;overflow:hidden;" width="90.0" height="90.0" viewBox="0 0 100 100" preserveAspectRatio="none"><g filter="url(#pb)"><rect x="-10" y="-10" width="120" height="120" fill="#7C8078"/><rect x="-10" y="-10" width="14" height="120" fill="#D8D0C0"/><ellipse cx="70" cy="20" rx="50" ry="25" fill="#9A9E8E"/><rect x="50" y="40" width="60" height="60" fill="#5E665E"/><ellipse cx="30" cy="38" rx="28" ry="34" fill="#DCCFB6"/><ellipse cx="30" cy="44" rx="15" ry="21" fill="#D8A27E"/><ellipse cx="30" cy="56" rx="6.5" ry="2.3" fill="#FFF8F0"/><ellipse cx="12" cy="55" rx="7" ry="20" fill="#D4C6AC"/><ellipse cx="50" cy="55" rx="7" ry="20" fill="#D4C6AC"/><path d="M-10 110 L-6 88 L14 74 L30 86 L48 72 L70 86 L72 110 Z" fill="#A9B5AC"/><path d="M12 74 L26 68 L30 84 L20 96 Z" fill="#A8D8DC"/><path d="M34 68 L48 72 L52 90 L36 84 Z" fill="#A8D8DC"/><ellipse cx="30" cy="76" rx="5" ry="7" fill="#D8A27E"/></g></svg>
<svg style="left:2701.5px;top:1463.4px;overflow:hidden;" width="90.0" height="90.0" viewBox="0 0 100 100" preserveAspectRatio="none"><g filter="url(#pb)"><rect x="-10" y="-10" width="120" height="120" fill="#6F8F45"/><ellipse cx="20" cy="25" rx="40" ry="30" fill="#4E7A38"/><ellipse cx="85" cy="30" rx="30" ry="35" fill="#5C8440"/><rect x="60" y="15" width="30" height="30" fill="#A5614A" opacity="0.55"/><rect x="-10" y="62" width="120" height="14" fill="#C9B48A" opacity="0.7"/><rect x="-10" y="76" width="120" height="40" fill="#7DA83E"/><ellipse cx="51" cy="20" rx="13" ry="14" fill="#E2D3B8"/><ellipse cx="51" cy="24" rx="9" ry="12" fill="#DDAA8A"/><ellipse cx="51" cy="29.439999999999998" rx="4.05" ry="1.8" fill="#FFF6EE"/><ellipse cx="47.22" cy="21" rx="1.8" ry="1.1" fill="#5A4A45" opacity="0.8"/><ellipse cx="54.78" cy="21" rx="1.8" ry="1.1" fill="#5A4A45" opacity="0.8"/><path d="M5 110 L11 54 L37 42 L51 48 L65 42 L91 54 L97 110 Z" fill="#7A7F7C"/><ellipse cx="51" cy="40" rx="4.5" ry="6" fill="#DDAA8A"/><path d="M22 110 L26 62 L38 44 L64 44 L78 62 L84 110 Z" fill="#777C79"/></g></svg>
<svg style="left:2810.9px;top:1463.4px;overflow:hidden;" width="90.0" height="90.0" viewBox="0 0 100 100" preserveAspectRatio="none"><g filter="url(#pb)"><rect x="-10" y="-10" width="120" height="120" fill="#8A4638"/><ellipse cx="75" cy="10" rx="35" ry="22" fill="#2E7A34"/><ellipse cx="25" cy="45" rx="24" ry="28" fill="#CFC8B8"/><ellipse cx="26" cy="52" rx="17" ry="21" fill="#E0A58C"/><ellipse cx="74" cy="42" rx="22" ry="28" fill="#8E7A62"/><ellipse cx="73" cy="50" rx="15" ry="20" fill="#DFA68E"/><ellipse cx="26" cy="62" rx="7" ry="2.5" fill="#FFF"/><ellipse cx="73" cy="61" rx="7" ry="2.5" fill="#FFF"/><path d="M-10 110 L-4 84 L22 74 L50 90 L50 110 Z" fill="#C8D23C"/><path d="M50 110 L52 88 L78 76 L110 86 L110 110 Z" fill="#D0D4DC"/></g></svg>
<svg style="left:2903.0px;top:1463.4px;overflow:hidden;" width="90.0" height="90.0" viewBox="0 0 100 100" preserveAspectRatio="none"><g filter="url(#pb)"><rect x="-10" y="-10" width="120" height="120" fill="#7FAE56"/><rect x="-10" y="-10" width="10" height="120" fill="#8C90A8"/><rect x="58" y="-10" width="10" height="120" fill="#9C98A8"/><rect x="68" y="-10" width="50" height="120" fill="#4E9A3C"/><rect x="74" y="40" width="30" height="50" fill="#8FD86A"/><rect x="96" y="-10" width="14" height="120" fill="#8A8AA6"/><ellipse cx="40" cy="36" rx="29" ry="27" fill="#D9B072"/><ellipse cx="40" cy="44" rx="15" ry="19" fill="#E9B294"/><ellipse cx="40" cy="53.78" rx="6.75" ry="1.8" fill="#FFF6EE"/><ellipse cx="33.7" cy="41" rx="1.8" ry="1.1" fill="#5A4A45" opacity="0.8"/><ellipse cx="46.3" cy="41" rx="1.8" ry="1.1" fill="#5A4A45" opacity="0.8"/><path d="M-6 110 L0 90 L26 78 L40 84 L54 78 L80 90 L86 110 Z" fill="#1E2230"/><ellipse cx="40" cy="76" rx="4.5" ry="6" fill="#E9B294"/><ellipse cx="40" cy="92" rx="9" ry="8" fill="#C98A3A" opacity="0.8"/></g></svg>
<svg style="left:2995.4px;top:1463.4px;overflow:hidden;" width="90.0" height="90.0" viewBox="0 0 100 100" preserveAspectRatio="none"><g filter="url(#pb)"><rect x="-10" y="-10" width="120" height="120" fill="#6F8F45"/><ellipse cx="20" cy="25" rx="40" ry="30" fill="#4E7A38"/><ellipse cx="85" cy="30" rx="30" ry="35" fill="#5C8440"/><rect x="60" y="15" width="30" height="30" fill="#A5614A" opacity="0.55"/><rect x="-10" y="62" width="120" height="14" fill="#C9B48A" opacity="0.7"/><rect x="-10" y="76" width="120" height="40" fill="#7DA83E"/><ellipse cx="52" cy="22" rx="14" ry="14" fill="#E6D9C6"/><ellipse cx="52" cy="27" rx="9.5" ry="12" fill="#DDAA90"/><ellipse cx="52" cy="32.44" rx="4.275" ry="1.8" fill="#FFF6EE"/><ellipse cx="48.01" cy="24" rx="1.8" ry="1.1" fill="#5A4A45" opacity="0.8"/><ellipse cx="55.99" cy="24" rx="1.8" ry="1.1" fill="#5A4A45" opacity="0.8"/><path d="M6 110 L12 57 L38 45 L52 51 L66 45 L92 57 L98 110 Z" fill="#4E625C"/><ellipse cx="52" cy="43" rx="4.5" ry="6" fill="#DDAA90"/><path d="M20 110 L24 64 L38 46 L66 46 L80 64 L86 110 Z" fill="#4E625C"/><rect x="42" y="22" width="20" height="2.2" fill="#333" opacity="0.8"/></g></svg>
<svg style="left:2113.7px;top:1592.6px;overflow:hidden;" width="90.0" height="90.0" viewBox="0 0 100 100" preserveAspectRatio="none"><g filter="url(#pb)"><rect x="-10" y="-10" width="120" height="120" fill="#C8AE86"/><rect x="-10" y="-10" width="120" height="18" fill="#3E4A2A"/><rect x="-10" y="8" width="60" height="24" fill="#D0B48C"/><rect x="46" y="8" width="70" height="26" fill="#7E7E5A"/><ellipse cx="30" cy="14" rx="26" ry="7" fill="#8A8458" opacity="0.8"/><ellipse cx="88" cy="20" rx="16" ry="12" fill="#5E6440" opacity="0.8"/><rect x="-10" y="50" width="120" height="24" fill="#93A552"/><ellipse cx="14" cy="56" rx="22" ry="8" fill="#BCC474" opacity="0.9"/><rect x="-10" y="69" width="120" height="9" fill="#5C5C3A"/><rect x="-10" y="76" width="120" height="9" fill="#D6CEBE"/><rect x="-10" y="84" width="120" height="30" fill="#A9A9A1"/><rect x="24" y="86" width="10" height="16" fill="#9E6E60" opacity="0.75"/><rect x="36" y="86" width="8" height="16" fill="#9E6E60" opacity="0.6"/><rect x="52" y="86" width="16" height="14" fill="#A07868" opacity="0.6"/><rect x="70" y="86" width="8" height="16" fill="#9E6E60" opacity="0.6"/><rect x="-10" y="93" width="120" height="3" fill="#C2C2BC" opacity="0.7"/><ellipse cx="95" cy="46" rx="7" ry="14" fill="#D8CDB8" opacity="0.9"/><ellipse cx="96" cy="64" rx="8" ry="8" fill="#2E3A22"/><rect x="24" y="42" width="7" height="25" fill="#6E3A33"/><rect x="33" y="46" width="6" height="21" fill="#6E3A33"/><rect x="69" y="44" width="9" height="23" fill="#6E3A33"/><rect x="81" y="42" width="9" height="25" fill="#8B4F45"/><ellipse cx="56" cy="33" rx="36" ry="25" fill="#8B4F45"/><ellipse cx="52" cy="22" rx="26" ry="10" fill="#A0645A" opacity="0.8"/><ellipse cx="76" cy="46" rx="14" ry="12" fill="#A86A50" opacity="0.7"/><ellipse cx="19" cy="32" rx="12" ry="16" fill="#8B4F45"/><ellipse cx="11" cy="41" rx="8" ry="7.5" fill="#9A5547"/><ellipse cx="17" cy="20" rx="3" ry="3.5" fill="#A85A44"/><ellipse cx="25" cy="19" rx="3" ry="3.5" fill="#A85A44"/><ellipse cx="54" cy="50" rx="13" ry="9" fill="#8A4E48"/><ellipse cx="43" cy="52" rx="5.5" ry="5.5" fill="#94554C"/><rect x="45" y="56" width="4" height="11" fill="#6E3A33"/><rect x="51" y="57" width="4" height="10" fill="#6E3A33"/><rect x="59" y="56" width="4" height="11" fill="#6E3A33"/><rect x="63" y="54" width="3.5" height="12" fill="#6E3A33"/></g><rect x="72.5" y="91.5" width="28" height="6.5" fill="#FFFFFF"/><rect x="75" y="93" width="24" height="3.5" fill="#D6302E"/></svg>
<svg style="left:2223.1px;top:1594.0px;overflow:hidden;" width="90.0" height="90.0" viewBox="0 0 100 100" preserveAspectRatio="none"><g filter="url(#pb)"><rect x="-10" y="-10" width="120" height="120" fill="#C8AE86"/><rect x="-10" y="-10" width="120" height="18" fill="#3E4A2A"/><rect x="-10" y="8" width="60" height="24" fill="#D0B48C"/><rect x="46" y="8" width="70" height="26" fill="#7E7E5A"/><ellipse cx="30" cy="14" rx="26" ry="7" fill="#8A8458" opacity="0.8"/><ellipse cx="88" cy="20" rx="16" ry="12" fill="#5E6440" opacity="0.8"/><rect x="-10" y="50" width="120" height="24" fill="#93A552"/><ellipse cx="14" cy="56" rx="22" ry="8" fill="#BCC474" opacity="0.9"/><rect x="-10" y="69" width="120" height="9" fill="#5C5C3A"/><rect x="-10" y="76" width="120" height="9" fill="#D6CEBE"/><rect x="-10" y="84" width="120" height="30" fill="#A9A9A1"/><rect x="24" y="86" width="10" height="16" fill="#9E6E60" opacity="0.75"/><rect x="36" y="86" width="8" height="16" fill="#9E6E60" opacity="0.6"/><rect x="52" y="86" width="16" height="14" fill="#A07868" opacity="0.6"/><rect x="70" y="86" width="8" height="16" fill="#9E6E60" opacity="0.6"/><rect x="-10" y="93" width="120" height="3" fill="#C2C2BC" opacity="0.7"/><ellipse cx="95" cy="46" rx="7" ry="14" fill="#D8CDB8" opacity="0.9"/><ellipse cx="96" cy="64" rx="8" ry="8" fill="#2E3A22"/><rect x="24" y="42" width="7" height="25" fill="#6E3A33"/><rect x="33" y="46" width="6" height="21" fill="#6E3A33"/><rect x="69" y="44" width="9" height="23" fill="#6E3A33"/><rect x="81" y="42" width="9" height="25" fill="#8B4F45"/><ellipse cx="56" cy="33" rx="36" ry="25" fill="#8B4F45"/><ellipse cx="52" cy="22" rx="26" ry="10" fill="#A0645A" opacity="0.8"/><ellipse cx="76" cy="46" rx="14" ry="12" fill="#A86A50" opacity="0.7"/><ellipse cx="19" cy="32" rx="12" ry="16" fill="#8B4F45"/><ellipse cx="11" cy="41" rx="8" ry="7.5" fill="#9A5547"/><ellipse cx="17" cy="20" rx="3" ry="3.5" fill="#A85A44"/><ellipse cx="25" cy="19" rx="3" ry="3.5" fill="#A85A44"/><ellipse cx="54" cy="50" rx="13" ry="9" fill="#8A4E48"/><ellipse cx="43" cy="52" rx="5.5" ry="5.5" fill="#94554C"/><rect x="45" y="56" width="4" height="11" fill="#6E3A33"/><rect x="51" y="57" width="4" height="10" fill="#6E3A33"/><rect x="59" y="56" width="4" height="11" fill="#6E3A33"/><rect x="63" y="54" width="3.5" height="12" fill="#6E3A33"/></g><rect x="72.5" y="91.5" width="28" height="6.5" fill="#FFFFFF"/><rect x="75" y="93" width="24" height="3.5" fill="#D6302E"/></svg>
<svg style="left:2315.2px;top:1594.0px;overflow:hidden;" width="90.0" height="90.0" viewBox="0 0 100 100" preserveAspectRatio="none"><g filter="url(#pb)"><rect x="-10" y="-10" width="120" height="120" fill="#C8AE86"/><rect x="-10" y="-10" width="120" height="18" fill="#3E4A2A"/><rect x="-10" y="8" width="60" height="24" fill="#D0B48C"/><rect x="46" y="8" width="70" height="26" fill="#7E7E5A"/><ellipse cx="30" cy="14" rx="26" ry="7" fill="#8A8458" opacity="0.8"/><ellipse cx="88" cy="20" rx="16" ry="12" fill="#5E6440" opacity="0.8"/><rect x="-10" y="50" width="120" height="24" fill="#93A552"/><ellipse cx="14" cy="56" rx="22" ry="8" fill="#BCC474" opacity="0.9"/><rect x="-10" y="69" width="120" height="9" fill="#5C5C3A"/><rect x="-10" y="76" width="120" height="9" fill="#D6CEBE"/><rect x="-10" y="84" width="120" height="30" fill="#A9A9A1"/><rect x="24" y="86" width="10" height="16" fill="#9E6E60" opacity="0.75"/><rect x="36" y="86" width="8" height="16" fill="#9E6E60" opacity="0.6"/><rect x="52" y="86" width="16" height="14" fill="#A07868" opacity="0.6"/><rect x="70" y="86" width="8" height="16" fill="#9E6E60" opacity="0.6"/><rect x="-10" y="93" width="120" height="3" fill="#C2C2BC" opacity="0.7"/><ellipse cx="95" cy="46" rx="7" ry="14" fill="#D8CDB8" opacity="0.9"/><ellipse cx="96" cy="64" rx="8" ry="8" fill="#2E3A22"/><rect x="24" y="42" width="7" height="25" fill="#6E3A33"/><rect x="33" y="46" width="6" height="21" fill="#6E3A33"/><rect x="69" y="44" width="9" height="23" fill="#6E3A33"/><rect x="81" y="42" width="9" height="25" fill="#8B4F45"/><ellipse cx="56" cy="33" rx="36" ry="25" fill="#8B4F45"/><ellipse cx="52" cy="22" rx="26" ry="10" fill="#A0645A" opacity="0.8"/><ellipse cx="76" cy="46" rx="14" ry="12" fill="#A86A50" opacity="0.7"/><ellipse cx="19" cy="32" rx="12" ry="16" fill="#8B4F45"/><ellipse cx="11" cy="41" rx="8" ry="7.5" fill="#9A5547"/><ellipse cx="17" cy="20" rx="3" ry="3.5" fill="#A85A44"/><ellipse cx="25" cy="19" rx="3" ry="3.5" fill="#A85A44"/><ellipse cx="54" cy="50" rx="13" ry="9" fill="#8A4E48"/><ellipse cx="43" cy="52" rx="5.5" ry="5.5" fill="#94554C"/><rect x="45" y="56" width="4" height="11" fill="#6E3A33"/><rect x="51" y="57" width="4" height="10" fill="#6E3A33"/><rect x="59" y="56" width="4" height="11" fill="#6E3A33"/><rect x="63" y="54" width="3.5" height="12" fill="#6E3A33"/></g><rect x="72.5" y="91.5" width="28" height="6.5" fill="#FFFFFF"/><rect x="75" y="93" width="24" height="3.5" fill="#D6302E"/></svg>
<svg style="left:2407.6px;top:1594.0px;overflow:hidden;" width="90.0" height="90.0" viewBox="0 0 100 100" preserveAspectRatio="none"><g filter="url(#pb)"><rect x="-10" y="-10" width="120" height="120" fill="#C8AE86"/><rect x="-10" y="-10" width="120" height="18" fill="#3E4A2A"/><rect x="-10" y="8" width="60" height="24" fill="#D0B48C"/><rect x="46" y="8" width="70" height="26" fill="#7E7E5A"/><ellipse cx="30" cy="14" rx="26" ry="7" fill="#8A8458" opacity="0.8"/><ellipse cx="88" cy="20" rx="16" ry="12" fill="#5E6440" opacity="0.8"/><rect x="-10" y="50" width="120" height="24" fill="#93A552"/><ellipse cx="14" cy="56" rx="22" ry="8" fill="#BCC474" opacity="0.9"/><rect x="-10" y="69" width="120" height="9" fill="#5C5C3A"/><rect x="-10" y="76" width="120" height="9" fill="#D6CEBE"/><rect x="-10" y="84" width="120" height="30" fill="#A9A9A1"/><rect x="24" y="86" width="10" height="16" fill="#9E6E60" opacity="0.75"/><rect x="36" y="86" width="8" height="16" fill="#9E6E60" opacity="0.6"/><rect x="52" y="86" width="16" height="14" fill="#A07868" opacity="0.6"/><rect x="70" y="86" width="8" height="16" fill="#9E6E60" opacity="0.6"/><rect x="-10" y="93" width="120" height="3" fill="#C2C2BC" opacity="0.7"/><ellipse cx="95" cy="46" rx="7" ry="14" fill="#D8CDB8" opacity="0.9"/><ellipse cx="96" cy="64" rx="8" ry="8" fill="#2E3A22"/><rect x="24" y="42" width="7" height="25" fill="#6E3A33"/><rect x="33" y="46" width="6" height="21" fill="#6E3A33"/><rect x="69" y="44" width="9" height="23" fill="#6E3A33"/><rect x="81" y="42" width="9" height="25" fill="#8B4F45"/><ellipse cx="56" cy="33" rx="36" ry="25" fill="#8B4F45"/><ellipse cx="52" cy="22" rx="26" ry="10" fill="#A0645A" opacity="0.8"/><ellipse cx="76" cy="46" rx="14" ry="12" fill="#A86A50" opacity="0.7"/><ellipse cx="19" cy="32" rx="12" ry="16" fill="#8B4F45"/><ellipse cx="11" cy="41" rx="8" ry="7.5" fill="#9A5547"/><ellipse cx="17" cy="20" rx="3" ry="3.5" fill="#A85A44"/><ellipse cx="25" cy="19" rx="3" ry="3.5" fill="#A85A44"/><ellipse cx="54" cy="50" rx="13" ry="9" fill="#8A4E48"/><ellipse cx="43" cy="52" rx="5.5" ry="5.5" fill="#94554C"/><rect x="45" y="56" width="4" height="11" fill="#6E3A33"/><rect x="51" y="57" width="4" height="10" fill="#6E3A33"/><rect x="59" y="56" width="4" height="11" fill="#6E3A33"/><rect x="63" y="54" width="3.5" height="12" fill="#6E3A33"/></g><rect x="72.5" y="91.5" width="28" height="6.5" fill="#FFFFFF"/><rect x="75" y="93" width="24" height="3.5" fill="#D6302E"/></svg>
<svg style="left:2516.6px;top:1593.1px;overflow:hidden;" width="90.0" height="90.0" viewBox="0 0 100 100" preserveAspectRatio="none"><g filter="url(#pb)"><rect x="-10" y="-10" width="120" height="120" fill="#C8AE86"/><rect x="-10" y="-10" width="120" height="18" fill="#3E4A2A"/><rect x="-10" y="8" width="60" height="24" fill="#D0B48C"/><rect x="46" y="8" width="70" height="26" fill="#7E7E5A"/><ellipse cx="30" cy="14" rx="26" ry="7" fill="#8A8458" opacity="0.8"/><ellipse cx="88" cy="20" rx="16" ry="12" fill="#5E6440" opacity="0.8"/><rect x="-10" y="50" width="120" height="24" fill="#93A552"/><ellipse cx="14" cy="56" rx="22" ry="8" fill="#BCC474" opacity="0.9"/><rect x="-10" y="69" width="120" height="9" fill="#5C5C3A"/><rect x="-10" y="76" width="120" height="9" fill="#D6CEBE"/><rect x="-10" y="84" width="120" height="30" fill="#A9A9A1"/><rect x="24" y="86" width="10" height="16" fill="#9E6E60" opacity="0.75"/><rect x="36" y="86" width="8" height="16" fill="#9E6E60" opacity="0.6"/><rect x="52" y="86" width="16" height="14" fill="#A07868" opacity="0.6"/><rect x="70" y="86" width="8" height="16" fill="#9E6E60" opacity="0.6"/><rect x="-10" y="93" width="120" height="3" fill="#C2C2BC" opacity="0.7"/><ellipse cx="95" cy="46" rx="7" ry="14" fill="#D8CDB8" opacity="0.9"/><ellipse cx="96" cy="64" rx="8" ry="8" fill="#2E3A22"/><rect x="24" y="42" width="7" height="25" fill="#6E3A33"/><rect x="33" y="46" width="6" height="21" fill="#6E3A33"/><rect x="69" y="44" width="9" height="23" fill="#6E3A33"/><rect x="81" y="42" width="9" height="25" fill="#8B4F45"/><ellipse cx="56" cy="33" rx="36" ry="25" fill="#8B4F45"/><ellipse cx="52" cy="22" rx="26" ry="10" fill="#A0645A" opacity="0.8"/><ellipse cx="76" cy="46" rx="14" ry="12" fill="#A86A50" opacity="0.7"/><ellipse cx="19" cy="32" rx="12" ry="16" fill="#8B4F45"/><ellipse cx="11" cy="41" rx="8" ry="7.5" fill="#9A5547"/><ellipse cx="17" cy="20" rx="3" ry="3.5" fill="#A85A44"/><ellipse cx="25" cy="19" rx="3" ry="3.5" fill="#A85A44"/><ellipse cx="54" cy="50" rx="13" ry="9" fill="#8A4E48"/><ellipse cx="43" cy="52" rx="5.5" ry="5.5" fill="#94554C"/><rect x="45" y="56" width="4" height="11" fill="#6E3A33"/><rect x="51" y="57" width="4" height="10" fill="#6E3A33"/><rect x="59" y="56" width="4" height="11" fill="#6E3A33"/><rect x="63" y="54" width="3.5" height="12" fill="#6E3A33"/></g><rect x="72.5" y="91.5" width="28" height="6.5" fill="#FFFFFF"/><rect x="75" y="93" width="24" height="3.5" fill="#D6302E"/></svg>
<svg style="left:2608.7px;top:1593.1px;overflow:hidden;" width="90.0" height="90.0" viewBox="0 0 100 100" preserveAspectRatio="none"><g filter="url(#pb)"><rect x="-10" y="-10" width="120" height="120" fill="#C8AE86"/><rect x="-10" y="-10" width="120" height="18" fill="#3E4A2A"/><rect x="-10" y="8" width="60" height="24" fill="#D0B48C"/><rect x="46" y="8" width="70" height="26" fill="#7E7E5A"/><ellipse cx="30" cy="14" rx="26" ry="7" fill="#8A8458" opacity="0.8"/><ellipse cx="88" cy="20" rx="16" ry="12" fill="#5E6440" opacity="0.8"/><rect x="-10" y="50" width="120" height="24" fill="#93A552"/><ellipse cx="14" cy="56" rx="22" ry="8" fill="#BCC474" opacity="0.9"/><rect x="-10" y="69" width="120" height="9" fill="#5C5C3A"/><rect x="-10" y="76" width="120" height="9" fill="#D6CEBE"/><rect x="-10" y="84" width="120" height="30" fill="#A9A9A1"/><rect x="24" y="86" width="10" height="16" fill="#9E6E60" opacity="0.75"/><rect x="36" y="86" width="8" height="16" fill="#9E6E60" opacity="0.6"/><rect x="52" y="86" width="16" height="14" fill="#A07868" opacity="0.6"/><rect x="70" y="86" width="8" height="16" fill="#9E6E60" opacity="0.6"/><rect x="-10" y="93" width="120" height="3" fill="#C2C2BC" opacity="0.7"/><ellipse cx="95" cy="46" rx="7" ry="14" fill="#D8CDB8" opacity="0.9"/><ellipse cx="96" cy="64" rx="8" ry="8" fill="#2E3A22"/><rect x="24" y="42" width="7" height="25" fill="#6A5348"/><rect x="33" y="46" width="6" height="21" fill="#6A5348"/><rect x="69" y="44" width="9" height="23" fill="#6A5348"/><rect x="81" y="42" width="9" height="25" fill="#85685A"/><ellipse cx="56" cy="33" rx="36" ry="25" fill="#85685A"/><ellipse cx="52" cy="22" rx="26" ry="10" fill="#A0645A" opacity="0.8"/><ellipse cx="76" cy="46" rx="14" ry="12" fill="#A86A50" opacity="0.7"/><ellipse cx="19" cy="32" rx="12" ry="16" fill="#85685A"/><ellipse cx="11" cy="41" rx="8" ry="7.5" fill="#9A5547"/><ellipse cx="17" cy="20" rx="3" ry="3.5" fill="#A85A44"/><ellipse cx="25" cy="19" rx="3" ry="3.5" fill="#A85A44"/><ellipse cx="54" cy="50" rx="13" ry="9" fill="#8A4E48"/><ellipse cx="43" cy="52" rx="5.5" ry="5.5" fill="#94554C"/><rect x="45" y="56" width="4" height="11" fill="#6A5348"/><rect x="51" y="57" width="4" height="10" fill="#6A5348"/><rect x="59" y="56" width="4" height="11" fill="#6A5348"/><rect x="63" y="54" width="3.5" height="12" fill="#6A5348"/></g><rect x="72.5" y="91.5" width="28" height="6.5" fill="#FFFFFF"/><rect x="75" y="93" width="24" height="3.5" fill="#D6302E"/></svg>
<svg style="left:2701.5px;top:1593.1px;overflow:hidden;" width="90.0" height="90.0" viewBox="0 0 100 100" preserveAspectRatio="none"><g filter="url(#pb)"><rect x="-10" y="-10" width="120" height="120" fill="#A292B8"/><rect x="-10" y="-10" width="120" height="40" fill="#B4AAC4"/><ellipse cx="50" cy="50" rx="40" ry="22" fill="#8E6EA8" opacity="0.8"/><rect x="-10" y="62" width="120" height="12" fill="#8E8A6A" opacity="0.7"/><rect x="-10" y="76" width="120" height="40" fill="#C4C0BC"/><rect x="10" y="84" width="70" height="10" fill="#B098A0" opacity="0.45"/><rect x="12" y="14" width="12" height="3.5" fill="#EDE8F2" opacity="0.85"/><rect x="28" y="12" width="10" height="3.5" fill="#EDE8F2" opacity="0.85"/><rect x="44" y="15" width="14" height="3.5" fill="#EDE8F2" opacity="0.85"/><rect x="64" y="12" width="9" height="3.5" fill="#EDE8F2" opacity="0.85"/><rect x="76" y="16" width="12" height="3.5" fill="#EDE8F2" opacity="0.85"/><rect x="58" y="24" width="12" height="3.5" fill="#EDE8F2" opacity="0.85"/><rect x="74" y="28" width="14" height="3.5" fill="#EDE8F2" opacity="0.85"/></g><rect x="72" y="90" width="28" height="6" fill="#FFFFFF"/><rect x="74" y="91.5" width="24" height="3" fill="#D22B2B"/></svg>
<svg style="left:2810.9px;top:1590.6px;overflow:hidden;" width="90.0" height="90.0" viewBox="0 0 100 100" preserveAspectRatio="none"><g filter="url(#pb)"><rect x="-10" y="-10" width="120" height="120" fill="#8E9A4E"/><rect x="-10" y="-10" width="120" height="14" fill="#A8B070"/><rect x="-10" y="4" width="120" height="5" fill="#5E6E3A"/><rect x="-10" y="70" width="120" height="50" fill="#8A9448"/><ellipse cx="42" cy="46" rx="34" ry="24" fill="#7E6678"/><ellipse cx="40" cy="36" rx="22" ry="10" fill="#9A86A0" opacity="0.8"/><ellipse cx="84" cy="62" rx="14" ry="12" fill="#74607A"/><rect x="14" y="58" width="11" height="24" fill="#6A566A"/><rect x="66" y="60" width="11" height="22" fill="#6A566A"/><ellipse cx="60" cy="78" rx="9" ry="7" fill="#7A6478"/><rect x="54" y="80" width="5" height="9" fill="#6A566A"/></g></svg>
<svg style="left:2903.0px;top:1590.6px;overflow:hidden;" width="90.0" height="90.0" viewBox="0 0 100 100" preserveAspectRatio="none"><g filter="url(#pb)"><rect x="-10" y="-10" width="120" height="120" fill="#9A8C5A"/><rect x="-10" y="-10" width="120" height="32" fill="#8A8250"/><rect x="-10" y="6" width="120" height="10" fill="#B4B088"/><rect x="-10" y="84" width="120" height="30" fill="#D2B070"/><rect x="-10" y="72" width="120" height="12" fill="#6E7A3A"/><ellipse cx="52" cy="52" rx="42" ry="26" fill="#8A7672"/><ellipse cx="50" cy="40" rx="30" ry="10" fill="#B8A8A0" opacity="0.8"/><ellipse cx="92" cy="40" rx="12" ry="14" fill="#826E6C"/><rect x="16" y="64" width="11" height="22" fill="#6E5E5C"/><rect x="70" y="64" width="12" height="22" fill="#6E5E5C"/><ellipse cx="28" cy="72" rx="10" ry="7" fill="#7A6868"/><rect x="22" y="76" width="4" height="10" fill="#6A5A58"/><rect x="32" y="76" width="4" height="10" fill="#6A5A58"/></g></svg>
<svg style="left:2995.4px;top:1590.6px;overflow:hidden;" width="90.0" height="90.0" viewBox="0 0 100 100" preserveAspectRatio="none"><g filter="url(#pb)"><rect x="-10" y="-10" width="120" height="120" fill="#8E9E4A"/><rect x="-10" y="-10" width="120" height="18" fill="#A8B472"/><rect x="-10" y="10" width="120" height="8" fill="#6A7A3E"/><rect x="-10" y="18" width="30" height="50" fill="#B4BC7A"/><rect x="-10" y="84" width="120" height="30" fill="#8A9A44"/><ellipse cx="68" cy="45" rx="48" ry="36" fill="#86707E"/><ellipse cx="62" cy="30" rx="30" ry="12" fill="#A0909E" opacity="0.8"/><ellipse cx="30" cy="80" rx="22" ry="9" fill="#7A6676"/><ellipse cx="50" cy="82" rx="10" ry="7" fill="#866E7C"/><ellipse cx="20" cy="42" rx="8" ry="20" fill="#6E7E3A"/></g></svg>
<svg style="left:2113.7px;top:1721.0px;overflow:hidden;" width="90.0" height="90.0" viewBox="0 0 100 100" preserveAspectRatio="none"><g filter="url(#pb)"><rect x="-10" y="-10" width="120" height="120" fill="#8E8E8E"/><ellipse cx="80" cy="35" rx="30" ry="50" fill="#B2B2B2"/><ellipse cx="10" cy="30" rx="26" ry="44" fill="#808080"/><ellipse cx="14" cy="90" rx="24" ry="20" fill="#A4A4A4"/><ellipse cx="90" cy="90" rx="20" ry="22" fill="#8A8A8A"/><ellipse cx="40" cy="6" rx="30" ry="10" fill="#9A9A9A"/><path d="M31 110 L30 96 L17 88 L18 70 L24 56 L40 44 L46 36 L62 38 L72 44 L78 56 L80 80 L80 110 Z" fill="#151517"/><path d="M43 36 L58 38 L57 60 L50 50 Z" fill="#E2E2E2"/><path d="M51 42 L55.500 42 L57 58 L54 62 Z" fill="#9C9C9C"/><ellipse cx="56" cy="26" rx="9.5" ry="14" fill="#C9C9C9"/><path d="M46 18 C46 6 54 4 60 5 C66 6 68 12 67 18 C62 12 54 12 50 16 L48 26 Z" fill="#454545"/><ellipse cx="53" cy="27" rx="2" ry="1" fill="#444"/><ellipse cx="61" cy="27" rx="2" ry="1" fill="#444"/><ellipse cx="57" cy="36" rx="3" ry="0.9" fill="#777"/><ellipse cx="59" cy="80" rx="7.5" ry="5.5" fill="#E2E2E2"/><path d="M64 77 L71 79 L70.500 81 L64 80 Z" fill="#F0F0F0"/><path d="M18 80 L50 76 L52 88 L22 94 Z" fill="#202022"/></g></svg>
<svg style="left:2223.1px;top:1721.8px;overflow:hidden;" width="90.0" height="90.0" viewBox="0 0 100 100" preserveAspectRatio="none"><g filter="url(#pb)"><rect x="-10" y="-10" width="120" height="120" fill="#8E8E8E"/><ellipse cx="80" cy="35" rx="30" ry="50" fill="#B2B2B2"/><ellipse cx="10" cy="30" rx="26" ry="44" fill="#808080"/><ellipse cx="14" cy="90" rx="24" ry="20" fill="#A4A4A4"/><ellipse cx="90" cy="90" rx="20" ry="22" fill="#8A8A8A"/><ellipse cx="40" cy="6" rx="30" ry="10" fill="#9A9A9A"/><path d="M31 110 L30 96 L17 88 L18 70 L24 56 L40 44 L46 36 L62 38 L72 44 L78 56 L80 80 L80 110 Z" fill="#151517"/><path d="M43 36 L58 38 L57 60 L50 50 Z" fill="#E2E2E2"/><path d="M51 42 L55.500 42 L57 58 L54 62 Z" fill="#9C9C9C"/><ellipse cx="56" cy="26" rx="9.5" ry="14" fill="#C9C9C9"/><path d="M46 18 C46 6 54 4 60 5 C66 6 68 12 67 18 C62 12 54 12 50 16 L48 26 Z" fill="#454545"/><ellipse cx="53" cy="27" rx="2" ry="1" fill="#444"/><ellipse cx="61" cy="27" rx="2" ry="1" fill="#444"/><ellipse cx="57" cy="36" rx="3" ry="0.9" fill="#777"/><ellipse cx="59" cy="80" rx="7.5" ry="5.5" fill="#E2E2E2"/><path d="M64 77 L71 79 L70.500 81 L64 80 Z" fill="#F0F0F0"/><path d="M18 80 L50 76 L52 88 L22 94 Z" fill="#202022"/></g></svg>
<svg style="left:2315.2px;top:1721.8px;overflow:hidden;" width="90.0" height="90.0" viewBox="0 0 100 100" preserveAspectRatio="none"><g filter="url(#pb)"><rect x="-10" y="-10" width="120" height="120" fill="#8E8E8E"/><ellipse cx="80" cy="35" rx="30" ry="50" fill="#B2B2B2"/><ellipse cx="10" cy="30" rx="26" ry="44" fill="#808080"/><ellipse cx="14" cy="90" rx="24" ry="20" fill="#A4A4A4"/><ellipse cx="90" cy="90" rx="20" ry="22" fill="#8A8A8A"/><ellipse cx="40" cy="6" rx="30" ry="10" fill="#9A9A9A"/><path d="M31 110 L30 96 L17 88 L18 70 L24 56 L40 44 L46 36 L62 38 L72 44 L78 56 L80 80 L80 110 Z" fill="#151517"/><path d="M43 36 L58 38 L57 60 L50 50 Z" fill="#E2E2E2"/><path d="M51 42 L55.500 42 L57 58 L54 62 Z" fill="#9C9C9C"/><ellipse cx="56" cy="26" rx="9.5" ry="14" fill="#C9C9C9"/><path d="M46 18 C46 6 54 4 60 5 C66 6 68 12 67 18 C62 12 54 12 50 16 L48 26 Z" fill="#454545"/><ellipse cx="53" cy="27" rx="2" ry="1" fill="#444"/><ellipse cx="61" cy="27" rx="2" ry="1" fill="#444"/><ellipse cx="57" cy="36" rx="3" ry="0.9" fill="#777"/><ellipse cx="59" cy="80" rx="7.5" ry="5.5" fill="#E2E2E2"/><path d="M64 77 L71 79 L70.500 81 L64 80 Z" fill="#F0F0F0"/><path d="M18 80 L50 76 L52 88 L22 94 Z" fill="#202022"/></g></svg>
<svg style="left:2407.6px;top:1721.8px;overflow:hidden;" width="90.0" height="90.0" viewBox="0 0 100 100" preserveAspectRatio="none"><g filter="url(#pb)"><rect x="-10" y="-10" width="120" height="120" fill="#8E8E8E"/><ellipse cx="80" cy="35" rx="30" ry="50" fill="#B2B2B2"/><ellipse cx="10" cy="30" rx="26" ry="44" fill="#808080"/><ellipse cx="14" cy="90" rx="24" ry="20" fill="#A4A4A4"/><ellipse cx="90" cy="90" rx="20" ry="22" fill="#8A8A8A"/><ellipse cx="40" cy="6" rx="30" ry="10" fill="#9A9A9A"/><path d="M31 110 L30 96 L17 88 L18 70 L24 56 L40 44 L46 36 L62 38 L72 44 L78 56 L80 80 L80 110 Z" fill="#151517"/><path d="M43 36 L58 38 L57 60 L50 50 Z" fill="#E2E2E2"/><path d="M51 42 L55.500 42 L57 58 L54 62 Z" fill="#9C9C9C"/><ellipse cx="56" cy="26" rx="9.5" ry="14" fill="#C9C9C9"/><path d="M46 18 C46 6 54 4 60 5 C66 6 68 12 67 18 C62 12 54 12 50 16 L48 26 Z" fill="#454545"/><ellipse cx="53" cy="27" rx="2" ry="1" fill="#444"/><ellipse cx="61" cy="27" rx="2" ry="1" fill="#444"/><ellipse cx="57" cy="36" rx="3" ry="0.9" fill="#777"/><ellipse cx="59" cy="80" rx="7.5" ry="5.5" fill="#E2E2E2"/><path d="M64 77 L71 79 L70.500 81 L64 80 Z" fill="#F0F0F0"/><path d="M18 80 L50 76 L52 88 L22 94 Z" fill="#202022"/></g></svg>
<svg style="left:2516.6px;top:1721.8px;overflow:hidden;" width="90.0" height="90.0" viewBox="0 0 100 100" preserveAspectRatio="none"><g filter="url(#pb)"><rect x="-10" y="-10" width="120" height="120" fill="#8E8E8E"/><ellipse cx="80" cy="35" rx="30" ry="50" fill="#B2B2B2"/><ellipse cx="10" cy="30" rx="26" ry="44" fill="#808080"/><ellipse cx="14" cy="90" rx="24" ry="20" fill="#A4A4A4"/><ellipse cx="90" cy="90" rx="20" ry="22" fill="#8A8A8A"/><ellipse cx="40" cy="6" rx="30" ry="10" fill="#9A9A9A"/><path d="M31 110 L30 96 L17 88 L18 70 L24 56 L40 44 L46 36 L62 38 L72 44 L78 56 L80 80 L80 110 Z" fill="#151517"/><path d="M43 36 L58 38 L57 60 L50 50 Z" fill="#E2E2E2"/><path d="M51 42 L55.500 42 L57 58 L54 62 Z" fill="#9C9C9C"/><ellipse cx="56" cy="26" rx="9.5" ry="14" fill="#C9C9C9"/><path d="M46 18 C46 6 54 4 60 5 C66 6 68 12 67 18 C62 12 54 12 50 16 L48 26 Z" fill="#454545"/><ellipse cx="53" cy="27" rx="2" ry="1" fill="#444"/><ellipse cx="61" cy="27" rx="2" ry="1" fill="#444"/><ellipse cx="57" cy="36" rx="3" ry="0.9" fill="#777"/><ellipse cx="59" cy="80" rx="7.5" ry="5.5" fill="#E2E2E2"/><path d="M64 77 L71 79 L70.500 81 L64 80 Z" fill="#F0F0F0"/><path d="M18 80 L50 76 L52 88 L22 94 Z" fill="#202022"/></g></svg>
<svg style="left:2608.7px;top:1721.8px;overflow:hidden;" width="90.0" height="90.0" viewBox="0 0 100 100" preserveAspectRatio="none"><g filter="url(#pb)"><rect x="-10" y="-10" width="120" height="120" fill="#8E8E8E"/><ellipse cx="80" cy="35" rx="30" ry="50" fill="#B2B2B2"/><ellipse cx="10" cy="30" rx="26" ry="44" fill="#808080"/><ellipse cx="14" cy="90" rx="24" ry="20" fill="#A4A4A4"/><ellipse cx="90" cy="90" rx="20" ry="22" fill="#8A8A8A"/><ellipse cx="40" cy="6" rx="30" ry="10" fill="#9A9A9A"/><path d="M31 110 L30 96 L17 88 L18 70 L24 56 L40 44 L46 36 L62 38 L72 44 L78 56 L80 80 L80 110 Z" fill="#151517"/><path d="M43 36 L58 38 L57 60 L50 50 Z" fill="#E2E2E2"/><path d="M51 42 L55.500 42 L57 58 L54 62 Z" fill="#9C9C9C"/><ellipse cx="56" cy="26" rx="9.5" ry="14" fill="#C9C9C9"/><path d="M46 18 C46 6 54 4 60 5 C66 6 68 12 67 18 C62 12 54 12 50 16 L48 26 Z" fill="#454545"/><ellipse cx="53" cy="27" rx="2" ry="1" fill="#444"/><ellipse cx="61" cy="27" rx="2" ry="1" fill="#444"/><ellipse cx="57" cy="36" rx="3" ry="0.9" fill="#777"/><ellipse cx="59" cy="80" rx="7.5" ry="5.5" fill="#E2E2E2"/><path d="M64 77 L71 79 L70.500 81 L64 80 Z" fill="#F0F0F0"/><path d="M18 80 L50 76 L52 88 L22 94 Z" fill="#202022"/></g></svg>
<svg style="left:2701.5px;top:1721.8px;overflow:hidden;" width="90.0" height="90.0" viewBox="0 0 100 100" preserveAspectRatio="none"><g filter="url(#pb)"><rect x="-10" y="-10" width="120" height="120" fill="#9C9C9C"/><path d="M4 110 L10 84 L38 68 L66 68 L94 84 L100 110 Z" fill="#141416"/><ellipse cx="52" cy="34" rx="15" ry="20.25" fill="#D8D8D8"/><ellipse cx="52" cy="17.75" rx="15.75" ry="8.25" fill="#2A2A2A"/><rect x="47" y="47" width="10" height="25" fill="#D8D8D8"/><path d="M43 68 L52 90 L61 68 Z" fill="#F2F2F2"/><path d="M49.5 72 L54.5 72 L55.5 98 L48.5 98 Z" fill="#333"/><ellipse cx="46.0" cy="32" rx="1.8" ry="1.1" fill="#333"/><ellipse cx="58.0" cy="32" rx="1.8" ry="1.1" fill="#333"/></g></svg>
<svg style="left:2810.9px;top:1721.8px;overflow:hidden;" width="90.0" height="90.0" viewBox="0 0 100 100" preserveAspectRatio="none"><g filter="url(#pb)"><rect x="-10" y="-10" width="120" height="120" fill="#6E6E6E"/><ellipse cx="80" cy="30" rx="40" ry="50" fill="#8A8A8A"/><path d="M0 110 L14 84 L46 66 L70 70 L96 92 L100 110 Z" fill="#151515"/><ellipse cx="56" cy="32" rx="19" ry="24" fill="#CFCFCF"/><ellipse cx="64" cy="14" rx="20" ry="12" fill="#1A1A1A"/><ellipse cx="76" cy="30" rx="8" ry="18" fill="#222"/><path d="M44 62 L66 62 L62 110 L40 110 Z" fill="#F0F0F0"/><ellipse cx="42" cy="84" rx="10" ry="12" fill="#D8D8D8"/></g></svg>
<svg style="left:2903.0px;top:1721.8px;overflow:hidden;" width="90.0" height="90.0" viewBox="0 0 100 100" preserveAspectRatio="none"><g filter="url(#pb)"><rect x="-10" y="-10" width="120" height="120" fill="#9A9A9A"/><ellipse cx="70" cy="30" rx="36" ry="40" fill="#C4C4C4"/><ellipse cx="20" cy="22" rx="11" ry="14" fill="#D2D2D2"/><ellipse cx="20" cy="10" rx="11" ry="6" fill="#333"/><path d="M-6 110 L0 56 L20 44 L42 56 L44 110 Z" fill="#3A3A3A"/><path d="M12 48 L20 80 L28 48 Z" fill="#CFCFCF"/><ellipse cx="68" cy="36" rx="11" ry="14" fill="#D8D8D8"/><ellipse cx="68" cy="24" rx="14" ry="9" fill="#444"/><path d="M42 110 L46 66 L68 54 L92 66 L96 110 Z" fill="#8E8E8E"/><path d="M62 56 L68 92 L74 56 Z" fill="#E0E0E0"/><rect x="66" y="60" width="4" height="34" fill="#222"/></g></svg>
<svg style="left:2995.4px;top:1721.8px;overflow:hidden;" width="90.0" height="90.0" viewBox="0 0 100 100" preserveAspectRatio="none"><g filter="url(#pb)"><rect x="-10" y="-10" width="120" height="120" fill="#7E7E7E"/><path d="M4 110 L10 72 L38 56 L66 56 L94 72 L100 110 Z" fill="#141416"/><ellipse cx="52" cy="30" rx="11.5" ry="15.525" fill="#D8D8D8"/><ellipse cx="52" cy="17.075000000000003" rx="12.075000000000001" ry="6.325" fill="#2A2A2A"/><rect x="47" y="39.5" width="10" height="20.5" fill="#D8D8D8"/><path d="M43 56 L52 78 L61 56 Z" fill="#F2F2F2"/><path d="M49.5 60 L54.5 60 L55.5 86 L48.5 86 Z" fill="#333"/><ellipse cx="47.4" cy="28" rx="1.8" ry="1.1" fill="#333"/><ellipse cx="56.6" cy="28" rx="1.8" ry="1.1" fill="#333"/></g></svg>
<div class="t" style="left:2453.5px;top:1564.0px;font-size:14.6px;color:#111;letter-spacing:0.481px;">“Living in the Light with Ann Graham Lotz”</div>
<div class="t" style="left:2458.8px;top:1691.6px;font-size:14.6px;color:#111;letter-spacing:0.696px;">“Mothers influence on her young hippo”</div>
<div class="t" style="left:2324.4px;top:1819.6px;font-size:14.6px;color:#111;letter-spacing:0.295px;">“Long-Lost F. Scott Fitzgerald Story Rediscovered and Published, 76 Years Later”</div>
<div class="t" style="left:2424.7px;top:1851.3px;font-size:31.1px;color:#E54426;">Qualitative Comparisons</div>
<div class="t" style="left:3274.5px;top:1848.6px;font-size:31.1px;color:#E54426;">Quantitative Comparisons</div>
<svg style="left:0;top:0" width="3840" height="1920"><rect x="3186" y="1479.4" width="270.5" height="294.5999999999999" fill="#EAEAF2"/><path d="M3234.1 1479.4 V1774" stroke="#fff" stroke-width="1.3"/><path d="M3283.8 1479.4 V1774" stroke="#fff" stroke-width="1.3"/><path d="M3333.5 1479.4 V1774" stroke="#fff" stroke-width="1.3"/><path d="M3382.8 1479.4 V1774" stroke="#fff" stroke-width="1.3"/><path d="M3432.4 1479.4 V1774" stroke="#fff" stroke-width="1.3"/><path d="M3186 1491.0 H3456.5" stroke="#fff" stroke-width="1.3"/><path d="M3186 1546.2 H3456.5" stroke="#fff" stroke-width="1.3"/><path d="M3186 1601.3 H3456.5" stroke="#fff" stroke-width="1.3"/><path d="M3186 1656.4 H3456.5" stroke="#fff" stroke-width="1.3"/><path d="M3186 1711.9 H3456.5" stroke="#fff" stroke-width="1.3"/><path d="M3186 1767.4 H3456.5" stroke="#fff" stroke-width="1.3"/><polyline points="3199.2,1706.5 3221.3,1676.2 3236.0,1645.1 3267.9,1611.7 3302.8,1585.7 3337.3,1546.1 3359.1,1522.1 3383.1,1495.3" fill="none" stroke="#4C72B0" stroke-width="2.5" stroke-linejoin="round"/><g fill="#4C72B0"><circle cx="3199.2" cy="1706.5" r="4.6"/><circle cx="3221.3" cy="1676.2" r="4.6"/><circle cx="3236.0" cy="1645.1" r="4.6"/><circle cx="3267.9" cy="1611.7" r="4.6"/><circle cx="3302.8" cy="1585.7" r="4.6"/><circle cx="3337.3" cy="1546.1" r="4.6"/><circle cx="3359.1" cy="1522.1" r="4.6"/><circle cx="3383.1" cy="1495.3" r="4.6"/></g><polyline points="3197.2,1708.8 3238.0,1678.9 3265.9,1647.1 3276.8,1609.0 3307.1,1578.4 3327.3,1551.2 3357.1,1516.3 3375.8,1492.2" fill="none" stroke="#DD8452" stroke-width="2.5" stroke-linejoin="round"/><g fill="#DD8452"><circle cx="3197.2" cy="1708.8" r="4.6"/><circle cx="3238.0" cy="1678.9" r="4.6"/><circle cx="3265.9" cy="1647.1" r="4.6"/><circle cx="3276.8" cy="1609.0" r="4.6"/><circle cx="3307.1" cy="1578.4" r="4.6"/><circle cx="3327.3" cy="1551.2" r="4.6"/><circle cx="3357.1" cy="1516.3" r="4.6"/><circle cx="3375.8" cy="1492.2" r="4.6"/></g><polyline points="3217.0,1755.8 3244.6,1747.2 3273.7,1741.4 3338.1,1718.9 3366.8,1704.1 3404.5,1673.1 3445.3,1606.3" fill="none" stroke="#55A868" stroke-width="2.5" stroke-linejoin="round"/><g fill="#55A868"><circle cx="3217.0" cy="1755.8" r="4.6"/><circle cx="3244.6" cy="1747.2" r="4.6"/><circle cx="3273.7" cy="1741.4" r="4.6"/><circle cx="3338.1" cy="1718.9" r="4.6"/><circle cx="3366.8" cy="1704.1" r="4.6"/><circle cx="3404.5" cy="1673.1" r="4.6"/><circle cx="3445.3" cy="1606.3" r="4.6"/></g><polyline points="3213.1,1761.2 3243.8,1754.2 3284.6,1744.9 3330.4,1729.0 3380.8,1702.2 3412.6,1672.7 3444.1,1609.8" fill="none" stroke="#C44E52" stroke-width="2.5" stroke-linejoin="round"/><g fill="#C44E52"><circle cx="3213.1" cy="1761.2" r="4.6"/><circle cx="3243.8" cy="1754.2" r="4.6"/><circle cx="3284.6" cy="1744.9" r="4.6"/><circle cx="3330.4" cy="1729.0" r="4.6"/><circle cx="3380.8" cy="1702.2" r="4.6"/><circle cx="3412.6" cy="1672.7" r="4.6"/><circle cx="3444.1" cy="1609.8" r="4.6"/></g><rect x="3192.6" y="1486.800" width="128.800" height="95.400" rx="3" fill="#EAEAF2" fill-opacity="0.8" stroke="#D0D0D8" stroke-width="1.1"/><path d="M3198.4 1499.6 H3231.4" stroke="#4C72B0" stroke-width="2.5"/><circle cx="3214.9" cy="1499.6" r="4.6" fill="#4C72B0"/><path d="M3198.4 1522.5 H3231.4" stroke="#DD8452" stroke-width="2.5"/><circle cx="3214.9" cy="1522.5" r="4.6" fill="#DD8452"/><path d="M3198.4 1545.4 H3231.4" stroke="#55A868" stroke-width="2.5"/><circle cx="3214.9" cy="1545.4" r="4.6" fill="#55A868"/><path d="M3198.4 1568.3 H3231.4" stroke="#C44E52" stroke-width="2.5"/><circle cx="3214.9" cy="1568.3" r="4.6" fill="#C44E52"/><rect x="3523.7" y="1479.4" width="268.9000000000001" height="294.5999999999999" fill="#EAEAF2"/><path d="M3522.9 1479.4 V1774" stroke="#fff" stroke-width="1.3"/><path d="M3597.4 1479.4 V1774" stroke="#fff" stroke-width="1.3"/><path d="M3671.9 1479.4 V1774" stroke="#fff" stroke-width="1.3"/><path d="M3746.8 1479.4 V1774" stroke="#fff" stroke-width="1.3"/><path d="M3523.7 1501.5 H3792.6" stroke="#fff" stroke-width="1.3"/><path d="M3523.7 1537.6 H3792.6" stroke="#fff" stroke-width="1.3"/><path d="M3523.7 1574.1 H3792.6" stroke="#fff" stroke-width="1.3"/><path d="M3523.7 1610.2 H3792.6" stroke="#fff" stroke-width="1.3"/><path d="M3523.7 1646.3 H3792.6" stroke="#fff" stroke-width="1.3"/><path d="M3523.7 1683.2 H3792.6" stroke="#fff" stroke-width="1.3"/><path d="M3523.7 1719.3 H3792.6" stroke="#fff" stroke-width="1.3"/><path d="M3523.7 1755.8 H3792.6" stroke="#fff" stroke-width="1.3"/><polyline points="3560.1,1732.1 3612.5,1706.1 3694.4,1652.9 3727.4,1620.7 3745.3,1594.3 3755.4,1564.8 3761.6,1548.9 3769.4,1492.6" fill="none" stroke="#4C72B0" stroke-width="2.5" stroke-linejoin="round"/><g fill="#4C72B0"><circle cx="3560.1" cy="1732.1" r="4.6"/><circle cx="3612.5" cy="1706.1" r="4.6"/><circle cx="3694.4" cy="1652.9" r="4.6"/><circle cx="3727.4" cy="1620.7" r="4.6"/><circle cx="3745.3" cy="1594.3" r="4.6"/><circle cx="3755.4" cy="1564.8" r="4.6"/><circle cx="3761.6" cy="1548.9" r="4.6"/><circle cx="3769.4" cy="1492.6" r="4.6"/></g><polyline points="3533.0,1758.5 3627.3,1715.0 3684.4,1675.8 3716.6,1647.5 3737.1,1620.7 3752.7,1599.3 3760.0,1576.8 3773.6,1520.1" fill="none" stroke="#DD8452" stroke-width="2.5" stroke-linejoin="round"/><g fill="#DD8452"><circle cx="3533.0" cy="1758.5" r="4.6"/><circle cx="3627.3" cy="1715.0" r="4.6"/><circle cx="3684.4" cy="1675.8" r="4.6"/><circle cx="3716.6" cy="1647.5" r="4.6"/><circle cx="3737.1" cy="1620.7" r="4.6"/><circle cx="3752.7" cy="1599.3" r="4.6"/><circle cx="3760.0" cy="1576.8" r="4.6"/><circle cx="3773.6" cy="1520.1" r="4.6"/></g><polyline points="3607.9,1736.0 3654.5,1706.1 3700.7,1668.8 3728.6,1637.8 3747.6,1603.2 3761.6,1559.7 3781.4,1517.0" fill="none" stroke="#55A868" stroke-width="2.5" stroke-linejoin="round"/><g fill="#55A868"><circle cx="3607.9" cy="1736.0" r="4.6"/><circle cx="3654.5" cy="1706.1" r="4.6"/><circle cx="3700.7" cy="1668.8" r="4.6"/><circle cx="3728.6" cy="1637.8" r="4.6"/><circle cx="3747.6" cy="1603.2" r="4.6"/><circle cx="3761.6" cy="1559.7" r="4.6"/><circle cx="3781.4" cy="1517.0" r="4.6"/></g><polyline points="3597.4,1761.2 3640.5,1732.9 3658.3,1717.3 3676.6,1700.6 3712.3,1666.9 3754.2,1606.7 3779.8,1534.9" fill="none" stroke="#C44E52" stroke-width="2.5" stroke-linejoin="round"/><g fill="#C44E52"><circle cx="3597.4" cy="1761.2" r="4.6"/><circle cx="3640.5" cy="1732.9" r="4.6"/><circle cx="3658.3" cy="1717.3" r="4.6"/><circle cx="3676.6" cy="1700.6" r="4.6"/><circle cx="3712.3" cy="1666.9" r="4.6"/><circle cx="3754.2" cy="1606.7" r="4.6"/><circle cx="3779.8" cy="1534.9" r="4.6"/></g><rect x="3528.3" y="1486.800" width="128.800" height="95.400" rx="3" fill="#EAEAF2" fill-opacity="0.8" stroke="#D0D0D8" stroke-width="1.1"/><path d="M3534.1000000000004 1499.6 H3567.1000000000004" stroke="#4C72B0" stroke-width="2.5"/><circle cx="3550.6000000000004" cy="1499.6" r="4.6" fill="#4C72B0"/><path d="M3534.1000000000004 1522.5 H3567.1000000000004" stroke="#DD8452" stroke-width="2.5"/><circle cx="3550.6000000000004" cy="1522.5" r="4.6" fill="#DD8452"/><path d="M3534.1000000000004 1545.4 H3567.1000000000004" stroke="#55A868" stroke-width="2.5"/><circle cx="3550.6000000000004" cy="1545.4" r="4.6" fill="#55A868"/><path d="M3534.1000000000004 1568.3 H3567.1000000000004" stroke="#C44E52" stroke-width="2.5"/><circle cx="3550.6000000000004" cy="1568.3" r="4.6" fill="#C44E52"/></svg>
<div class="t" style="left:3218.9px;top:1783.8px;font-size:13.8px;color:#262626;letter-spacing:1.138px;">26.0</div>
<div class="t" style="left:3268.6px;top:1783.8px;font-size:13.8px;color:#262626;letter-spacing:1.138px;">26.5</div>
<div class="t" style="left:3318.3px;top:1783.8px;font-size:13.8px;color:#262626;letter-spacing:1.138px;">27.0</div>
<div class="t" style="left:3367.6px;top:1783.8px;font-size:13.8px;color:#262626;letter-spacing:1.138px;">27.5</div>
<div class="t" style="left:3417.2px;top:1783.8px;font-size:13.8px;color:#262626;letter-spacing:1.138px;">28.0</div>
<div class="t" style="left:3139.5px;top:1484.3px;font-size:13.8px;color:#262626;letter-spacing:1.450px;">0.40</div>
<div class="t" style="left:3139.5px;top:1539.5px;font-size:13.8px;color:#262626;letter-spacing:1.450px;">0.35</div>
<div class="t" style="left:3139.5px;top:1594.6px;font-size:13.8px;color:#262626;letter-spacing:1.450px;">0.30</div>
<div class="t" style="left:3139.5px;top:1649.7px;font-size:13.8px;color:#262626;letter-spacing:1.450px;">0.25</div>
<div class="t" style="left:3139.5px;top:1705.2px;font-size:13.8px;color:#262626;letter-spacing:1.450px;">0.20</div>
<div class="t" style="left:3139.5px;top:1760.7px;font-size:13.8px;color:#262626;letter-spacing:1.450px;">0.15</div>
<div class="t" style="left:3242.0px;top:1492.2px;font-size:14.6px;color:#262626;letter-spacing:2.295px;">m+PE</div>
<div class="t" style="left:3242.0px;top:1515.1px;font-size:14.6px;color:#262626;letter-spacing:2.175px;">m'+PE</div>
<div class="t" style="left:3242.0px;top:1538.0px;font-size:14.6px;color:#262626;letter-spacing:1.610px;">m+PRSS</div>
<div class="t" style="left:3242.0px;top:1560.9px;font-size:14.6px;color:#262626;letter-spacing:1.597px;">m'+PRSS</div>
<div class="t" style="left:3255.3px;top:1455.1px;font-size:18.2px;font-weight:bold;color:#1A1A1A;letter-spacing:3.049px;">Global Mem</div>
<div class="t" style="left:3276.1px;top:1806.4px;font-size:15.8px;color:#262626;letter-spacing:0.935px;">CLIP Score</div>
<div class="t" style="left:3507.7px;top:1783.8px;font-size:13.8px;color:#262626;letter-spacing:1.138px;">24.5</div>
<div class="t" style="left:3582.2px;top:1783.8px;font-size:13.8px;color:#262626;letter-spacing:1.138px;">25.0</div>
<div class="t" style="left:3656.7px;top:1783.8px;font-size:13.8px;color:#262626;letter-spacing:1.138px;">25.5</div>
<div class="t" style="left:3731.6px;top:1783.8px;font-size:13.8px;color:#262626;letter-spacing:1.138px;">26.0</div>
<div class="t" style="left:3477.2px;top:1494.8px;font-size:13.8px;color:#262626;letter-spacing:1.450px;">0.60</div>
<div class="t" style="left:3477.2px;top:1530.9px;font-size:13.8px;color:#262626;letter-spacing:1.450px;">0.55</div>
<div class="t" style="left:3477.2px;top:1567.4px;font-size:13.8px;color:#262626;letter-spacing:1.450px;">0.50</div>
<div class="t" style="left:3477.2px;top:1603.5px;font-size:13.8px;color:#262626;letter-spacing:1.450px;">0.45</div>
<div class="t" style="left:3477.2px;top:1639.6px;font-size:13.8px;color:#262626;letter-spacing:1.450px;">0.40</div>
<div class="t" style="left:3477.2px;top:1676.5px;font-size:13.8px;color:#262626;letter-spacing:1.450px;">0.35</div>
<div class="t" style="left:3477.2px;top:1712.6px;font-size:13.8px;color:#262626;letter-spacing:1.450px;">0.30</div>
<div class="t" style="left:3477.2px;top:1749.1px;font-size:13.8px;color:#262626;letter-spacing:1.450px;">0.25</div>
<div class="t" style="left:3577.7px;top:1492.2px;font-size:14.6px;color:#262626;letter-spacing:2.295px;">m+PE</div>
<div class="t" style="left:3577.7px;top:1515.1px;font-size:14.6px;color:#262626;letter-spacing:2.175px;">m'+PE</div>
<div class="t" style="left:3577.7px;top:1538.0px;font-size:14.6px;color:#262626;letter-spacing:1.610px;">m+PRSS</div>
<div class="t" style="left:3577.7px;top:1560.9px;font-size:14.6px;color:#262626;letter-spacing:1.597px;">m'+PRSS</div>
<div class="t" style="left:3596.9px;top:1455.1px;font-size:18.2px;font-weight:bold;color:#1A1A1A;letter-spacing:2.963px;">Local Mem</div>
<div class="t" style="left:3611.9px;top:1806.4px;font-size:15.8px;color:#262626;letter-spacing:0.935px;">CLIP Score</div>
<div class="t" style="left:3125.4px;top:1626.9px;font-size:15.8px;color:#262626;letter-spacing:0.55px;transform:translate(-50%,-50%) rotate(-90deg)">Average SSCD Similarity</div>
</body></html>
